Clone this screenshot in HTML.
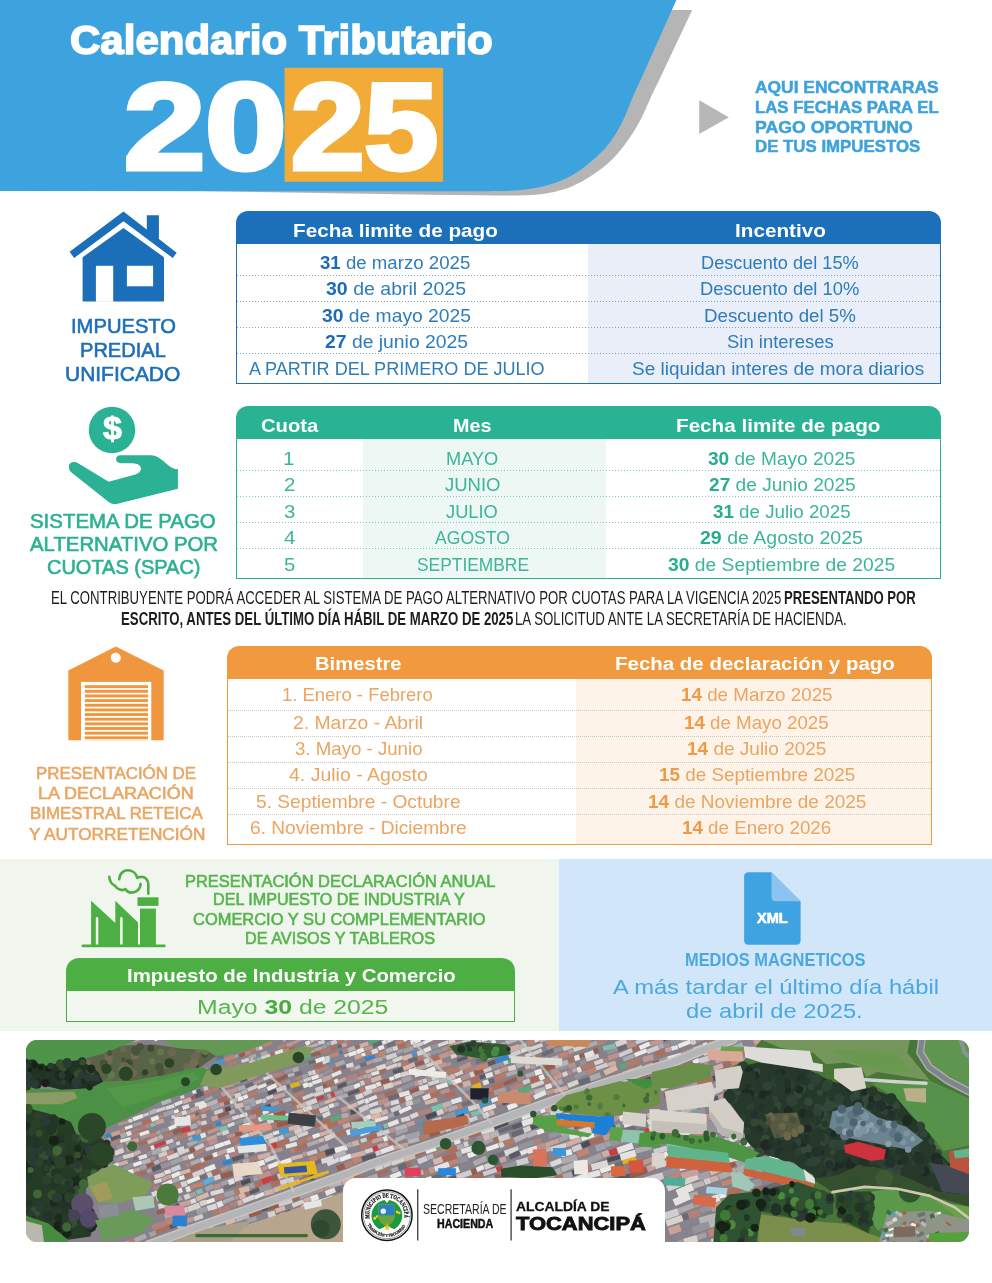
<!DOCTYPE html>
<html lang="es">
<head>
<meta charset="utf-8">
<title>Calendario Tributario 2025</title>
<style>
html,body{margin:0;padding:0;background:#fff;}
body{width:992px;height:1283px;position:relative;overflow:hidden;font-family:"Liberation Sans",sans-serif;}
.abs{position:absolute;}
.t{position:absolute;white-space:nowrap;line-height:1;transform-origin:0 0;font-weight:400;}
.t b{font-weight:700;}
section,header,footer{position:absolute;left:0;top:0;width:992px;height:0;}
.tbl{position:absolute;overflow:hidden;border-radius:12px 12px 0 0;}
.tbl .bd{position:absolute;left:1px;right:1px;bottom:1px;background:#fff;overflow:hidden;}
.tbl .col{position:absolute;top:0;bottom:0;}
.tbl .ln{position:absolute;left:0;right:0;height:1px;}
svg{position:absolute;left:0;top:0;overflow:visible;}
</style>
</head>
<body>

<header>
<svg width="992" height="200" viewBox="0 0 992 200">
  <path d="M600,9.9 H692.2 L659.2,80 C657.9,82.7 654.4,89.7 651.4,96.1 C648.4,102.5 645.0,111.2 641.3,118.3 C637.6,125.4 633.9,131.8 629.2,138.5 C624.5,145.2 619.2,152.5 613.1,158.6 C607.0,164.7 600.0,170.1 592.9,174.8 C585.8,179.5 578.1,183.9 570.7,186.9 C563.3,189.9 555.9,191.5 548.5,192.9 C541.1,194.3 534.4,194.9 526.4,195.3 C518.4,195.7 507.9,195.5 500.2,195.5 C492.5,195.5 483.4,195.3 480.0,195.3 L430,194.8 L200,191 Z" fill="#b5b5b5"/>
  <path d="M0,0 H676.4 L640.6,80 C639.4,82.7 635.8,90.1 633.2,96.1 C630.6,102.1 628.0,109.6 625.0,116.0 C622.0,122.4 619.4,128.3 615.4,134.4 C611.4,140.5 606.8,146.7 601.0,152.6 C595.2,158.5 587.5,165.0 580.8,169.7 C574.1,174.4 567.3,177.9 560.6,180.8 C553.9,183.7 547.2,185.4 540.5,186.9 C533.8,188.4 527.0,189.3 520.3,190.0 C513.6,190.7 506.9,190.9 500.2,191.1 C493.5,191.3 483.4,191.2 480.0,191.2 L0,191.1 Z" fill="#3da3df"/>
  <rect x="284.6" y="67.8" width="158.5" height="114" fill="#f3ab37"/>
  <path d="M699.2,100.3 L728.9,117.2 L699.2,134.1 Z" fill="#b7b7b7"/>
</svg>
<span class="t" style="left:69.75px;top:20.55px;font-size:39.83px;color:#fff;-webkit-text-stroke:1.60px #fff;transform:scaleX(1.0551)"><b>Calendario Tributario</b></span>
<span class="t" style="left:124.40px;top:66.07px;font-size:122.82px;color:#fff;-webkit-text-stroke:5.00px #fff;transform:scaleX(1.1886)"><b>20</b></span>
<span class="t" style="left:290.71px;top:66.07px;font-size:122.82px;color:#fff;-webkit-text-stroke:5.00px #fff;transform:scaleX(1.0748)"><b>25</b></span>
<span class="t" style="left:755.19px;top:80.48px;font-size:16.86px;color:#3ea2dd;-webkit-text-stroke:0.50px #3ea2dd;transform:scaleX(1.0324)"><b>AQUI ENCONTRARAS</b></span>
<span class="t" style="left:755.00px;top:100.48px;font-size:16.86px;color:#3ea2dd;-webkit-text-stroke:0.50px #3ea2dd;transform:scaleX(0.9952)"><b>LAS FECHAS PARA EL</b></span>
<span class="t" style="left:754.87px;top:119.98px;font-size:16.86px;color:#3ea2dd;-webkit-text-stroke:0.50px #3ea2dd;transform:scaleX(1.0482)"><b>PAGO OPORTUNO</b></span>
<span class="t" style="left:754.99px;top:139.48px;font-size:16.86px;color:#3ea2dd;-webkit-text-stroke:0.50px #3ea2dd;transform:scaleX(0.9982)"><b>DE TUS IMPUESTOS</b></span>
</header>

<section id="predial">
<svg width="992" height="400" viewBox="0 0 992 400">
  <g fill="#1b6eb8">
    <path d="M146.8,215.3 H158.9 V242 L146.8,232.6 Z"/>
    <path d="M123.5,211.6 L176.7,252.8 L172.7,258 L123.5,221.3 L74.1,258 L69.6,251.7 Z"/>
    <path d="M123.5,228 L164,257.3 V301.4 H82.6 V257.3 Z"/>
  </g>
  <rect x="95.9" y="265.8" width="17.3" height="36" fill="#fff"/>
  <rect x="126.9" y="265.8" width="26.2" height="20.5" fill="#fff"/>
</svg>
<div class="tbl" style="left:236px;top:211px;width:705px;height:173px;background:#1c70b9;border-radius:12px 12px 0 0;">
  <div class="bd" style="top:32.8px;background:#fff;">
    <div class="col" style="left:351px;width:353px;background:#e9eef9;"></div>
    <div class="ln" style="top:31.2px;background:repeating-linear-gradient(90deg,#7fa3c8 0 1px,transparent 1px 3px);"></div>
    <div class="ln" style="top:57.2px;background:repeating-linear-gradient(90deg,#7fa3c8 0 1px,transparent 1px 3px);"></div>
    <div class="ln" style="top:83.2px;background:repeating-linear-gradient(90deg,#7fa3c8 0 1px,transparent 1px 3px);"></div>
    <div class="ln" style="top:109.2px;background:repeating-linear-gradient(90deg,#7fa3c8 0 1px,transparent 1px 3px);"></div>
  </div>
</div>
<span class="t" style="left:70.90px;top:316.47px;font-size:20.35px;color:#1c6fb8;-webkit-text-stroke:0.60px #1c6fb8;transform:scaleX(0.9920)">IMPUESTO</span>
<span class="t" style="left:79.77px;top:340.47px;font-size:20.35px;color:#1c6fb8;-webkit-text-stroke:0.60px #1c6fb8;transform:scaleX(0.9862)">PREDIAL</span>
<span class="t" style="left:64.84px;top:364.35px;font-size:20.49px;color:#1c6fb8;-webkit-text-stroke:0.60px #1c6fb8;transform:scaleX(1.0236)">UNIFICADO</span>
<span class="t" style="left:292.87px;top:220.88px;font-size:19.04px;color:#fff;transform:scaleX(1.0887)"><b>Fecha limite de pago</b></span>
<span class="t" style="left:734.83px;top:220.88px;font-size:19.04px;color:#fff;transform:scaleX(1.0877)"><b>Incentivo</b></span>
<span class="t" style="left:320.00px;top:255.24px;font-size:17.44px;color:#2d7cbc;transform:scaleX(1.0688)"><b style="color:#1b6cb6">31</b> de marzo 2025</span>
<span class="t" style="left:701.44px;top:255.24px;font-size:17.44px;color:#2d7cbc;transform:scaleX(1.0426)">Descuento del 15%</span>
<span class="t" style="left:326.00px;top:281.49px;font-size:17.44px;color:#2d7cbc;transform:scaleX(1.1192)"><b style="color:#1b6cb6">30</b> de abril 2025</span>
<span class="t" style="left:700.37px;top:281.49px;font-size:17.44px;color:#2d7cbc;transform:scaleX(1.0534)">Descuento del 10%</span>
<span class="t" style="left:321.50px;top:307.74px;font-size:17.44px;color:#2d7cbc;transform:scaleX(1.1056)"><b style="color:#1b6cb6">30</b> de mayo 2025</span>
<span class="t" style="left:704.26px;top:307.74px;font-size:17.44px;color:#2d7cbc;transform:scaleX(1.0729)">Descuento del 5%</span>
<span class="t" style="left:324.50px;top:333.99px;font-size:17.44px;color:#2d7cbc;transform:scaleX(1.1090)"><b style="color:#1b6cb6">27</b> de junio 2025</span>
<span class="t" style="left:726.87px;top:333.99px;font-size:17.44px;color:#2d7cbc;transform:scaleX(1.0578)">Sin intereses</span>
<span class="t" style="left:249.04px;top:361.24px;font-size:17.44px;color:#2d7cbc;transform:scaleX(1.0355)">A PARTIR DEL PRIMERO DE JULIO</span>
<span class="t" style="left:631.74px;top:361.24px;font-size:17.44px;color:#2d7cbc;transform:scaleX(1.0881)">Se liquidan interes de mora diarios</span>
</section>

<section id="spac">
<svg width="992" height="600" viewBox="0 0 992 600">
  <g fill="#2bb193">
    <circle cx="112" cy="430" r="23.2"/>
    <path d="M68.9,466.3 C68.9,463 73.5,460.6 78.1,463.2 L108.7,481.8 L135.3,474.6 C139.5,473 141.3,470.5 140.9,468 C140.4,465 137,463.6 133,463.3 L120.9,463.2 C114.5,463 114.5,455.2 120.5,455.2 L150.9,455.2 C158,455.2 163,461 168,465 C171,467.5 174,469.2 177.9,469.2 L177.9,488.7 L117.6,503.8 C113.5,504.6 111,503.6 108.7,502 L71.5,472.6 C69.5,470.8 68.9,468.8 68.9,466.3 Z"/>
  </g>
</svg>
<span class="t" style="left:103px;top:412.4px;font-size:32px;color:#fff;font-weight:700;-webkit-text-stroke:0.9px #fff;transform:scaleX(1.06)">$</span>
<div class="tbl" style="left:236px;top:406px;width:705px;height:173px;background:#2ab294;border-radius:12px 12px 0 0;">
  <div class="bd" style="top:33px;background:#fff;">
    <div class="col" style="left:125.9px;width:243.2px;background:#edf7f3;"></div>
    <div class="ln" style="top:31px;background:repeating-linear-gradient(90deg,#7cc9b6 0 1px,transparent 1px 3px);"></div>
    <div class="ln" style="top:57px;background:repeating-linear-gradient(90deg,#7cc9b6 0 1px,transparent 1px 3px);"></div>
    <div class="ln" style="top:83px;background:repeating-linear-gradient(90deg,#7cc9b6 0 1px,transparent 1px 3px);"></div>
    <div class="ln" style="top:109px;background:repeating-linear-gradient(90deg,#7cc9b6 0 1px,transparent 1px 3px);"></div>
  </div>
</div>
<span class="t" style="left:30.39px;top:511.71px;font-size:19.48px;color:#2bb193;-webkit-text-stroke:0.60px #2bb193;transform:scaleX(1.0488)">SISTEMA DE PAGO</span>
<span class="t" style="left:29.95px;top:534.97px;font-size:19.77px;color:#2bb193;-webkit-text-stroke:0.60px #2bb193;transform:scaleX(1.0294)">ALTERNATIVO POR</span>
<span class="t" style="left:46.64px;top:558.47px;font-size:19.77px;color:#2bb193;-webkit-text-stroke:0.60px #2bb193;transform:scaleX(1.0106)">CUOTAS (SPAC)</span>
<span class="t" style="left:260.50px;top:416.38px;font-size:19.04px;color:#fff;transform:scaleX(1.0640)"><b>Cuota</b></span>
<span class="t" style="left:453.24px;top:416.38px;font-size:19.04px;color:#fff;transform:scaleX(1.0376)"><b>Mes</b></span>
<span class="t" style="left:675.87px;top:416.38px;font-size:19.04px;color:#fff;transform:scaleX(1.0861)"><b>Fecha limite de pago</b></span>
<span class="t" style="left:283.32px;top:451.24px;font-size:17.44px;color:#3db59a;transform:scaleX(1.1700)">1</span>
<span class="t" style="left:446.44px;top:451.24px;font-size:17.44px;color:#3db59a;transform:scaleX(1.0436)">MAYO</span>
<span class="t" style="left:707.50px;top:451.24px;font-size:17.44px;color:#3db59a;transform:scaleX(1.0934)"><b style="color:#27ad90">30</b> de Mayo 2025</span>
<span class="t" style="left:283.74px;top:477.39px;font-size:17.44px;color:#3db59a;transform:scaleX(1.1700)">2</span>
<span class="t" style="left:444.92px;top:477.39px;font-size:17.44px;color:#3db59a;transform:scaleX(1.0609)">JUNIO</span>
<span class="t" style="left:708.50px;top:477.39px;font-size:17.44px;color:#3db59a;transform:scaleX(1.0962)"><b style="color:#27ad90">27</b> de Junio 2025</span>
<span class="t" style="left:283.67px;top:503.54px;font-size:17.44px;color:#3db59a;transform:scaleX(1.1700)">3</span>
<span class="t" style="left:446.44px;top:503.54px;font-size:17.44px;color:#3db59a;transform:scaleX(1.0487)">JULIO</span>
<span class="t" style="left:712.50px;top:503.54px;font-size:17.44px;color:#3db59a;transform:scaleX(1.0753)"><b style="color:#27ad90">31</b> de Julio 2025</span>
<span class="t" style="left:283.98px;top:529.69px;font-size:17.44px;color:#3db59a;transform:scaleX(1.1700)">4</span>
<span class="t" style="left:434.55px;top:529.69px;font-size:17.44px;color:#3db59a;transform:scaleX(1.0085)">AGOSTO</span>
<span class="t" style="left:699.50px;top:529.69px;font-size:17.44px;color:#3db59a;transform:scaleX(1.1201)"><b style="color:#27ad90">29</b> de Agosto 2025</span>
<span class="t" style="left:283.63px;top:556.84px;font-size:17.44px;color:#3db59a;transform:scaleX(1.1700)">5</span>
<span class="t" style="left:416.58px;top:556.84px;font-size:17.44px;color:#3db59a;transform:scaleX(0.9965)">SEPTIEMBRE</span>
<span class="t" style="left:668.00px;top:556.84px;font-size:17.44px;color:#3db59a;transform:scaleX(1.1050)"><b style="color:#27ad90">30</b> de Septiembre de 2025</span>
</section>

<section id="nota">
<span class="t" style="left:51.44px;top:589.37px;font-size:18.90px;color:#1d1d1b;transform:scaleX(0.6977)">EL CONTRIBUYENTE PODRÁ ACCEDER AL SISTEMA DE PAGO ALTERNATIVO POR CUOTAS PARA LA VIGENCIA 2025</span>
<span class="t" style="left:784.31px;top:589.01px;font-size:18.90px;color:#1d1d1b;transform:scaleX(0.6944)"><b>PRESENTANDO POR</b></span>
<span class="t" style="left:121.30px;top:610.01px;font-size:18.90px;color:#1d1d1b;transform:scaleX(0.6995)"><b>ESCRITO, ANTES DEL ÚLTIMO DÍA HÁBIL DE MARZO DE 2025</b></span>
<span class="t" style="left:515.42px;top:610.39px;font-size:18.90px;color:#1d1d1b;transform:scaleX(0.7012)">LA SOLICITUD ANTE LA SECRETARÍA DE HACIENDA.</span>
</section>

<section id="reteica">
<svg width="992" height="860" viewBox="0 0 992 860">
  <path d="M115.8,646.4 L163.7,670.4 V740.2 H68.3 V670.4 Z" fill="#f0963e"/>
  <circle cx="115.8" cy="657.7" r="5" fill="#fff"/>
  <rect x="81" y="681.9" width="70.3" height="58.5" fill="#fff"/>
  <g fill="#f0963e">
    <rect x="84.8" y="685.2" width="63.2" height="2.9"/>
    <rect x="84.8" y="689.85" width="63.2" height="2.9"/>
    <rect x="84.8" y="694.5" width="63.2" height="2.9"/>
    <rect x="84.8" y="699.15" width="63.2" height="2.9"/>
    <rect x="84.8" y="703.8" width="63.2" height="2.9"/>
    <rect x="84.8" y="708.45" width="63.2" height="2.9"/>
    <rect x="84.8" y="713.1" width="63.2" height="2.9"/>
    <rect x="84.8" y="717.75" width="63.2" height="2.9"/>
    <rect x="84.8" y="722.4" width="63.2" height="2.9"/>
    <rect x="84.8" y="727.05" width="63.2" height="2.9"/>
    <rect x="84.8" y="731.7" width="63.2" height="2.9"/>
    <rect x="84.8" y="736.35" width="63.2" height="2.9"/>
  </g>
</svg>
<div class="tbl" style="left:227px;top:646px;width:704.6px;height:199.4px;background:#f0993f;border-radius:12px 12px 0 0;">
  <div class="bd" style="top:32.5px;background:#fff;">
    <div class="col" style="left:348.2px;width:356px;background:#fdf3e9;"></div>
    <div class="ln" style="top:31.5px;background:repeating-linear-gradient(90deg,#cfc6ba 0 1px,transparent 1px 2px);"></div>
    <div class="ln" style="top:57.5px;background:repeating-linear-gradient(90deg,#cfc6ba 0 1px,transparent 1px 2px);"></div>
    <div class="ln" style="top:83.5px;background:repeating-linear-gradient(90deg,#cfc6ba 0 1px,transparent 1px 2px);"></div>
    <div class="ln" style="top:109.5px;background:repeating-linear-gradient(90deg,#cfc6ba 0 1px,transparent 1px 2px);"></div>
    <div class="ln" style="top:135.5px;background:repeating-linear-gradient(90deg,#cfc6ba 0 1px,transparent 1px 2px);"></div>
  </div>
</div>
<span class="t" style="left:36.25px;top:766.05px;font-size:16.86px;color:#eaa562;-webkit-text-stroke:0.60px #eaa562;transform:scaleX(1.0011)">PRESENTACIÓN DE</span>
<span class="t" style="left:38.10px;top:786.43px;font-size:16.86px;color:#eaa562;-webkit-text-stroke:0.60px #eaa562;transform:scaleX(1.0659)">LA DECLARACIÓN</span>
<span class="t" style="left:29.77px;top:806.06px;font-size:16.86px;color:#eaa562;-webkit-text-stroke:0.60px #eaa562;transform:scaleX(1.0003)">BIMESTRAL RETEICA</span>
<span class="t" style="left:28.87px;top:826.94px;font-size:16.86px;color:#eaa562;-webkit-text-stroke:0.60px #eaa562;transform:scaleX(1.0216)">Y AUTORRETENCIÓN</span>
<span class="t" style="left:315.00px;top:653.76px;font-size:19.19px;color:#fff;transform:scaleX(1.0542)"><b>Bimestre</b></span>
<span class="t" style="left:614.92px;top:653.76px;font-size:19.19px;color:#fff;transform:scaleX(1.0666)"><b>Fecha de declaración y pago</b></span>
<span class="t" style="left:282.35px;top:687.49px;font-size:17.73px;color:#eaa562;transform:scaleX(1.0413)">1. Enero - Febrero</span>
<span class="t" style="left:681.18px;top:687.49px;font-size:17.73px;color:#eaa562;transform:scaleX(1.0610)"><b style="color:#ee9a47">14</b> de Marzo 2025</span>
<span class="t" style="left:292.50px;top:714.59px;font-size:17.73px;color:#eaa562;transform:scaleX(1.0918)">2. Marzo - Abril</span>
<span class="t" style="left:684.20px;top:714.59px;font-size:17.73px;color:#eaa562;transform:scaleX(1.0562)"><b style="color:#ee9a47">14</b> de Mayo 2025</span>
<span class="t" style="left:294.50px;top:740.69px;font-size:17.73px;color:#eaa562;transform:scaleX(1.0526)">3. Mayo - Junio</span>
<span class="t" style="left:687.11px;top:740.69px;font-size:17.73px;color:#eaa562;transform:scaleX(1.0721)"><b style="color:#ee9a47">14</b> de Julio 2025</span>
<span class="t" style="left:289.19px;top:766.79px;font-size:17.73px;color:#eaa562;transform:scaleX(1.1004)">4. Julio - Agosto</span>
<span class="t" style="left:658.65px;top:766.79px;font-size:17.73px;color:#eaa562;transform:scaleX(1.0651)"><b style="color:#ee9a47">15</b> de Septiembre 2025</span>
<span class="t" style="left:255.87px;top:793.89px;font-size:17.73px;color:#eaa562;transform:scaleX(1.0819)">5. Septiembre - Octubre</span>
<span class="t" style="left:647.62px;top:793.89px;font-size:17.73px;color:#eaa562;transform:scaleX(1.0711)"><b style="color:#ee9a47">14</b> de Noviembre de 2025</span>
<span class="t" style="left:249.98px;top:819.99px;font-size:17.73px;color:#eaa562;transform:scaleX(1.0787)">6. Noviembre - Diciembre</span>
<span class="t" style="left:682.19px;top:819.99px;font-size:17.73px;color:#eaa562;transform:scaleX(1.0592)"><b style="color:#ee9a47">14</b> de Enero 2026</span>
</section>

<section id="ica">
<div class="abs" style="left:0;top:859.2px;width:559px;height:171.5px;background:#f0f6ee;"></div>
<svg width="992" height="1040" viewBox="0 0 992 1040">
  <g fill="#4daf43">
    <rect x="137.5" y="897.3" width="21" height="8.6"/>
    <rect x="140" y="908.6" width="15.9" height="37.5"/>
    <path d="M91.1,946 V900.8 L115.3,923 V900.8 L138,922.5 V946 Z"/>
  </g>
  <path d="M97.05,918.2 V945 M121.4,918.2 V945" stroke="#f0f6ee" stroke-width="2.5" stroke-linecap="round" fill="none"/>
  <path d="M82.9,945.9 H164.4" stroke="#4daf43" stroke-width="2.6" stroke-linecap="round" fill="none"/>
  <path d="M148.3,893.8 V884 C148.3,879.5 145,876.8 141,876.9 C139.5,876.9 138.3,877.3 137.3,878 C136,872.5 131.5,870.3 127.9,870.3 C122.8,870.3 119.2,874.5 119.2,879.2 M140.5,883.8 C140.8,888.5 136.5,892.6 131.5,892.6 C128.8,892.6 126.7,891.3 125.4,889 C123.8,890.3 121.8,890.3 119.8,889.6 C117.6,888.8 116,887.6 115.3,886 C112,884.5 109.5,881 109.3,876.8" stroke="#4daf43" stroke-width="2.6" stroke-linecap="round" stroke-linejoin="round" fill="none"/>
</svg>
<div class="tbl" style="left:66px;top:958px;width:449px;height:63.8px;background:#4daf43;border-radius:13px 13px 0 0;">
  <div class="bd" style="top:33px;left:0.9px;right:0.9px;bottom:0.9px;background:#f2f7f0;"></div>
</div>
<span class="t" style="left:184.83px;top:872.92px;font-size:16.28px;color:#56b44d;-webkit-text-stroke:0.60px #56b44d;transform:scaleX(1.0110)">PRESENTACIÓN DECLARACIÓN ANUAL</span>
<span class="t" style="left:212.88px;top:890.92px;font-size:16.28px;color:#56b44d;-webkit-text-stroke:0.60px #56b44d;transform:scaleX(0.9920)">DEL IMPUESTO DE INDUSTRIA Y</span>
<span class="t" style="left:193.23px;top:910.95px;font-size:16.28px;color:#56b44d;-webkit-text-stroke:0.60px #56b44d;transform:scaleX(1.0115)">COMERCIO Y SU COMPLEMENTARIO</span>
<span class="t" style="left:244.88px;top:929.92px;font-size:16.28px;color:#56b44d;-webkit-text-stroke:0.60px #56b44d;transform:scaleX(0.9995)">DE AVISOS Y TABLEROS</span>
<span class="t" style="left:127.35px;top:967.61px;font-size:17.59px;color:#fff;transform:scaleX(1.1607)"><b>Impuesto de Industria y Comercio</b></span>
<span class="t" style="left:196.60px;top:997.77px;font-size:19.77px;color:#56b44d;transform:scaleX(1.2528)">Mayo <b style="color:#48ab40">30</b> de 2025</span>
</section>

<section id="medios">
<div class="abs" style="left:559px;top:859.2px;width:433px;height:171.5px;background:#d1e6f9;"></div>
<svg width="992" height="1040" viewBox="0 0 992 1040">
  <path d="M748.6,872.2 H771.5 L800.6,901.2 V940.3 Q800.6,944.8 796.1,944.8 H748.6 Q744.1,944.8 744.1,940.3 V876.7 Q744.1,872.2 748.6,872.2 Z" fill="#3fa3e1"/>
  <path d="M771.5,872.2 L800.6,901.2 H776 Q771.5,901.2 771.5,896.7 Z" fill="#8cc3ef"/>
</svg>
<span class="t" style="left:756.97px;top:910.64px;font-size:14.24px;color:#fff;-webkit-text-stroke:0.60px #fff;transform:scaleX(1.0223)"><b>XML</b></span>
<span class="t" style="left:684.64px;top:951.61px;font-size:17.59px;color:#4aa8e1;transform:scaleX(0.9336)"><b>MEDIOS MAGNETICOS</b></span>
<span class="t" style="left:613.30px;top:975.66px;font-size:21.08px;color:#4aa8e1;transform:scaleX(1.1268)">A más tardar el último día hábil</span>
<span class="t" style="left:686.47px;top:1001.28px;font-size:20.93px;color:#4aa8e1;transform:scaleX(1.1335)">de abril de 2025.</span>
</section>

<footer>
<div class="abs" id="photo" style="left:26.2px;top:1040.2px;width:942.6px;height:201.5px;border-radius:11px;overflow:hidden;background:#8b8f7d;">
<svg width="942.4" height="201.6" viewBox="26.2 1040.2 942.4 201.6" preserveAspectRatio="none" style="position:absolute;left:0;top:0"><defs><filter id="soft" x="0" y="0" width="100%" height="100%"><feGaussianBlur stdDeviation="0.55"/></filter></defs><g filter="url(#soft)">
<polygon points="26.0,1040.0 969.0,1040.0 969.0,1242.0 26.0,1242.0" fill="#86818a"/>
<path fill="#95939b" d="M25 1042.5l8 -3.1 1.1 3 -8 3.1zM23.3 1069.6l4.2 -1.5 1.1 3.1 -4.2 1.5zM139.7 1037.4l4.6 -1.7 1.1 3.1 -4.6 1.7zM226.6 1039.6l4 -1.1 1.1 3.9 -4 1.1zM229.3 1073.4l2.8 -0.8 1.1 3.9 -2.8 0.8zM283.9 1070.7l7.8 -2.7 1.2 3.5 -7.8 2.7zM169.6 1121.6l9.2 -3.2 1.5 4.4 -9.2 3.2zM257.4 1090.3l3.4 -1.1 1.2 3.8 -3.4 1.1zM261.2 1089.6l5.2 -1.7 1.1 3.5 -5.2 1.7zM285 1081.1l5 -1.7 1.3 3.8 -5 1.7zM115.8 1145.9l6.8 -2.4 1.4 3.9 -6.8 2.4zM160.6 1129.5l7.3 -2.3 1.1 3.5 -7.3 2.3zM230.4 1104.7l3.9 -1.2 1.2 3.9 -3.9 1.2zM323.4 1072.3l8.8 -3.8 1.3 3.1 -8.8 3.8zM129.9 1146.8l8.1 -2.4 1.1 3.5 -8.1 2.4zM114.3 1158.6l8.2 -2.8 1.4 4 -8.2 2.8zM173.1 1137.9l3.5 -1.6 1.4 3.2 -3.5 1.6zM430.7 1045.8l6.6 -2.4 1.5 4.2 -6.6 2.4zM146.8 1152.4l4 -1.5 1.4 4 -4 1.5zM168.7 1145l6.9 -2.1 1.2 3.9 -6.9 2.1zM234.4 1121.7l7.8 -2.9 1.3 3.5 -7.8 2.9zM330.6 1087.5l6.2 -2.1 1.1 3.2 -6.2 2.1zM346.5 1081.3l10.6 -4.4 1.5 3.5 -10.6 4.4zM430.3 1051.5l11.3 -3.1 1 3.7 -11.3 3.1zM118.2 1169.4l5.1 -1.7 1.5 4.6 -5.1 1.7zM123.7 1166.9l8.5 -3.8 1.7 3.9 -8.5 3.8zM197.2 1141.2l8.4 -3.5 1.4 3.4 -8.4 3.5zM487.3 1042.7l3.2 -1.4 1.8 4.2 -3.2 1.4zM160.5 1165.2l9.2 -3.4 1.5 4.1 -9.2 3.4zM299.7 1123.2l4.3 -1.3 1.1 3.6 -4.3 1.3zM402 1086.6l10.9 -4.9 1.7 3.8 -10.9 4.9zM283.2 1133.8l10.4 -2.8 1.2 4.5 -10.4 2.8zM360.5 1113l8.8 -3.3 1.9 4.9 -8.8 3.3zM491.3 1065.8l11.8 -3.5 1.1 3.8 -11.8 3.5zM228.1 1166l5.2 -2.1 1.9 4.6 -5.2 2.1zM400.5 1104.6l4.5 -1.6 1.6 4.5 -4.5 1.6zM412.6 1100.8l7.6 -2.5 1.4 4.3 -7.6 2.5zM553.6 1049.1l8.5 -3 1.4 4.1 -8.5 3zM460.2 1088.7l11.4 -4 1.5 4.3 -11.4 4zM253.5 1171.5l7.3 -3.1 2 4.6 -7.3 3.1zM559 1067.3l8 -3.4 1.6 3.7 -8 3.4zM579.4 1061.4l5.8 -1.8 1.4 4.6 -5.8 1.8zM606.8 1051.2l10.1 -4 1.4 3.6 -10.1 4zM441.5 1116.9l13 -5.4 2.1 5.1 -13 5.4zM259 1187l11.7 -3.6 1.6 5.2 -11.7 3.6zM293.4 1174.7l8 -2.4 1.7 5.4 -8 2.4zM574.2 1075.3l11.3 -4.8 1.8 4.3 -11.3 4.8zM663.6 1044l5.7 -1.5 1 3.9 -5.7 1.5zM669.6 1040.8l9.9 -4.2 2.3 5.3 -9.9 4.2zM477.3 1115.8l4.4 -1.6 1.9 5.2 -4.4 1.6zM225.8 1213.9l4.4 -1.2 1.2 4.2 -4.4 1.2zM507.5 1120l12.5 -5.5 2.2 5 -12.5 5.5zM629.3 1077.6l8.6 -2.9 1.7 5.1 -8.6 2.9zM475.9 1137.4l6.3 -2 1.5 4.7 -6.3 2zM716.9 1052.2l12 -5.5 2 4.3 -12 5.5zM372.3 1181.8l8 -2.6 1.7 5.2 -8 2.6zM380.6 1178l8.9 -2.6 1.2 4.1 -8.9 2.6zM727.9 1054.9l11.9 -4.9 2.1 5 -11.9 4.9zM458.3 1158.1l8.5 -2.7 1.8 5.7 -8.5 2.7zM572.1 1116.6l13.3 -5.2 1.6 4.1 -13.3 5.2zM705.6 1070.3l5.4 -1.6 1.7 5.9 -5.4 1.6zM738.8 1058.6l9.9 -3.9 2.2 5.6 -9.9 3.9zM518.3 1145.2l14.9 -5.3 1.8 5.1 -14.9 5.3zM548 1134.1l11.8 -4.6 2 5.1 -11.8 4.6zM582.3 1122.7l6.9 -2.3 1.9 5.8 -6.9 2.3zM814 1039.7l9.1 -2.4 1.5 5.8 -9.1 2.4zM709.1 1084.4l9.9 -2.7 1.4 5 -9.9 2.7zM502.3 1165.3l13.4 -4.8 2 5.6 -13.4 4.8zM615.6 1131.4l7.2 -2.5 1.6 4.6 -7.2 2.5zM881.4 1037.7l13.4 -4.9 1.6 4.3 -13.4 4.9zM610.1 1141.1l8.8 -2.7 1.8 5.8 -8.8 2.7zM691.3 1111.6l13.1 -4 1.8 5.7 -13.1 4zM702.6 1124.2l10.2 -4.2 2.5 6 -10.2 4.2zM702.3 1131.9l13.6 -6.1 2.5 5.6 -13.6 6.1zM968.9 1036.9l12.3 -5.1 2.1 5.1 -12.3 5.1zM738 1134.9l9 -3.1 1.7 5 -9 3.1zM662.8 1171.5l15.5 -4.7 1.8 5.8 -15.5 4.7zM752.1 1181l8 -2.9 2.5 6.8 -8 2.9zM699.4 1208.5l10.2 -3.5 1.9 5.5 -10.2 3.5zM691.5 1227.5l16.5 -6.2 2.6 6.8 -16.5 6.2z"/>
<path fill="#d0b0a6" d="M24.2 1136.5l6.3 -2.7 1.5 3.5 -6.3 2.7zM209.1 1076.6l4.2 -1.3 1 3.2 -4.2 1.3zM303.1 1047.3l6.1 -2.2 1.3 3.7 -6.1 2.2zM182.5 1100.4l8.1 -3.1 1.5 3.9 -8.1 3.1zM359.3 1044.5l8.7 -2.8 1.2 3.7 -8.7 2.8zM233.3 1099.2l3.7 -1.4 1.3 3.4 -3.7 1.4zM125.7 1142.2l3.7 -1 0.8 3.1 -3.7 1zM133.8 1152.5l6.1 -2.6 1.5 3.4 -6.1 2.6zM365.2 1070.6l10.6 -3.1 0.9 3.1 -10.6 3.1zM118.8 1162.8l8.6 -2.6 1.1 3.5 -8.6 2.6zM296.1 1104.7l9.2 -2.8 1.4 4.6 -9.2 2.8zM459.3 1052.2l5.6 -2.2 1.3 3.2 -5.6 2.2zM182.1 1156.9l5.1 -1.6 1.4 4.2 -5.1 1.6zM245.1 1142.6l9.3 -3.2 1.4 4.1 -9.3 3.2zM509.5 1047.5l9.2 -3.2 1.7 4.8 -9.2 3.2zM539.1 1038.3l8.3 -2.6 1.4 4.5 -8.3 2.6zM253.7 1150.1l4.7 -1.7 1.2 3.5 -4.7 1.7zM233.8 1164.5l6.2 -2.2 1.2 3.4 -6.2 2.2zM257.6 1155.5l12.4 -3.3 1.2 4.6 -12.4 3.3zM319.7 1132.9l12.2 -4 1.3 3.9 -12.2 4zM342.5 1125l7.2 -2.5 1.4 4.1 -7.2 2.5zM380.5 1111.7l6.5 -2.7 1.8 4.4 -6.5 2.7zM462.2 1082.8l7.6 -2.6 1.7 5.1 -7.6 2.6zM523.6 1060.9l5.5 -1.7 1.6 4.9 -5.5 1.7zM592.6 1035.5l4.6 -1.8 1.5 3.8 -4.6 1.8zM288.3 1165.1l10.2 -3.1 1.1 3.8 -10.2 3.1zM351.4 1142.2l6.8 -2.3 1.7 5.1 -6.8 2.3zM350.7 1154.3l13.7 -3.6 1.2 4.5 -13.7 3.6zM607.5 1063.3l7.7 -2.7 1.4 4 -7.7 2.7zM237 1201.3l4.7 -1.7 1.7 4.8 -4.7 1.7zM264.1 1191.2l9 -2.5 1.4 5.1 -9 2.5zM290.5 1182.5l8.7 -3.6 1.8 4.5 -8.7 3.6zM488.6 1111.3l4.8 -1.6 1.7 5 -4.8 1.6zM553.9 1089.4l13.4 -3.7 1.1 4.1 -13.4 3.7zM700.7 1035.7l10.8 -4.2 2 5.3 -10.8 4.2zM211.2 1219.7l6.5 -2.3 1.4 4.1 -6.5 2.3zM341.4 1180l11.4 -5.1 2.3 5.1 -11.4 5.1zM462.5 1135.7l5.2 -2 2.1 5.5 -5.2 2zM303.7 1199l6 -2.2 1.4 3.9 -6 2.2zM713.2 1066.8l9.1 -3.7 1.7 4.3 -9.1 3.7zM668.4 1098.3l7 -2.3 1.9 5.9 -7 2.3zM566.1 1142.8l14.2 -5.6 1.7 4.4 -14.2 5.6zM601.6 1152.5l6.6 -2.6 2.2 5.5 -6.6 2.6zM698.4 1118.2l7.8 -2.3 1.6 5.4 -7.8 2.3zM602.2 1174.8l5.9 -2.5 2.3 5.5 -5.9 2.5zM710.1 1177.4l7.6 -2.2 1.6 5.3 -7.6 2.2zM974.4 1234.2l10.5 -4.4 2.2 5.4 -10.5 4.4z"/>
<path fill="#5aa87a" d="M303.5 1056.1l7 -2.3 1.2 3.7 -7 2.3zM368.3 1041.3l10.4 -3.5 1.3 3.8 -10.4 3.5zM329.9 1118.3l10.6 -4.3 1.6 3.9 -10.6 4.3zM508 1060.9l7.5 -3.4 1.6 3.6 -7.5 3.4zM517.9 1089.1l12.7 -3.8 1.6 5.4 -12.7 3.8zM619.3 1065.3l6.3 -2.7 1.9 4.5 -6.3 2.7zM435.4 1146.3l9.8 -2.9 1.3 4.5 -9.8 2.9zM486.3 1156.2l5.9 -1.7 1.6 5.7 -5.9 1.7z"/>
<path fill="#70707a" d="M244.9 1037.6l7.9 -3.5 1.4 3.2 -7.9 3.5zM216.4 1056.4l6.7 -2 1.2 4 -6.7 2zM25.1 1129.5l3.4 -1.1 1.1 3.4 -3.4 1.1zM219.1 1087.7l4.1 -1.2 0.9 3.1 -4.1 1.2zM294.4 1073l7.3 -2.3 1.3 4.1 -7.3 2.3zM386.6 1044.1l8.4 -2.7 1.2 3.7 -8.4 2.7zM341.2 1066.6l4.4 -1.5 1.1 3.4 -4.4 1.5zM292.2 1089.3l10 -3.5 1.4 4 -10 3.5zM360.1 1063.6l5.8 -1.6 1 3.8 -5.8 1.6zM457.4 1036.8l10.1 -4.4 1.6 3.7 -10.1 4.4zM133 1158.2l3.4 -1.3 1.2 3.1 -3.4 1.3zM173.3 1149.4l3.2 -1.4 1.5 3.5 -3.2 1.4zM346 1098.4l7.1 -3 1.7 4.1 -7.1 3zM475.5 1059.9l10.8 -3 1.2 4.4 -10.8 3zM248 1152.5l5.2 -2.2 1.7 3.9 -5.2 2.2zM199.6 1176.5l6.8 -2.3 1.2 3.6 -6.8 2.3zM517 1068.9l7.2 -3 1.8 4.3 -7.2 3zM223.2 1187.2l12.5 -5.4 1.6 3.6 -12.5 5.4zM461.7 1103.5l10.1 -3.5 1.3 3.7 -10.1 3.5zM312.4 1162.2l8 -3.6 1.9 4.2 -8 3.6zM299.7 1179.3l9.4 -3.1 1.4 4.1 -9.4 3.1zM578.2 1089l7.3 -2.5 1.6 4.7 -7.3 2.5zM647 1071l13.5 -4.9 1.6 4.3 -13.5 4.9zM334.9 1188.6l6.1 -2.7 2.1 4.7 -6.1 2.7zM265.8 1219.5l9 -3.5 1.8 4.6 -9 3.5zM472.1 1146.5l7.2 -2.5 1.6 4.6 -7.2 2.5zM492.5 1154.8l11.4 -3.7 1.5 4.6 -11.4 3.7zM682.5 1093.7l15.5 -4.4 1.5 5.2 -15.5 4.4zM623.2 1128.4l12.2 -3.3 1.1 4.3 -12.2 3.3zM632.9 1131.9l9.5 -3.6 1.8 4.6 -9.5 3.6zM528.3 1178.9l4.6 -1.9 2 4.8 -4.6 1.9zM689.4 1121.8l8.6 -3.1 1.8 5 -8.6 3.1zM614.4 1163.8l7.2 -3.2 2.8 6.2 -7.2 3.2z"/>
<path fill="#5ab0e0" d="M227.9 1070l6.9 -1.8 0.9 3.6 -6.9 1.8zM294.5 1060.8l4.2 -1.5 1.1 3.2 -4.2 1.5zM202.9 1181.1l10 -4.5 1.9 4.3 -10 4.5zM189 1240.5l10.7 -4.9 2 4.4 -10.7 4.9zM858.3 1038.7l11 -4.5 2.2 5.4 -11 4.5z"/>
<path fill="#a3a1a8" d="M24 1038.1l9.1 -3.2 0.9 2.7 -9.1 3.2zM161.9 1036.1l6 -1.7 1 3.6 -6 1.7zM167.8 1038.3l7.4 -2.7 1.2 3.2 -7.4 2.7zM175.6 1035.4l3.7 -1.4 1.4 3.7 -3.7 1.4zM191.4 1039.3l6.2 -2.6 1.6 3.8 -6.2 2.6zM233.7 1056l4.4 -2 1.2 2.6 -4.4 2zM281.8 1039.1l3.3 -1.4 1.5 3.6 -3.3 1.4zM235 1066.2l4.3 -1.7 1.3 3.1 -4.3 1.7zM283.2 1054.5l10.1 -3.6 1.4 3.9 -10.1 3.6zM290.5 1055.8l6.1 -1.8 1 3.5 -6.1 1.8zM321.8 1046.1l4 -1.7 1.3 3.2 -4 1.7zM326.3 1043.2l3.7 -1.4 1.2 3.1 -3.7 1.4zM343.4 1038.4l9.9 -3.3 1.2 3.5 -9.9 3.3zM132.5 1124.2l9 -2.7 0.9 3.1 -9 2.7zM163.1 1113.3l10.3 -3.8 1.5 4.2 -10.3 3.8zM204.5 1099.1l7.6 -3.3 1.3 3.1 -7.6 3.3zM227.3 1095.7l6.6 -3 1.4 3 -6.6 3zM210.2 1106.6l8.6 -3 1.5 4.3 -8.6 3zM302.1 1075.3l5.3 -1.5 1 3.5 -5.3 1.5zM156 1131.4l4.3 -1.2 1 3.8 -4.3 1.2zM243.1 1100.7l11.1 -2.9 1.1 4.4 -11.1 2.9zM299.5 1080.8l3.3 -1.1 1 3.1 -3.3 1.1zM318.5 1074.4l4.7 -1.3 1 3.7 -4.7 1.3zM250.1 1102.8l4.9 -1.4 1.2 4.4 -4.9 1.4zM382.1 1055.9l3.3 -0.9 0.9 3.2 -3.3 0.9zM396.4 1051.2l5.8 -2.2 1.2 3.3 -5.8 2.2zM402.7 1049.4l10 -3.7 1.6 4.3 -10 3.7zM385.6 1062.1l6.4 -1.9 1.1 3.7 -6.4 1.9zM334.2 1092.2l8.1 -2.4 1.2 3.9 -8.1 2.4zM140.1 1166.3l5.8 -1.8 1.3 4 -5.8 1.8zM241.9 1130.4l8.3 -3.1 1.4 3.7 -8.3 3.1zM319 1103l4.8 -1.6 1.2 3.6 -4.8 1.6zM146.5 1170.1l4.7 -1.5 1.2 3.6 -4.7 1.5zM170.1 1161.4l11.6 -4.3 1.5 4.2 -11.6 4.3zM259.8 1130l11.5 -4.5 1.5 3.8 -11.5 4.5zM401.5 1078.7l9.1 -3.4 1.8 4.7 -9.1 3.4zM243.7 1154.6l3.9 -1.4 1.4 4 -3.9 1.4zM387.6 1114.7l6.1 -1.9 1.2 3.8 -6.1 1.9zM530 1064.7l4.5 -1.6 1.8 5.1 -4.5 1.6zM189.5 1193.6l6 -1.9 1.4 4.5 -6 1.9zM204.8 1187.6l7.6 -3.5 2 4.3 -7.6 3.5zM220.1 1182.7l7 -2.8 1.5 3.7 -7 2.8zM474.7 1092.7l11.8 -4.9 1.9 4.7 -11.8 4.9zM253 1176.8l4 -1.3 1.6 4.6 -4 1.3zM493.5 1091.2l11.5 -4.6 1.8 4.5 -11.5 4.6zM223.7 1193.1l10.1 -3.1 1.5 4.8 -10.1 3.1zM249 1184.8l4.7 -2 1.8 4.1 -4.7 2zM395.2 1132l11.9 -4.7 1.6 3.9 -11.9 4.7zM196 1209.8l10.6 -3 1.5 5.2 -10.6 3zM405.4 1135.1l13.8 -3.8 1.4 5.1 -13.8 3.8zM680.1 1037l12.4 -3.9 1.6 5.2 -12.4 3.9zM148.9 1233l6.3 -2.2 1.5 4.1 -6.3 2.2zM491 1119.3l13.4 -5.4 1.5 3.7 -13.4 5.4zM617.7 1074.3l4.1 -1.2 1.1 3.8 -4.1 1.2zM659.2 1059.7l7.6 -3.1 1.8 4.3 -7.6 3.1zM159.4 1244.4l8.7 -2.4 1.5 5.6 -8.7 2.4zM298.6 1194.2l13.9 -5 1.9 5.3 -13.9 5zM531.3 1112.5l7.7 -3.2 2 5 -7.7 3.2zM730 1041.1l13.7 -5.5 1.6 3.9 -13.7 5.5zM215.7 1231l8.9 -3.2 1.6 4.4 -8.9 3.2zM246.6 1219.2l9.5 -2.9 1.3 4.1 -9.5 2.9zM402.2 1171l5.9 -2.2 1.4 3.9 -5.9 2.2zM455.6 1152.5l4.8 -1.9 2.2 5.6 -4.8 1.9zM479.7 1142.9l12.5 -5.4 1.7 3.9 -12.5 5.4zM663.1 1077.8l12.3 -5.5 2.3 5.2 -12.3 5.5zM687.7 1085.6l8.9 -3.6 1.9 4.6 -8.9 3.6zM558.7 1138.1l9.5 -4.2 1.9 4.3 -9.5 4.2zM837.1 1037.9l13.2 -4.3 1.5 4.7 -13.2 4.3zM478.9 1180.3l15.4 -5.3 1.7 5 -15.4 5.3zM595 1145.8l9.3 -3.1 2 6.1 -9.3 3.1zM604.6 1142.8l5.1 -2 2 4.8 -5.1 2zM576.2 1161.8l9.1 -3 1.6 4.7 -9.1 3zM585.6 1159.3l15.2 -6.6 2.5 5.8 -15.2 6.6zM713.3 1120.6l9.4 -4.1 2 4.7 -9.4 4.1zM973 1042.6l16 -5.1 2 6.2 -16 5.1zM697.3 1174.6l11.3 -3.7 2 6.3 -11.3 3.7zM735.1 1160.8l11.2 -4.7 2.7 6.4 -11.2 4.7zM749 1155.9l5.9 -2.4 2.2 5.4 -5.9 2.4zM693.6 1202.4l15 -6.1 2.2 5.4 -15 6.1zM696.7 1235.4l8.9 -3.2 1.7 4.9 -8.9 3.2zM974.6 1242.1l13.4 -3.8 1.9 6.7 -13.4 3.8z"/>
<path fill="#d03a40" d="M191 1097l2.9 -1.1 1.1 2.8 -2.9 1.1zM180.6 1128.8l9 -2.4 1.2 4.5 -9 2.4zM154 1144.8l11.2 -4.2 1.3 3.4 -11.2 4.2zM316.4 1098l6.9 -2.5 1.2 3.3 -6.9 2.5zM330.6 1093.2l3.3 -1.2 1.7 4.5 -3.3 1.2zM268.7 1144.7l7.9 -2.1 1.3 4.8 -7.9 2.1zM261.1 1179.6l9.6 -4.2 2.2 5 -9.6 4.2zM372.5 1147.3l4.6 -1.8 1.9 4.9 -4.6 1.8zM496.2 1167.6l5.6 -2.2 1.9 4.8 -5.6 2.2zM642.9 1129.8l5.3 -1.6 1.7 5.5 -5.3 1.6zM608.7 1150.7l7.6 -2.7 2.1 5.8 -7.6 2.7z"/>
<path fill="#b06e58" d="M213.6 1074.5l3 -0.8 0.9 3.3 -3 0.8zM270.1 1053.4l4.1 -1.4 1 3 -4.1 1.4zM330.5 1047.3l6.6 -2.7 1.5 3.7 -6.6 2.7zM141.8 1121.6l8.7 -2.6 1.1 3.7 -8.7 2.6zM397.5 1045.5l7.5 -3.1 1.6 3.9 -7.5 3.1zM146.8 1147.5l3.2 -1.4 1.3 3 -3.2 1.4zM326.7 1082.9l6.9 -1.9 1.2 4.5 -6.9 1.9zM268.5 1110.5l5.9 -2.2 1.7 4.4 -5.9 2.2zM290.8 1102.5l11.2 -3.5 1.3 4.2 -11.2 3.5zM428.7 1058.5l9.8 -3.3 1.6 4.7 -9.8 3.3zM130.5 1176.1l8.8 -3.2 1.7 4.5 -8.8 3.2zM307.3 1112.5l11.3 -4 1.3 3.7 -11.3 4zM200 1164.7l5.2 -2.2 1.5 3.5 -5.2 2.2zM238 1150.4l6.6 -1.8 0.9 3.4 -6.6 1.8zM322.1 1120.3l7.6 -2 1.3 4.9 -7.6 2zM184.2 1174.9l7.4 -2.8 1.3 3.4 -7.4 2.8zM276.8 1142.9l11.9 -3.9 1.5 4.6 -11.9 3.9zM327.4 1124.2l10 -3 1.3 4.3 -10 3zM556 1043.5l10 -3 1.3 4.3 -10 3zM430.1 1094.1l9.6 -3.8 1.7 4.4 -9.6 3.8zM470.1 1079.5l8.5 -3.4 1.8 4.6 -8.5 3.4zM529.5 1058.9l11.7 -4.3 1.2 3.4 -11.7 4.3zM150.9 1200l4.7 -1.4 1.3 4.3 -4.7 1.4zM294.7 1148.2l11.4 -5 1.9 4.3 -11.4 5zM335.1 1133.6l6 -2 1.2 3.5 -6 2zM341.4 1131.1l4.1 -1.5 1.4 3.9 -4.1 1.5zM444.8 1094.2l10.2 -3.5 1.6 4.7 -10.2 3.5zM492 1085.2l11.4 -3 1.4 5.1 -11.4 3zM567.8 1058.4l6.1 -1.7 1.1 4 -6.1 1.7zM236.4 1183.3l3.8 -1.6 1.7 3.9 -3.8 1.6zM487.4 1093.1l5.7 -1.8 1.3 4.2 -5.7 1.8zM254.2 1183l6.6 -2.2 1.7 5.1 -6.6 2.2zM271 1182.4l8.5 -3 1.4 4 -8.5 3zM301.6 1171.9l5.9 -2.6 2 4.5 -5.9 2.6zM387.9 1141.1l6.5 -1.7 1.1 4.1 -6.5 1.7zM155.6 1230.6l13 -5.3 1.5 3.8 -13 5.3zM655.3 1052.7l9.2 -3.2 1.7 5 -9.2 3.2zM482.7 1122.9l7.8 -3.3 1.9 4.6 -7.8 3.3zM512 1111.6l9.8 -4.2 1.8 4.2 -9.8 4.2zM538.8 1102.3l7.7 -2.7 1.7 4.7 -7.7 2.7zM353.5 1174.9l6 -1.8 1.4 4.6 -6 1.8zM446.2 1149.3l10.1 -3 1.6 5.3 -10.1 3zM492.9 1137.9l4.7 -1.5 1.6 5 -4.7 1.5zM686.4 1077.2l12.4 -5.2 1.8 4.4 -12.4 5.2zM697.1 1081.3l15.1 -4.7 1.3 4.2 -15.1 4.7zM536.9 1159.2l10.6 -4.3 1.8 4.4 -10.6 4.3zM685.8 1114.1l5.1 -2.1 2.1 4.9 -5.1 2.1zM664 1130.8l9 -2.5 1.6 5.8 -9 2.5zM554.5 1176.5l7.6 -2.7 1.7 4.8 -7.6 2.7zM725.6 1191.5l16.5 -6.7 2.2 5.4 -16.5 6.7zM721.7 1201.3l13.2 -4.6 1.9 5.6 -13.2 4.6z"/>
<path fill="#b0827a" d="M276.9 1046.4l9.3 -3.3 1.2 3.3 -9.3 3.3zM239.7 1064.6l5.7 -1.7 1.1 3.6 -5.7 1.7zM213.3 1078.8l3.3 -1.3 1.4 3.4 -3.3 1.3zM265.8 1070.7l7.7 -3.5 1.7 3.8 -7.7 3.5zM274.1 1067.6l5.5 -2.5 1.4 3 -5.5 2.5zM272.4 1074.4l9.9 -2.7 1 3.8 -9.9 2.7zM342.2 1049.7l4.6 -1.9 1.7 4.1 -4.6 1.9zM131 1130.4l6.9 -2.4 1 2.9 -6.9 2.4zM111.5 1142.5l7.9 -3.4 1.6 3.7 -7.9 3.4zM130.5 1135.7l8.4 -3.3 1.3 3.2 -8.4 3.3zM276.4 1084.5l8.4 -2.4 1 3.3 -8.4 2.4zM295.3 1077.6l6.5 -2.1 1 3 -6.5 2.1zM319.1 1069.1l9.8 -3.9 1.3 3.1 -9.8 3.9zM365.4 1051.7l5.3 -2.1 1.7 4.2 -5.3 2.1zM374.6 1053.5l3.2 -1 1.4 4.4 -3.2 1zM405.5 1043.5l4.3 -1.2 1.1 4.1 -4.3 1.2zM345.6 1077.1l10.8 -4.2 1.6 4 -10.8 4.2zM364.1 1080.5l6.1 -2.7 2 4.4 -6.1 2.7zM203.7 1144.4l3.9 -1.8 1.4 3.1 -3.9 1.8zM193.3 1152.3l9.7 -4.4 2 4.4 -9.7 4.4zM185.4 1164l4.4 -1.2 1 3.7 -4.4 1.2zM376.8 1096l7.5 -2.1 1.2 4 -7.5 2.1zM229.1 1154.1l8.6 -2.8 1.2 3.6 -8.6 2.8zM464.4 1069.8l11 -4.6 1.9 4.4 -11 4.6zM152.6 1187.1l6.4 -2 1.4 4.4 -6.4 2zM263.8 1146.5l4.7 -1.3 1.1 4.2 -4.7 1.3zM349 1116.5l11.2 -3.8 1.2 3.6 -11.2 3.8zM423.7 1091l11.8 -4.5 1.8 4.9 -11.8 4.5zM517.8 1056.6l7 -2.2 1.2 4 -7 2.2zM174.3 1185l6.1 -1.7 1.3 4.8 -6.1 1.7zM249 1158.5l8.3 -2.9 1.3 3.7 -8.3 2.9zM290.2 1149.5l4.1 -1.3 1.3 3.9 -4.1 1.3zM350.5 1128l6.4 -1.7 1.2 4.3 -6.4 1.7zM597 1040.8l7.6 -2 1.3 5.1 -7.6 2zM417.8 1111.6l13.1 -3.9 1.3 4.3 -13.1 3.9zM463.7 1095.6l10.9 -3.2 1.3 4.4 -10.9 3.2zM516.7 1077.6l6.1 -2.6 2.1 4.9 -6.1 2.6zM270.4 1170.3l10.9 -4.3 1.6 4.2 -10.9 4.3zM509.9 1086.1l12.4 -3.6 1.6 5.4 -12.4 3.6zM214.5 1196.5l9 -2.6 1.3 4.5 -9 2.6zM602.8 1059.3l4.5 -1.4 1.4 4.3 -4.5 1.4zM151.3 1225.5l13.2 -4.8 1.9 5.3 -13.2 4.8zM495.5 1102.5l5.4 -1.8 1.2 3.8 -5.4 1.8zM113.8 1245.2l10 -3.6 1.5 4.1 -10 3.6zM217.9 1208.9l11 -3.4 1.6 5.2 -11 3.4zM229.1 1203.7l7.2 -3.3 2.1 4.6 -7.2 3.3zM344.1 1162.9l7.8 -2.2 1.5 5.4 -7.8 2.2zM525.6 1098l7.4 -2.3 1.4 4.7 -7.4 2.3zM178.6 1244l10.2 -3.3 1.7 5.3 -10.2 3.3zM236.5 1224.1l9.8 -3.3 1.6 4.7 -9.8 3.3zM433.3 1152.5l12.2 -5.4 1.7 3.9 -12.2 5.4zM674.5 1067.4l9.1 -3.1 1.7 4.9 -9.1 3.1zM549.6 1124.9l11.2 -4 1.7 4.8 -11.2 4zM749.2 1053.7l11.6 -4.4 2.1 5.4 -11.6 4.4zM533.5 1140.4l6.8 -2.7 2 5.1 -6.8 2.7zM719.2 1080.1l9.9 -3.1 1.9 5.9 -9.9 3.1zM599.8 1130l10.4 -3.4 1.4 4.3 -10.4 3.4zM692.5 1096.7l5.8 -1.7 1.3 4.4 -5.8 1.7zM663.2 1138.1l8.7 -2.8 1.5 4.7 -8.7 2.8zM725.6 1123l10.7 -3.6 2.1 6.3 -10.7 3.6zM687.9 1212.5l11.4 -3 1.7 6.4 -11.4 3zM793.6 1175.3l10.6 -3.4 2.4 7.3 -10.6 3.4z"/>
<path fill="#a86a5a" d="M21.5 1074.3l7.7 -2 1 3.6 -7.7 2zM261.7 1036.1l6.8 -2.9 1.5 3.6 -6.8 2.9zM288.9 1048.2l6.1 -2.4 1.1 2.7 -6.1 2.4zM246 1068.2l9.4 -3.1 0.9 2.7 -9.4 3.1zM354.8 1046l4 -1.7 1.4 3.3 -4 1.7zM217.5 1099.5l9.4 -3.3 1.5 4.1 -9.4 3.3zM313.7 1065.2l8.4 -2.7 1.3 4 -8.4 2.7zM332.9 1068.7l8.1 -2.6 1.3 4.1 -8.1 2.6zM138.2 1142.8l8.8 -2.7 1.1 3.6 -8.8 2.7zM200.8 1127.8l11 -3.7 1.4 4.1 -11 3.7zM250.5 1111.5l9.4 -4.1 1.9 4.3 -9.4 4.1zM278.8 1100.5l3.2 -1.2 1.2 3.2 -3.2 1.2zM255.9 1113.5l5.8 -2.6 1.5 3.3 -5.8 2.6zM379 1070.5l6.3 -2.6 1.6 4.1 -6.3 2.6zM139.7 1172.4l6.5 -2 1.2 3.8 -6.5 2zM150.1 1176.9l3.5 -1.6 2.1 4.7 -3.5 1.6zM384.5 1093.1l12.1 -3.9 1.5 4.7 -12.1 3.9zM190 1167.7l9.3 -4 1.9 4.3 -9.3 4zM314 1124.1l7.9 -2.2 1.3 4.9 -7.9 2.2zM398.7 1098.8l5.6 -2.2 1.7 4.4 -5.6 2.2zM211.6 1171.7l8.5 -2.5 1.2 4.1 -8.5 2.5zM449.2 1086.4l12.5 -4.9 1.3 3.4 -12.5 4.9zM363.7 1123.1l10.5 -3.2 1.2 3.9 -10.5 3.2zM366.5 1137.3l9.4 -4 1.8 4.2 -9.4 4zM529.6 1078.1l8.7 -2.8 1.7 5.3 -8.7 2.8zM632.2 1048.2l6.3 -2.6 1.6 4 -6.3 2.6zM244.5 1193l4.2 -1.3 1.3 4.3 -4.2 1.3zM380 1158.4l13 -4.8 1.7 4.7 -13 4.8zM292 1197l6.3 -1.9 1.4 4.8 -6.3 1.9zM414.8 1153l9.6 -4.1 1.7 4 -9.6 4.1zM468.1 1134.6l12.1 -3.8 1.2 4 -12.1 3.8zM660.9 1065.6l13.4 -5.3 1.6 3.9 -13.4 5.3zM377.3 1172.8l10.8 -4.2 1.5 3.9 -10.8 4.2zM405.9 1163.3l4.3 -1.6 2 5.2 -4.3 1.6zM684 1064l8.2 -2.8 1.6 4.8 -8.2 2.8zM209.2 1239.7l11.3 -4.8 2.1 5.1 -11.3 4.8zM442 1157.3l13.3 -4.5 1.9 5.7 -13.3 4.5zM722.8 1064l7.4 -2.2 1.3 4.3 -7.4 2.2zM794.6 1037.6l7.7 -2.1 1.3 4.8 -7.7 2.1zM467 1178.1l15.2 -6 2.2 5.4 -15.2 6zM589.2 1140.6l13.3 -4.3 1.7 5.2 -13.3 4.3zM695.9 1102.4l12.9 -5.8 2.1 4.7 -12.9 5.8zM648.1 1136l6 -1.9 1.5 4.9 -6 1.9zM723.4 1117.1l5.6 -1.9 1.5 4.6 -5.6 1.9zM689.2 1162.2l5.8 -1.6 1.7 6.4 -5.8 1.6zM761.4 1167.6l12.6 -5.7 2.2 4.9 -12.6 5.7zM748.7 1191.5l13.3 -5.2 2.2 5.5 -13.3 5.2z"/>
<path fill="#d8b6aa" d="M63.4 1039.1l6.3 -2.7 1.5 3.6 -6.3 2.7zM214.3 1069.2l4 -1.5 1.3 3.6 -4 1.5zM309.9 1040.1l3.8 -1.7 1.4 3.1 -3.8 1.7zM201 1115l4.8 -1.4 1.2 3.8 -4.8 1.4zM234.6 1104.6l8.4 -2.2 1.2 4.5 -8.4 2.2zM147.2 1140.9l10.2 -4.4 1.5 3.6 -10.2 4.4zM187.1 1133.4l7.6 -2.8 1.2 3.3 -7.6 2.8zM402.7 1056.4l8.9 -2.7 1.4 4.5 -8.9 2.7zM370.8 1078.9l9.8 -3.7 1.6 4.2 -9.8 3.7zM402.8 1067.1l11.3 -4.9 1.7 3.9 -11.3 4.9zM294.6 1111l7.9 -2.3 1.3 4.4 -7.9 2.3zM324.2 1101.4l11.2 -4.2 1.2 3.3 -11.2 4.2zM434 1061.7l7.8 -2.5 1.4 4.3 -7.8 2.5zM248.8 1133.3l10.6 -3.9 1.4 3.7 -10.6 3.9zM392.7 1082.9l8.5 -2.7 1.2 3.6 -8.5 2.7zM288.5 1127.4l11.1 -3.1 1.2 4.1 -11.1 3.1zM347.1 1106.1l9.6 -3.6 1.4 3.7 -9.6 3.6zM417.8 1080.8l4.2 -1.1 1.3 4.9 -4.2 1.1zM180.1 1171.8l9.7 -3.2 1.2 3.5 -9.7 3.2zM449.5 1075.2l5 -1.4 1.4 4.9 -5 1.4zM370.7 1115.6l9.3 -3.6 1.8 4.6 -9.3 3.6zM494.2 1071.1l5.4 -2 1.5 4.1 -5.4 2zM318.3 1139.5l5.4 -1.5 1 3.5 -5.4 1.5zM424.6 1101.4l12.2 -3.7 1.2 3.9 -12.2 3.7zM524.7 1066.3l4.9 -2 1.5 3.6 -4.9 2zM291 1157l11.5 -3 0.9 3.6 -11.5 3zM195.9 1197.1l11.9 -4.9 1.8 4.3 -11.9 4.9zM238.9 1188.5l10 -2.7 1.4 5.3 -10 2.7zM238.5 1194.9l5.5 -2.5 2.2 4.8 -5.5 2.5zM308 1170.7l5.5 -1.7 1.2 3.8 -5.5 1.7zM464.3 1115l4.2 -1.4 1.7 5.1 -4.2 1.4zM273.2 1188.5l13.6 -5.3 1.7 4.5 -13.6 5.3zM603.4 1070.6l12.4 -5.6 2.4 5.2 -12.4 5.6zM196.6 1225.1l13 -3.7 1.4 4.8 -13 3.7zM471.6 1126.4l10.4 -4.6 2.3 5.1 -10.4 4.6zM622.1 1072.4l11.5 -4.4 2 5.2 -11.5 4.4zM634.1 1068.4l7.6 -3.5 2.1 4.5 -7.6 3.5zM225 1221.3l9.4 -3.7 1.8 4.6 -9.4 3.7zM403.6 1156.9l10.9 -3.4 1.5 5 -10.9 3.4zM274.8 1209l9.7 -3.4 1.5 4.3 -9.7 3.4zM482.5 1135.5l6.4 -2.5 2.2 5.6 -6.4 2.5zM275.3 1216.5l4.6 -2 1.9 4.3 -4.6 2zM432.7 1159.6l9 -3 1.8 5.5 -9 3zM558.7 1115.9l10.7 -4.4 2 5 -10.7 4.4zM646.8 1083.7l8.1 -2.3 1.1 4.1 -8.1 2.3zM646.4 1114.2l5.9 -2.5 1.9 4.6 -5.9 2.5zM715.5 1112.4l7.3 -2 1.4 4.9 -7.3 2zM708.9 1170.1l14.9 -6.5 2.6 5.9 -14.9 6.5z"/>
<path fill="#ecebe8" d="M153.8 1038.7l7.5 -3.3 1.4 3.1 -7.5 3.3zM184.2 1037.4l3.3 -0.9 0.9 3.4 -3.3 0.9zM198.1 1038.1l6 -1.6 0.9 3.4 -6 1.6zM25.4 1120.4l8.8 -4 1.4 3.1 -8.8 4zM305 1042.1l4.4 -1.7 1.4 3.7 -4.4 1.7zM132.5 1117.7l9.9 -3.6 1.4 3.7 -9.9 3.6zM124.7 1127.1l7.5 -2.4 0.9 3 -7.5 2.4zM150.7 1118l7.5 -2.8 1.5 4.1 -7.5 2.8zM173.8 1110.6l4.4 -1.6 1.2 3.3 -4.4 1.6zM315.2 1059.5l9.2 -3.1 1.3 4 -9.2 3.1zM348 1053.4l7.8 -2.8 1.4 3.8 -7.8 2.8zM356.1 1050.4l7.1 -2.9 1.6 4 -7.1 2.9zM139.4 1133.3l9.3 -3.2 1.2 3.5 -9.3 3.2zM186.4 1115.9l3.4 -1 0.9 3.2 -3.4 1zM237.4 1097.7l5.1 -1.6 1.3 4 -5.1 1.6zM242.8 1096.1l4.5 -1.8 1.4 3.6 -4.5 1.8zM266.7 1087.4l9.1 -4.1 1.7 3.9 -9.1 4.1zM361.1 1054l4 -1.3 1 3 -4 1.3zM377.8 1047l5.6 -2.1 1.5 3.8 -5.6 2.1zM402.6 1038.3l3.3 -1.5 1.7 3.8 -3.3 1.5zM168.2 1127.1l7.4 -2.9 1.4 3.5 -7.4 2.9zM311 1076.9l7.1 -2.6 1.3 3.6 -7.1 2.6zM410.1 1040.9l9.7 -3.5 1.5 4.2 -9.7 3.5zM302.5 1084.2l4.9 -1.9 1.7 4.3 -4.9 1.9zM422.6 1041.8l9 -4.1 1.4 3.1 -9 4.1zM333.8 1080.3l3.8 -1.6 1.6 3.8 -3.8 1.6zM132.9 1163.7l8.4 -3.1 1.3 3.6 -8.4 3.1zM353.4 1085.5l6 -2.7 1.7 3.6 -6 2.7zM128 1170.5l5 -1.5 1.3 4.4 -5 1.5zM389.1 1077.7l4.7 -1.6 1.1 3.4 -4.7 1.6zM491 1040.9l4.2 -1.5 1.3 3.6 -4.2 1.5zM187.6 1155.4l5.3 -2 1.7 4.6 -5.3 2zM214.2 1145.1l9.3 -3.2 1.4 4 -9.3 3.2zM223.8 1142l6.1 -2 1.3 4 -6.1 2zM425.5 1070.2l9 -3.9 1.8 4.1 -9 3.9zM212.4 1153.6l4.5 -1.6 1.5 4.2 -4.5 1.6zM226.3 1149.1l7.8 -2.2 1.3 4.7 -7.8 2.2zM171.2 1174.7l8.3 -3.6 1.7 3.9 -8.3 3.6zM162.1 1183.7l9.5 -4.3 1.6 3.7 -9.5 4.3zM178.8 1176.8l5.2 -1.5 1.1 3.8 -5.2 1.5zM204.1 1168.2l10.2 -4.3 2 4.7 -10.2 4.3zM436 1085.6l11.2 -3.4 1.3 4.4 -11.2 3.4zM451.6 1080.8l9.1 -3 1.5 4.4 -9.1 3zM186.6 1180.7l12.5 -4.9 1.4 3.7 -12.5 4.9zM312.1 1135.3l7.2 -2.6 1.4 3.8 -7.2 2.6zM573.3 1042.3l10.1 -4.1 1.4 3.5 -10.1 4.1zM177 1189.5l4.6 -1.7 1.6 4.4 -4.6 1.7zM253.6 1163l10.2 -3.4 1.7 5 -10.2 3.4zM345.9 1130.6l4.1 -1.5 1.9 5 -4.1 1.5zM398.7 1110.8l11.9 -5.3 1.6 3.5 -11.9 5.3zM267.6 1165.1l12.3 -4.7 1.6 4.3 -12.3 4.7zM280.4 1161.1l10.4 -3.4 1.5 4.6 -10.4 3.4zM359.4 1132.3l9.9 -3.8 1.7 4.4 -9.9 3.8zM534.1 1071l7.2 -2.4 1.7 5 -7.2 2.4zM574.1 1056.1l4.9 -1.3 1.3 5.1 -4.9 1.3zM334.4 1148.3l12.3 -3.3 1.3 5.1 -12.3 3.3zM538.6 1076.1l4.9 -1.9 1.8 4.8 -4.9 1.9zM205.9 1200.7l8.3 -2.8 1.3 3.7 -8.3 2.8zM382.7 1137.4l4.1 -1.6 1.8 4.6 -4.1 1.6zM490.8 1099.4l6.3 -2.7 1.6 3.8 -6.3 2.7zM639 1046.1l10 -4.4 1.8 4.1 -10 4.4zM339.3 1158l11 -4.2 1.6 4.3 -11 4.2zM634.1 1053.5l11.9 -4.8 1.6 3.8 -11.9 4.8zM506.8 1106l9.4 -4.1 2 4.7 -9.4 4.1zM677.7 1044.5l12.1 -4.8 1.6 3.9 -12.1 4.8zM185.3 1228.3l11.3 -2.9 1.3 4.9 -11.3 2.9zM218 1217.5l5.5 -2 1.7 4.6 -5.5 2zM256.4 1202.5l13.4 -4.9 1.8 5 -13.4 4.9zM702.5 1043.9l4 -1.6 2 4.8 -4 1.6zM202.1 1228.4l10.1 -2.9 1.6 5.8 -10.1 2.9zM425 1148.8l10.1 -3.3 1.7 5.3 -10.1 3.3zM539.5 1108.1l4.8 -1.5 1.7 5.5 -4.8 1.5zM688.4 1055.8l13.7 -5.5 1.6 4.1 -13.7 5.5zM310.1 1196.7l7.6 -2.6 1.8 5.3 -7.6 2.6zM692.5 1060.9l5.8 -2.6 1.8 4 -5.8 2.6zM248.3 1225.2l7.7 -2.7 1.7 5 -7.7 2.7zM318.5 1200.5l14.1 -5.1 1.7 4.7 -14.1 5.1zM389.7 1175.4l10.5 -4.3 1.8 4.5 -10.5 4.3zM467.1 1153.8l12 -4.2 1.7 4.7 -12 4.2zM485.9 1147.6l12 -4.2 1.5 4.2 -12 4.2zM536.2 1130.6l6.8 -2.7 1.9 4.7 -6.8 2.7zM426.1 1177.8l5.3 -1.6 1.8 5.9 -5.3 1.6zM445.1 1171.1l13.1 -5 2.2 5.8 -13.1 5zM823.2 1036.4l14.8 -5.6 1.6 4.2 -14.8 5.6zM476 1168l7.1 -3 1.7 4.1 -7.1 3zM580.9 1137.1l12.8 -4.3 1.4 4.3 -12.8 4.3zM623.1 1122.1l7.7 -2.3 1.7 5.8 -7.7 2.3zM560.5 1151.9l10.8 -2.9 1.5 5.6 -10.8 2.9zM522.9 1181.1l5.1 -1.6 1.4 4.5 -5.1 1.6zM673.2 1127.9l16.1 -5.1 1.6 5.1 -16.1 5.1zM572.6 1178.1l14.3 -5.4 2.4 6.2 -14.3 5.4zM599.6 1168.8l14.6 -4.8 1.7 5 -14.6 4.8zM653.9 1156.7l13.1 -5.2 2.2 5.4 -13.1 5.2zM742.9 1142.4l5.7 -1.9 1.8 5.4 -5.7 1.9zM718.8 1193.8l6.6 -1.8 1.4 5.2 -6.6 1.8z"/>
<path fill="#e0b020" d="M289.9 1084.1l9.5 -2.6 1.2 4.3 -9.5 2.6zM122.4 1173l5.2 -2 1.5 3.8 -5.2 2zM471.9 1085.7l8.4 -3.2 1.8 4.9 -8.4 3.2zM557 1103.3l5.3 -1.5 1.6 5.6 -5.3 1.5zM622.2 1160.2l13.2 -4.3 1.4 4.4 -13.2 4.3z"/>
<path fill="#2f86d0" d="M105.6 1135l5 -1.5 1.2 4.2 -5 1.5zM338.7 1051.3l3.2 -0.9 0.9 3.2 -3.2 0.9zM364.7 1057.9l9.7 -2.9 1.2 4 -9.7 2.9zM215.8 1123.2l4.7 -1.7 1.2 3.3 -4.7 1.7zM495.3 1058.8l12.5 -3.5 1.3 4.6 -12.5 3.5zM222.6 1161.8l8.8 -2.9 1.4 4.1 -8.8 2.9z"/>
<path fill="#b7b5b8" d="M91.8 1040l3.1 -1.1 0.9 2.7 -3.1 1.1zM101.9 1036.8l8.6 -3 0.9 2.7 -8.6 3zM187.8 1035.9l7 -3.1 1.3 3 -7 3.1zM273.3 1036.5l5.6 -2.5 1.4 3.1 -5.6 2.5zM265.1 1060.6l2.8 -1.2 1.2 3 -2.8 1.2zM309.6 1045.6l7.9 -2.6 0.9 2.9 -7.9 2.6zM161 1101.9l9.5 -3.4 1.4 3.8 -9.5 3.4zM214.3 1083.5l5.5 -1.8 1.1 3.5 -5.5 1.8zM148.9 1111.6l6.1 -2.8 1.8 3.9 -6.1 2.8zM347.2 1048.7l7 -3.1 1.8 4 -7 3.1zM206.7 1103.2l10.3 -4.1 1.6 4.1 -10.3 4.1zM240.8 1091.7l6 -2.4 1.3 3.4 -6 2.4zM287.7 1074.5l6.4 -1.8 0.8 3 -6.4 1.8zM385.4 1049.6l6.6 -2.5 1.6 4.2 -6.6 2.5zM158 1136.2l4.2 -1.8 1.7 3.9 -4.2 1.8zM228.7 1111.4l5.4 -2.2 1.6 3.9 -5.4 2.2zM354.2 1067.1l5.4 -2.2 1.3 3.2 -5.4 2.2zM470.3 1037.6l5 -1.4 1 3.3 -5 1.4zM141.7 1160.9l8.2 -2.8 1.4 4 -8.2 2.8zM216.3 1133.3l5 -1.4 0.9 3.2 -5 1.4zM153.8 1161.7l5 -2.2 1.5 3.5 -5 2.2zM255 1125.8l11.7 -3.2 0.9 3.3 -11.7 3.2zM465.3 1050l10.4 -4.7 1.7 3.7 -10.4 4.7zM505 1041.3l11.7 -3.9 1.3 3.9 -11.7 3.9zM519.1 1045.1l7.1 -2.3 1.6 4.8 -7.1 2.3zM439.1 1079.3l10.1 -3.4 1.6 4.6 -10.1 3.4zM24.5 1237.7l10.3 -3.9 1.4 3.6 -10.3 3.9zM583.9 1039.3l8.2 -3.5 1.7 4 -8.2 3.5zM548.1 1058.6l10 -3.4 1.4 4 -10 3.4zM441.6 1103.8l9 -2.9 1.6 4.9 -9 2.9zM554.4 1064.3l13.1 -4.5 1.6 4.6 -13.1 4.5zM394.9 1127.2l11.7 -3.5 1.2 3.9 -11.7 3.5zM333.3 1154.8l11.4 -5 2.1 4.7 -11.4 5zM394.6 1138.9l10.1 -4.4 1.7 3.8 -10.1 4.4zM533.8 1089.9l11.2 -3 1.3 4.8 -11.2 3zM407.7 1140.2l11 -3.1 1.2 4.1 -11 3.1zM462.6 1121.5l5.6 -2.2 2.1 5.4 -5.6 2.2zM393.4 1155l6.1 -1.6 1.1 4.3 -6.1 1.6zM234.9 1216.8l13.1 -4.8 2 5.6 -13.1 4.8zM328.2 1183.9l13.1 -3.4 1.2 4.4 -13.1 3.4zM426.6 1155.5l6.3 -2.1 1.6 4.7 -6.3 2.1zM489.4 1133.6l8.4 -3.3 2.1 5.3 -8.4 3.3zM393.4 1180.9l10.9 -4.4 2.2 5.5 -10.9 4.4zM412.6 1173.5l10.4 -3.6 1.5 4.2 -10.4 3.6zM513.3 1137.6l12.6 -5.7 2.4 5.3 -12.6 5.7zM526.7 1133.5l8.9 -3.7 2 4.8 -8.9 3.7zM669.4 1082.5l9.8 -3.6 2.1 5.7 -9.8 3.6zM418.5 1180.6l7.2 -2.7 1.7 4.5 -7.2 2.7zM455.8 1181.5l10.8 -3.8 1.8 5.1 -10.8 3.8zM537.3 1151.7l12.6 -5.3 1.7 4 -12.6 5.3zM680.2 1109l10.3 -3.4 1.8 5.6 -10.3 3.4zM505.3 1178.8l14 -6.1 2.5 5.7 -14 6.1zM560.4 1167.5l15.2 -6.3 2.2 5.2 -15.2 6.3zM689.8 1129.2l10.3 -3.4 1.7 5.1 -10.3 3.4zM608.6 1173.5l15.8 -7.1 2 4.4 -15.8 7.1zM716 1151.7l9.7 -2.9 1.5 5 -9.7 2.9zM692.3 1184l11.1 -3.2 1.4 4.9 -11.1 3.2zM752.6 1162.3l7.4 -3.1 2.7 6.4 -7.4 3.1zM760.6 1160.3l8.6 -2.9 2 6 -8.6 2.9zM742.8 1184.8l9.2 -2.6 1.7 5.8 -9.2 2.6zM972.7 1111.6l9.1 -2.5 1.5 5.3 -9.1 2.5zM698.5 1218l18.9 -5.2 1.6 6 -18.9 5.2zM708.5 1221.6l9.8 -2.8 1.9 6.5 -9.8 2.8zM665.3 1246.1l8 -2.6 2.2 6.6 -8 2.6z"/>
<path fill="#985c4e" d="M20.3 1066l5.7 -1.7 1.1 3.6 -5.7 1.7zM22.9 1100.4l4 -1.6 1.5 3.7 -4 1.6zM238.6 1054.5l5.7 -2.3 1.4 3.5 -5.7 2.3zM277.2 1056.9l5.6 -2 1.2 3.2 -5.6 2zM310.9 1054.1l9.5 -2.5 0.8 3.1 -9.5 2.5zM271 1080l5.9 -1.5 1.1 4.1 -5.9 1.5zM277.1 1078.8l9.8 -4.5 1.5 3.3 -9.8 4.5zM195.1 1113.4l3.2 -1.3 1.2 2.9 -3.2 1.3zM223.9 1102.2l5.4 -2 1.3 3.6 -5.4 2zM172.6 1131.3l7.4 -3.3 1.8 4.1 -7.4 3.3zM217.7 1114.7l10.4 -4.4 1.7 4 -10.4 4.4zM322.9 1084.8l3.4 -1.2 1.2 3.3 -3.4 1.2zM273.8 1113.7l11.4 -3.3 1.3 4.3 -11.4 3.3zM414.8 1063.3l8.4 -3 1.3 3.7 -8.4 3zM146.2 1164.9l7.1 -2.8 1.5 3.6 -7.1 2.8zM189 1149.1l4.8 -2.1 2 4.4 -4.8 2.1zM234.9 1133l6.8 -1.9 1.2 4.4 -6.8 1.9zM273.6 1119.2l11.3 -4 1.3 3.8 -11.3 4zM380.7 1080.6l8.1 -2.2 1.1 4.1 -8.1 2.2zM276.4 1123.3l11.3 -3.6 1.5 4.7 -11.3 3.6zM203.7 1157.7l8.3 -2.8 1.3 3.8 -8.3 2.8zM409.3 1090.4l8.8 -3.7 2 4.8 -8.8 3.7zM473.8 1071.7l8.8 -3.9 2 4.4 -8.8 3.9zM350.1 1122.3l12.4 -3.9 1.2 3.9 -12.4 3.9zM220.4 1174.5l11.9 -3.3 1.4 5 -11.9 3.3zM369.8 1129.9l13.1 -4.7 1.4 3.8 -13.1 4.7zM503.5 1082.5l12.5 -5.5 1.6 3.6 -12.5 5.5zM541.6 1067.5l12.1 -5 2 5 -12.1 5zM579.2 1054.4l4.6 -1.6 1.4 3.9 -4.6 1.6zM593.4 1049.2l3.9 -1.7 2.1 4.7 -3.9 1.7zM156.5 1211.3l9 -2.4 1 3.7 -9 2.4zM476.7 1097.7l10.3 -4.1 1.6 3.9 -10.3 4.1zM271.4 1176.5l5.4 -1.7 1.6 5.2 -5.4 1.7zM336.3 1166.1l7.4 -2.6 1.8 5.2 -7.4 2.6zM429.2 1133.2l4.3 -1.4 1.4 4.4 -4.3 1.4zM433.8 1131.7l5 -1.9 1.7 4.5 -5 1.9zM522.5 1108.4l11.1 -5 2.3 5.2 -11.1 5zM652.9 1062.5l5.9 -2.2 1.7 4.6 -5.9 2.2zM185.6 1234.8l10.5 -3.9 2.1 5.6 -10.5 3.9zM248.5 1213.1l12.2 -3.7 1.4 4.5 -12.2 3.7zM268.3 1205.2l9.6 -3 1.6 5.3 -9.6 3zM638.3 1073.7l8.4 -2.6 1.6 5 -8.4 2.6zM543.5 1126.9l5.7 -2.3 1.7 4.2 -5.7 2.3zM561.2 1121.9l10.8 -3 1.3 4.6 -10.8 3zM573.6 1125.7l8.2 -3.2 1.6 4 -8.2 3.2zM663.5 1093.8l12.4 -3.3 1.4 5.3 -12.4 3.3zM471 1169.7l4.7 -1.5 1.8 5.9 -4.7 1.5zM494.6 1175.1l5.3 -1.5 1.3 4.4 -5.3 1.5zM729.4 1115.1l9.2 -2.9 1.7 5.3 -9.2 2.9zM629.7 1173.1l16.2 -5.8 2.1 5.8 -16.2 5.8zM697.7 1165.9l14 -6.2 2.3 5.2 -14 6.2zM724.5 1165l9.8 -4.4 2.4 5.3 -9.8 4.4zM755.4 1153.9l15.9 -5.3 2 6.2 -15.9 5.3z"/>
<path fill="#b8928c" d="M123 1039l3.3 -1.4 1.4 3.4 -3.3 1.4zM253.1 1039.4l8 -3.6 1.4 3.2 -8 3.6zM252.8 1059.6l3.3 -1.2 1.5 3.9 -3.3 1.2zM238.9 1070.3l6.5 -2.9 1.3 3 -6.5 2.9zM237.6 1075.3l5.7 -1.9 1 2.9 -5.7 1.9zM118.1 1123.2l9.9 -2.6 0.8 3.1 -9.9 2.6zM233.5 1082.1l6 -1.6 0.8 2.8 -6 1.6zM246.8 1077.7l9.3 -4.2 1.7 3.8 -9.3 4.2zM253.2 1082.5l9.3 -3.9 1.2 2.8 -9.3 3.9zM140.1 1136.8l8.4 -3.1 1.2 3.1 -8.4 3.1zM179.3 1124l6.3 -2.1 1.4 4 -6.3 2.1zM126 1148.5l3.6 -1.1 1.1 3.7 -3.6 1.1zM350 1067.6l3.9 -1.1 1.1 4 -3.9 1.1zM220.9 1120.6l10.9 -3.4 1.3 4.1 -10.9 3.4zM248.8 1116l6.9 -2 1.2 4.2 -6.9 2zM441.7 1048.1l5.7 -1.8 1.1 3.5 -5.7 1.8zM150.3 1157.6l4.6 -1.7 1.3 3.4 -4.6 1.7zM208.2 1141.4l8.7 -2.6 1.3 4.3 -8.7 2.6zM226.6 1135.6l7.9 -2.6 1.1 3.3 -7.9 2.6zM446.7 1063.3l4.1 -1.4 1.1 3.3 -4.1 1.4zM234.3 1145.7l10.3 -3.8 1.5 4 -10.3 3.8zM426.8 1077.8l3.6 -1.5 1.7 4.1 -3.6 1.5zM458.6 1067l11.6 -5.3 2.1 4.6 -11.6 5.3zM378 1101l9.8 -3.2 1.6 4.8 -9.8 3.2zM545.6 1040.8l6.2 -2.8 1.7 3.7 -6.2 2.8zM461 1076.5l7.6 -3.1 1.7 4.2 -7.6 3.1zM546.6 1046.7l9 -3.5 1.4 3.5 -9 3.5zM157.8 1190.4l10.8 -3.7 1.4 4.1 -10.8 3.7zM220.3 1169l7.3 -3.2 1.5 3.3 -7.3 3.2zM270.1 1150.8l12 -3.4 1 3.6 -12 3.4zM440.2 1091l8.8 -2.5 1.1 3.8 -8.8 2.5zM213.1 1185.1l6.8 -2 1.4 4.8 -6.8 2zM626.1 1038l11.1 -4.3 1.9 5 -11.1 4.3zM257.3 1174.9l12.9 -4.3 1.7 5 -12.9 4.3zM389.3 1128.8l5.3 -1.8 1.6 4.6 -5.3 1.8zM550.3 1070.9l8.4 -2.7 1.6 4.8 -8.4 2.7zM567.6 1064.8l7.3 -2.6 1.6 4.4 -7.3 2.6zM626.5 1043.7l8.6 -2.3 1.3 5.1 -8.6 2.3zM509.9 1091.4l7.6 -2.6 1.5 4.4 -7.6 2.6zM607.6 1056.2l10.5 -3.7 1.6 4.7 -10.5 3.7zM234 1196.6l4 -1.7 1.7 3.9 -4 1.7zM526.2 1092.6l7 -3 1.7 4 -7 3zM313.8 1174.5l9.3 -2.7 1.2 4.2 -9.3 2.7zM516.8 1101.4l8.2 -3.6 1.6 3.6 -8.2 3.6zM695.4 1038.2l4.8 -2.2 2.1 4.8 -4.8 2.2zM307.3 1184.9l6 -2.2 1.8 4.9 -6 2.2zM407.7 1148.9l7.4 -3 1.6 3.9 -7.4 3zM443.7 1137l12.2 -4 1.6 4.9 -12.2 4zM554.1 1097.6l13.7 -4.9 1.8 5 -13.7 4.9zM681.1 1052.5l11.4 -4.6 1.8 4.6 -11.4 4.6zM706.9 1043l8 -2.7 1.8 5.5 -8 2.7zM196.5 1230.2l5.1 -2.1 1.8 4.4 -5.1 2.1zM312.8 1189.9l10.5 -3 1.2 4.2 -10.5 3zM323.5 1185.3l4.4 -1.3 1.6 5.3 -4.4 1.3zM339.2 1193.9l7.6 -2 1.1 4.2 -7.6 2zM688.3 1069.4l14.8 -4.6 1.8 5.8 -14.8 4.6zM703.3 1063.2l4.1 -1.8 1.7 3.9 -4.1 1.8zM675.9 1089.4l11.4 -4.3 1.9 4.9 -11.4 4.3zM536.9 1145.3l7.4 -2.4 1.7 5.1 -7.4 2.4zM605.6 1120.6l12.3 -5.3 1.9 4.3 -12.3 5.3zM497.8 1181.2l7.1 -2.4 1.5 4.3 -7.1 2.4zM534.8 1167.8l15.1 -4.4 1.6 5.6 -15.1 4.4zM706.5 1115.3l8.4 -3.5 2.3 5.6 -8.4 3.5zM680.6 1154.3l13.6 -3.5 1.3 5.2 -13.6 3.5zM676.4 1241.7l6.6 -2.4 2.3 6.5 -6.6 2.4z"/>
<path fill="#d8d2cc" d="M37.8 1038.3l9.6 -3 1.1 3.7 -9.6 3zM49.9 1038.7l4.2 -1.9 1.2 2.7 -4.2 1.9zM54.6 1036.4l4.7 -1.5 1.1 3.5 -4.7 1.5zM24.2 1078.9l9.7 -2.7 0.9 3.3 -9.7 2.7zM21.7 1085.8l8.8 -2.8 1.2 3.7 -8.8 2.8zM21.5 1111.6l7.3 -2.1 1 3.7 -7.3 2.1zM302.6 1037l8.2 -2.6 1.2 3.8 -8.2 2.6zM24.1 1141.2l8.7 -3.5 1.5 3.9 -8.7 3.5zM260.9 1056.9l8.8 -3.4 1.3 3.3 -8.8 3.4zM243.6 1073.5l5 -1.9 1.2 3.2 -5 1.9zM280.9 1059.6l9.4 -2.7 1 3.5 -9.4 2.7zM302.8 1051.9l4.4 -1.6 1.4 3.9 -4.4 1.6zM23.7 1156.4l5.7 -2.2 1.4 3.5 -5.7 2.2zM234.4 1094.1l6.1 -1.7 1.2 4.2 -6.1 1.7zM392.4 1047.1l4.8 -1.4 1.2 4.2 -4.8 1.4zM114 1151.5l9 -3.5 1.7 4.4 -9 3.5zM200.7 1121.9l5.6 -1.5 1 3.8 -5.6 1.5zM255.3 1101l6.7 -2 1.2 3.8 -6.7 2zM265.9 1097.1l7.1 -2.5 1.2 3.4 -7.1 2.5zM413.1 1045l9.3 -3 1 3.1 -9.3 3zM122.8 1155.7l10.9 -2.9 1 3.8 -10.9 2.9zM165.7 1141.3l7 -2.6 1.3 3.5 -7 2.6zM392.2 1059.6l9.9 -4 1.4 3.5 -9.9 4zM416.6 1052l6.5 -2.3 1.6 4.5 -6.5 2.3zM448.4 1040.7l6.2 -2.1 1.5 4.4 -6.2 2.1zM160.8 1148.5l7.5 -2.8 1.4 3.7 -7.5 2.8zM175.9 1142.4l3.9 -1.1 0.9 3.3 -3.9 1.1zM302.3 1097.1l10.6 -4.5 1.4 3.4 -10.6 4.5zM313.5 1093.5l9.7 -3.4 1.3 3.8 -9.7 3.4zM385.8 1067.2l10.9 -3.9 1.2 3.3 -10.9 3.9zM221.6 1131.9l6.5 -2.4 1.5 4 -6.5 2.4zM305.5 1102l10.6 -3.7 1.6 4.5 -10.6 3.7zM423.6 1059.7l4.8 -1.8 1.7 4.5 -4.8 1.8zM178.1 1152.4l10.3 -4.1 1.3 3.2 -10.3 4.1zM266.8 1120.6l6.5 -2 1.2 3.9 -6.5 2zM400.8 1073.2l7 -2.2 1.3 4.2 -7 2.2zM408.1 1070.8l8.1 -3.6 2 4.4 -8.1 3.6zM425.9 1064.7l7.6 -2.9 1.2 3.2 -7.6 2.9zM450.3 1055.3l5.6 -2 1.4 4 -5.6 2zM476.5 1046.2l10.2 -4.2 1.4 3.5 -10.2 4.2zM318.9 1109.1l9.1 -3.4 1.8 4.7 -9.1 3.4zM383.2 1085.1l9.3 -2.8 1.4 4.8 -9.3 2.8zM25.4 1221.2l5.6 -2.2 1.7 4.3 -5.6 2.2zM154.2 1175.2l9.8 -2.8 1.1 3.9 -9.8 2.8zM199.9 1158.7l3.5 -1.2 1.5 4.2 -3.5 1.2zM505.7 1050.2l3.4 -1.3 1.3 3.6 -3.4 1.3zM268.4 1139.5l9 -2.7 1.3 4.5 -9 2.7zM427.8 1082.6l11.1 -3.4 1.1 3.7 -11.1 3.4zM454.7 1072.9l7.6 -2.6 1.3 3.7 -7.6 2.6zM530 1047.3l12.1 -4.1 1.2 3.6 -12.1 4.1zM192.1 1173.5l11.4 -4.8 1.9 4.4 -11.4 4.8zM297.1 1134.6l10.4 -3.8 1.3 3.6 -10.4 3.8zM369.7 1110.1l11.6 -3.1 1.3 4.8 -11.6 3.1zM469.2 1073.3l4.1 -1.8 2 4.6 -4.1 1.8zM503.3 1061.7l4.3 -1.5 1.2 3.4 -4.3 1.5zM525 1054.7l6.8 -2.5 1.3 3.5 -6.8 2.5zM180.6 1182.5l5.7 -1.6 1.5 5.1 -5.7 1.6zM507.6 1066.8l7.7 -2.1 1.4 5 -7.7 2.1zM213.6 1176.6l6.4 -2.3 1.5 4.3 -6.4 2.3zM323.9 1137l10.5 -4.6 2 4.6 -10.5 4.6zM534.9 1062.7l12.6 -5.1 1.7 4.2 -12.6 5.1zM573.1 1048.2l11.5 -4 1.4 3.9 -11.5 4zM183.5 1195.6l5.6 -2.2 1.9 4.7 -5.6 2.2zM400.7 1118.4l8.9 -2.4 1.2 4.4 -8.9 2.4zM615 1042.1l10.7 -3.9 1.9 5.2 -10.7 3.9zM436.2 1111.3l6.2 -2.5 1.9 4.7 -6.2 2.5zM585.6 1058l12.6 -4 1.3 4 -12.6 4zM173.3 1211.4l5.8 -2.3 1.6 4 -5.8 2.3zM187.1 1207.1l11.8 -4.4 2 5.2 -11.8 4.4zM199.3 1201.6l6.3 -2 1.6 5.2 -6.3 2zM467.8 1107l11.2 -3.2 1.3 4.7 -11.2 3.2zM530.7 1084.8l12.5 -4.6 1.4 3.8 -12.5 4.6zM562 1073.2l4.8 -2.1 1.9 4.2 -4.8 2.1zM593.9 1061.7l8.6 -3 1.4 4.1 -8.6 3zM279.8 1180.6l13.5 -3.7 1.3 4.6 -13.5 3.7zM364.5 1150.1l7.8 -2.4 1.2 3.9 -7.8 2.4zM567.3 1083.8l10.3 -4.2 1.8 4.4 -10.3 4.2zM288 1191.7l8.6 -2.7 1.3 4.1 -8.6 2.7zM296.9 1188.7l10.2 -3.1 1.4 4.7 -10.2 3.1zM319.6 1181.2l12.7 -5.5 1.7 3.9 -12.7 5.5zM342.2 1172.3l5.6 -1.6 1.5 5.2 -5.6 1.6zM399.8 1152.7l7.3 -3.3 2.1 4.7 -7.3 3.3zM374.4 1167.3l7.8 -2.9 1.6 4.2 -7.8 2.9zM391.1 1161.3l12.1 -4.5 1.7 4.6 -12.1 4.5zM702.7 1051.3l14 -5.7 2 5 -14 5.7zM267.3 1212.6l7.3 -2 1.6 5.8 -7.3 2zM291.7 1204l11.5 -4.6 1.6 3.9 -11.5 4.6zM463.3 1142.7l4.3 -1.4 1.6 4.8 -4.3 1.4zM195.3 1244l13.4 -5 1.6 4.3 -13.4 5zM523 1128.4l6.7 -2.8 2 4.9 -6.7 2.8zM498.3 1143.4l4.5 -2 2.3 5 -4.5 2zM659.8 1086.2l9 -4 2.3 5.2 -9 4zM483.7 1165.1l8.8 -3.6 2.1 5 -8.8 3.6zM675.7 1095.8l6.2 -2.8 2.4 5.4 -6.2 2.8zM550.5 1147.2l15.5 -4.3 1.2 4.4 -15.5 4.3zM663.4 1114l6.8 -2.6 2.2 5.9 -6.8 2.6zM648.4 1126.5l11.5 -4 2.2 6.3 -11.5 4zM921.9 1038.9l10.9 -4.9 2.7 6 -10.9 4.9zM654.4 1164.4l16.5 -5.5 1.7 5.1 -16.5 5.5zM666.3 1186.1l14.2 -5.9 2.4 5.7 -14.2 5.9zM683 1179.3l13.8 -5.6 2.4 5.8 -13.8 5.6zM774.8 1162.4l11.1 -4.7 2 4.7 -11.1 4.7zM665.6 1220.7l16 -5.6 2.1 6.1 -16 5.6zM683.4 1239l13.3 -3.7 1.8 6.3 -13.3 3.7z"/>
<path fill="#e6e4e2" d="M23.2 1095.6l5.3 -2.2 1.4 3.3 -5.3 2.2zM258.8 1047.3l3.2 -1 1 3.1 -3.2 1zM274.6 1051.9l7.9 -2.9 1.3 3.6 -7.9 2.9zM192.1 1091.2l3.9 -1.2 1 3.1 -3.9 1.2zM228.7 1078.4l8.2 -3.6 1.2 2.8 -8.2 3.6zM174.2 1103.4l7.8 -3.1 1.3 3.2 -7.8 3.1zM182.1 1106.4l6.6 -2.1 1.2 3.7 -6.6 2.1zM194.5 1103.4l9.9 -2.8 1.1 4 -9.9 2.8zM126 1132.8l4.5 -2 1.8 3.9 -4.5 2zM198.2 1105.8l8 -3.2 1.6 4.1 -8 3.2zM257.4 1086.1l8.6 -3 1.1 3.3 -8.6 3zM381.6 1041.5l4.6 -1.7 1.3 3.7 -4.6 1.7zM386.6 1039.8l10.2 -4.6 1.5 3.3 -10.2 4.6zM120 1140l10.4 -2.8 0.8 3.1 -10.4 2.8zM229.7 1101.1l3.2 -1.3 1.3 3.4 -3.2 1.3zM307.8 1083.6l3.7 -1.5 1.8 4.2 -3.7 1.5zM311.9 1081.6l9.5 -3.2 1.2 3.5 -9.5 3.2zM331.2 1074.3l9.4 -4 1.5 3.4 -9.4 4zM150.4 1146.4l3.2 -1.2 1.4 4 -3.2 1.2zM239.7 1115l7.3 -2.5 1.1 3.3 -7.3 2.5zM423.4 1049.3l6.7 -3 1.8 4 -6.7 3zM108.8 1166l9.6 -3.5 1.2 3.3 -9.6 3.5zM138.4 1156.5l8.1 -2.6 1.2 3.8 -8.1 2.6zM200.1 1134.2l5 -1.8 1.6 4.4 -5 1.8zM262.2 1112l5.6 -2.6 1.6 3.4 -5.6 2.6zM323.6 1089.4l6.7 -2.1 1.2 3.8 -6.7 2.1zM371.1 1072.9l7.7 -2.3 1 3.3 -7.7 2.3zM242.1 1124.8l8 -2.7 1.1 3.4 -8 2.7zM257.9 1118.3l6.9 -2.8 1.6 3.8 -6.9 2.8zM466.9 1044.8l5.5 -2.4 2 4.5 -5.5 2.4zM481.1 1038.7l7.2 -2.1 1.1 3.7 -7.2 2.1zM285.3 1114.1l9 -2.8 1.3 4.3 -9 2.8zM365 1086.7l10.7 -3.1 1.3 4.5 -10.7 3.1zM375.8 1083.2l4.5 -1.6 1.4 4.1 -4.5 1.6zM394.1 1075.3l6.3 -2.3 1.4 3.9 -6.3 2.3zM328.5 1105l5 -1.9 1.4 3.8 -5 1.9zM414.3 1074.3l10.9 -3.5 1.1 3.5 -10.9 3.5zM490.4 1046.9l9.7 -3 1.3 4.2 -9.7 3zM164.1 1171.1l6.3 -2 1.3 3.9 -6.3 2zM272.7 1132.3l6.1 -1.9 1 3.3 -6.1 1.9zM304.3 1122l6.2 -2.6 1.5 3.4 -6.2 2.6zM364.2 1099.7l3.5 -1.5 2 4.5 -3.5 1.5zM368.2 1098.3l8.1 -3.3 1.4 3.4 -8.1 3.3zM486.5 1055.9l8.6 -3.3 1.5 4 -8.6 3.3zM534.1 1039.4l4.6 -1.6 1.2 3.5 -4.6 1.6zM225 1155.3l3.7 -1.3 1.7 4.6 -3.7 1.3zM398.8 1093.3l10.4 -2.8 1.2 4.3 -10.4 2.8zM418.7 1087l8.9 -2.8 1.5 4.9 -8.9 2.8zM404.7 1097.2l6.6 -2.5 1.8 4.6 -6.6 2.5zM285.5 1145l11 -3.1 1.1 4 -11 3.1zM362.7 1117.6l7.4 -3.2 1.8 4.2 -7.4 3.2zM422.2 1096.6l7.3 -3.1 1.9 4.4 -7.3 3.1zM485.1 1074.3l7.2 -2.3 1.4 4.4 -7.2 2.3zM160.7 1195.6l11.8 -3.5 1.5 5.2 -11.8 3.5zM185.3 1187.7l4.4 -1.6 1.8 5 -4.4 1.6zM374.5 1119.3l13.1 -3.6 1 3.6 -13.1 3.6zM482.6 1081.3l5.6 -1.8 1.4 4.3 -5.6 1.8zM227.6 1180.5l5.7 -2.4 2.1 5 -5.7 2.4zM387.6 1123.1l10.3 -3.8 1.6 4.4 -10.3 3.8zM450.8 1100.1l10.4 -3.2 1.4 4.6 -10.4 3.2zM584.2 1053.6l8.8 -3.3 1.9 5 -8.8 3.3zM576.4 1068.2l3.8 -1.6 2 4.9 -3.8 1.6zM216.3 1202.9l5.5 -2.3 2.2 5.2 -5.5 2.3zM437.2 1124.2l6 -1.7 1.2 4.2 -6 1.7zM482.3 1108.3l12.9 -4.5 1.5 4.2 -12.9 4.5zM545 1085.5l6 -2.2 1.6 4.4 -6 2.2zM254.1 1196l9.4 -4.1 1.6 3.6 -9.4 4.1zM380.1 1149.9l13.1 -4.6 1.6 4.6 -13.1 4.6zM533.3 1095.6l11.6 -5.3 2 4.4 -11.6 5.3zM671 1046.8l6.5 -1.7 1.1 4.2 -6.5 1.7zM270.3 1198.6l4.3 -1.3 1.3 4.3 -4.3 1.3zM363.4 1165l10.3 -2.8 1.1 4.2 -10.3 2.8zM373.9 1161.7l5.8 -1.9 1.7 5.1 -5.8 1.9zM464 1129.7l7.1 -2.9 2.1 5.1 -7.1 2.9zM505.1 1113.9l6.4 -2.9 2 4.5 -6.4 2.9zM667.3 1056.8l13.7 -3.8 1.3 4.7 -13.7 3.8zM724.6 1036l7.4 -3.1 2 4.8 -7.4 3.1zM453.3 1140l6.1 -2.1 1.8 5.2 -6.1 2.1zM520.7 1115.1l10.1 -4 2.2 5.4 -10.1 4zM717.3 1046l5.5 -2 1.4 4 -5.5 2zM324.8 1191.5l9.5 -4 1.9 4.6 -9.5 4zM521.5 1121.3l11.3 -3.9 1.9 5.6 -11.3 3.9zM660.6 1071.5l13.6 -4.6 1.9 5.6 -13.6 4.6zM301.1 1206.3l9.5 -4.3 2.3 5 -9.5 4.3zM311.3 1203.7l6.9 -2.2 1.5 4.7 -6.9 2.2zM460.8 1149.3l11.2 -3 1.3 4.9 -11.2 3zM676.2 1073.6l11.3 -5.1 2.4 5.2 -11.3 5.1zM433.9 1166.9l14.4 -5.3 1.9 5.1 -14.4 5.3zM789.3 1039.8l5.1 -1.3 1.4 5.4 -5.1 1.3zM519.7 1151.6l6.8 -3 1.9 4.3 -6.8 3zM527 1148.6l9.7 -2.8 1.6 5.5 -9.7 2.8zM568.9 1134.7l9.3 -2.7 1.6 5.4 -9.3 2.7zM618.6 1116.7l10.2 -4.4 2.3 5.2 -10.2 4.4zM876.2 1038.2l4.9 -1.4 1.7 5.9 -4.9 1.4zM722 1100.6l5 -2.1 1.9 4.7 -5 2.1zM616.7 1148l15.4 -5.3 2.1 6 -15.4 5.3zM619.8 1154.2l15.2 -4.3 1.8 6.4 -15.2 4.3zM678.1 1132.9l11 -4.7 2.5 5.8 -11 4.7zM587.3 1173.3l12.2 -3.3 1.6 5.7 -12.2 3.3zM736.6 1120.6l13.3 -4.7 1.6 4.6 -13.3 4.7zM671.1 1158.1l8.8 -4 2.9 6.4 -8.8 4zM641.2 1178.7l7.6 -2.3 1.8 5.8 -7.6 2.3zM675.8 1190.2l15.8 -6.8 2.9 6.7 -15.8 6.8zM769.5 1156.2l8 -2.4 1.9 6.3 -8 2.4zM672.7 1199.6l15.7 -7.1 3 6.7 -15.7 7.1zM711.6 1196.5l6.9 -2.3 2.3 6.8 -6.9 2.3z"/>
<path fill="#dad8d8" d="M84.9 1037.8l5.3 -2.4 1.3 2.9 -5.3 2.4zM180.1 1096.5l3.9 -1.3 0.9 2.9 -3.9 1.3zM128.1 1119.9l4.1 -1.2 1 3.3 -4.1 1.2zM165.5 1106.7l8.5 -2.5 1 3.5 -8.5 2.5zM263 1078l9 -3.3 1.1 3 -9 3.3zM181.3 1111.8l4.9 -1.5 1.2 3.9 -4.9 1.5zM322.3 1061.9l6.7 -3 1.3 2.9 -6.7 3zM311.9 1071l3.1 -1 1.3 4.1 -3.1 1zM371.2 1050.3l6.3 -1.8 1.2 4.3 -6.3 1.8zM346 1064.4l7.1 -1.9 1.1 4.1 -7.1 1.9zM232 1117l7.4 -2.3 1 3.4 -7.4 2.3zM376 1066.7l9.3 -3.1 1.5 4.4 -9.3 3.1zM437.7 1044.3l10.3 -3.8 1.2 3.1 -10.3 3.8zM227.2 1124.6l6.7 -2.7 1.4 3.4 -6.7 2.7zM176.9 1148.4l6.9 -2.1 1.3 4.1 -6.9 2.1zM265.3 1115.8l8 -2.9 1.6 4.5 -8 2.9zM472.9 1042.6l7.7 -3 1.3 3.4 -7.7 3zM166.7 1156.3l11.1 -3.9 1.6 4.5 -11.1 3.9zM302.7 1108.2l8.7 -2.9 1.4 4.2 -8.7 2.9zM240.3 1136.5l8 -3.3 1.3 3.2 -8 3.3zM287.9 1119l8.6 -2.4 1.3 4.5 -8.6 2.4zM355.2 1095.7l7.2 -2.8 1.8 4.5 -7.2 2.8zM322.1 1114.4l7.4 -3.4 1.8 4 -7.4 3.4zM357.1 1102l6.6 -2.7 1.4 3.5 -6.6 2.7zM153.8 1180.7l7.5 -2.6 1.2 3.5 -7.5 2.6zM244.8 1148.8l6.8 -2.2 1.1 3.6 -6.8 2.2zM368.2 1104.7l9.3 -3.5 1.3 3.6 -9.3 3.5zM520.4 1049.8l9.2 -3.4 1.3 3.7 -9.2 3.4zM390.4 1101.5l8.1 -2.1 1.1 4.2 -8.1 2.1zM151.3 1192.7l6.1 -2.3 1.8 4.8 -6.1 2.3zM172.7 1192.2l4 -1.1 1.4 5.2 -4 1.1zM264.1 1159.2l12.4 -4.8 1.5 3.8 -12.4 4.8zM357 1126.5l6.3 -2.2 1.3 3.7 -6.3 2.2zM157.9 1204.5l8.7 -2.3 1.3 4.7 -8.7 2.3zM233.8 1177.5l8 -2.6 1.5 4.6 -8 2.6zM409.8 1115.3l7.4 -3.4 1.9 4.1 -7.4 3.4zM189.9 1200.1l5.6 -2 1.5 4.3 -5.6 2zM210.3 1192l12.8 -3.5 1.1 4.1 -12.8 3.5zM321 1159.1l12.1 -3.3 1.3 5 -12.1 3.3zM206.8 1206.3l9.2 -2.9 1.7 5.3 -9.2 2.9zM326.7 1162.6l12 -5 1.6 3.9 -12 5zM443.5 1121.2l12.4 -3.8 1.6 5.1 -12.4 3.8zM242.1 1199.4l11.4 -4.7 1.8 4.4 -11.4 4.7zM482.2 1114.2l5.8 -2.6 2.1 4.7 -5.8 2.6zM143.4 1242.9l10.5 -4.3 2.2 5.4 -10.5 4.3zM480.5 1129.4l13 -3.4 1.5 5.5 -13 3.4zM280.4 1213.9l4.4 -1.5 1.4 4.1 -4.4 1.5zM504.1 1151l13.8 -4.7 1.9 5.6 -13.8 4.7zM578.4 1130l12 -3.5 1.8 6.1 -12 3.5zM646.6 1120.3l13.9 -6.3 2.6 5.7 -13.9 6.3zM549.9 1162.5l10.8 -4.3 2 4.9 -10.8 4.3zM590.9 1164.5l16.2 -4.2 1.6 6.2 -16.2 4.2zM728.1 1138.3l9.2 -4.1 2.4 5.3 -9.2 4.1zM678.4 1165l10.6 -3.2 1.9 6.4 -10.6 3.2zM712.5 1161.3l12.5 -5.4 2.4 5.6 -12.5 5.4zM725.8 1156.8l15.8 -4.4 1.9 6.7 -15.8 4.4zM710.9 1239.4l7.7 -2.5 2.3 7.1 -7.7 2.5z"/>
<path fill="#adabae" d="M238.6 1039.8l5.8 -2.3 1.5 3.8 -5.8 2.3zM249 1056.5l6.5 -2.9 1.5 3.4 -6.5 2.9zM260.3 1053.3l6.5 -2.6 1.5 3.6 -6.5 2.6zM237.3 1087.3l7.5 -2.2 1.2 4 -7.5 2.2zM292 1068.6l6 -2.1 1.5 4.2 -6 2.1zM120 1134.4l5.6 -2 1.5 4.2 -5.6 2zM179.2 1117.7l4.5 -1.5 1 3.2 -4.5 1.5zM335 1063.5l9 -3.6 1.6 3.8 -9 3.6zM189.7 1125.7l6.7 -2.7 1.7 4.2 -6.7 2.7zM244.3 1106.3l5.5 -1.5 1.3 4.5 -5.5 1.5zM372.9 1059.3l9.1 -2.4 1 4 -9.1 2.4zM151.2 1151.3l9.1 -3.6 1.8 4.5 -9.1 3.6zM187.9 1138.1l4.1 -1.6 1.3 3.3 -4.1 1.6zM242.7 1119.6l5.7 -2.2 1.7 4.4 -5.7 2.2zM363.1 1075.4l3.5 -1 1.1 3.6 -3.5 1zM366.9 1074.5l3.9 -1.1 1.2 4.3 -3.9 1.1zM422.7 1055l7.2 -2.8 1.4 3.5 -7.2 2.8zM187 1143.7l9.5 -4.3 1.6 3.6 -9.5 4.3zM342.6 1088.3l10.5 -3.6 1.5 4.3 -10.5 3.6zM311.7 1106l7 -2.4 1.3 4 -7 2.4zM335.8 1096.8l11.5 -3.7 1.2 3.7 -11.5 3.7zM416.8 1067.4l9 -2.6 1 3.3 -9 2.6zM333.9 1103.8l4.3 -1.7 1.3 3.4 -4.3 1.7zM500.3 1043.8l4.3 -1.8 1.8 4.2 -4.3 1.8zM517 1037.8l6 -2.3 1.5 3.9 -6 2.3zM190.1 1162.1l9.3 -3.6 1.5 3.8 -9.3 3.6zM396.8 1088.9l4.9 -1.7 1.4 4.3 -4.9 1.7zM341.1 1114.5l7.2 -1.9 1.1 4.3 -7.2 1.9zM172.2 1179.6l6 -2.5 1.6 3.8 -6 2.5zM411.7 1093.8l11.6 -4.2 1.4 3.8 -11.6 4.2zM242.7 1160.2l6 -1.7 1.1 3.9 -6 1.7zM515.5 1064l7.6 -3.2 2.1 4.9 -7.6 3.2zM306.8 1143.3l11.2 -3.7 1.2 3.8 -11.2 3.7zM505.7 1073.5l11 -3.5 1.1 3.6 -11 3.5zM585 1045.1l11.6 -4.3 1.5 3.9 -11.6 4.3zM176.6 1197.8l4.7 -1.8 1.5 4 -4.7 1.8zM318.6 1147.8l9 -4 1.9 4.2 -9 4zM525.2 1074.4l8.6 -2.8 1.3 4.1 -8.6 2.8zM346.8 1143.7l4.3 -1.4 1.5 4.4 -4.3 1.4zM447.8 1108.2l8.9 -3.6 1.6 4 -8.9 3.6zM164.1 1214.4l9.1 -2.4 1.2 4.6 -9.1 2.4zM290.4 1169.5l6.5 -2.3 1.3 3.7 -6.5 2.3zM307.4 1163.6l4.6 -1.8 1.9 5 -4.6 1.8zM571.5 1069.4l4.4 -1.7 1.6 3.9 -4.4 1.7zM222.3 1200.9l11.1 -4.7 1.5 3.6 -11.1 4.7zM424 1128.9l13 -4.2 1.4 4.3 -13 4.2zM557.4 1080.7l4 -1.7 2.1 4.7 -4 1.7zM622.7 1057.7l11 -3.9 1.4 4.1 -11 3.9zM658.6 1044.8l4.7 -1.4 1.3 4.3 -4.7 1.4zM134.1 1238.5l11.1 -4.8 1.9 4.4 -11.1 4.8zM589.4 1076.2l10.4 -3.7 1.8 5.2 -10.4 3.7zM415.6 1145.7l11.9 -5.1 1.7 3.9 -11.9 5.1zM568.2 1092l9.6 -3.6 1.6 4.2 -9.6 3.6zM225 1227.7l11.4 -3.2 1.4 4.8 -11.4 3.2zM363.6 1178.4l13.4 -4.6 1.7 4.9 -13.4 4.6zM391.1 1168.9l6.5 -2 1.2 4.1 -6.5 2zM456.5 1145.5l6.6 -1.8 1.3 4.7 -6.6 1.8zM542.9 1114.8l6 -2.2 1.8 4.9 -6 2.2zM729.7 1047.4l12.4 -5.2 2.1 5.1 -12.4 5.2zM408.6 1168.1l8.8 -3.4 2.1 5.5 -8.8 3.4zM679.6 1079.3l6.5 -1.7 1.2 4.6 -6.5 1.7zM472.8 1161.8l12.7 -5.8 2.1 4.7 -12.7 5.8zM560.3 1130.8l13.3 -3.8 1.7 6 -13.3 3.8zM589.6 1119.2l10.7 -3.8 1.7 4.7 -10.7 3.8zM615.4 1125.1l4.5 -1.3 1.5 5.1 -4.5 1.3zM561.3 1158.7l15 -4.3 1.6 5.7 -15 4.3zM533.4 1177.3l15.3 -4.4 1.7 5.8 -15.3 4.4zM548.8 1172.4l10.9 -4.8 2.6 5.8 -10.9 4.8zM654.4 1135l9 -3.7 2.4 5.7 -9 3.7zM562.5 1174.5l8.9 -2.8 1.9 6.1 -8.9 2.8zM635 1149l15.9 -4.3 1.3 5 -15.9 4.3zM672.2 1135.3l5.6 -2 2.3 6.4 -5.6 2zM675.2 1149.4l14.8 -5 1.7 4.9 -14.8 5zM701.8 1147.8l9.7 -3.4 2.2 6.3 -9.7 3.4zM695.2 1158.8l6.1 -2.4 2.3 5.9 -6.1 2.4zM718 1174.6l17.1 -6.8 2.3 5.6 -17.1 6.8zM735.7 1168.1l16.1 -7 2.8 6.5 -16.1 7zM689.3 1193.5l7.9 -2.3 1.8 6.3 -7.9 2.3zM744.2 1174.2l17 -5.6 2 6 -17 5.6zM677.8 1208.7l15.3 -5.7 1.9 5 -15.3 5.7zM780.1 1171.5l13.9 -5.5 2.3 5.8 -13.9 5.5z"/>
<path fill="#cfcdd0" d="M70.2 1036.2l5 -2 1.2 3.1 -5 2zM241.2 1060.2l7.5 -2.4 1 3.1 -7.5 2.4zM248.8 1061.7l3.7 -1.4 1.1 2.9 -3.7 1.4zM255.7 1063.4l3.1 -0.8 0.8 2.9 -3.1 0.8zM293.7 1051.3l9 -3.4 1 2.7 -9 3.4zM317.8 1041.6l6.5 -1.9 1.1 3.7 -6.5 1.9zM334.4 1035.4l9.6 -3.8 1.5 3.9 -9.6 3.8zM203.3 1087.3l4.2 -1.3 1.2 3.9 -4.2 1.3zM271.2 1063.6l9 -3.9 1.4 3.3 -9 3.9zM307.6 1050.1l5 -1.9 1.4 3.7 -5 1.9zM330.4 1041.8l5.9 -2 1.3 3.7 -5.9 2zM142.8 1114.5l5.8 -2 1 2.8 -5.8 2zM155.6 1109.8l9.6 -3.2 1.1 3.2 -9.6 3.2zM324.8 1056.9l4.7 -1.3 1.2 4.3 -4.7 1.3zM171 1115.9l4 -1.3 1.2 3.6 -4 1.3zM247.2 1088.5l9.6 -4 1.5 3.5 -9.6 4zM344 1054.9l3.5 -1.5 1.2 2.8 -3.5 1.5zM307.7 1072.2l3.8 -1.6 1.7 4 -3.8 1.6zM406.4 1036.7l10.3 -4.3 1.6 3.8 -10.3 4.3zM213.8 1111.4l8.7 -2.9 1.2 3.7 -8.7 2.9zM276.2 1088.4l9.7 -3.3 1.4 4.1 -9.7 3.3zM303.2 1079.4l7.4 -2.5 1 3.1 -7.4 2.5zM262.2 1099.8l3.2 -1.4 1.6 3.8 -3.2 1.4zM385.7 1055.9l10.3 -3.5 1.5 4.5 -10.3 3.5zM20.4 1192.2l10.5 -4 1.1 3 -10.5 4zM282.4 1099.8l8.4 -2.7 1.1 3.5 -8.4 2.7zM315 1088.1l7.6 -2.3 1.2 4.1 -7.6 2.3zM397.1 1063.6l3.6 -1.2 1.2 3.5 -3.6 1.2zM461.4 1041.1l8.6 -3 1.3 3.7 -8.6 3zM158.2 1154.1l8.2 -3.1 1.5 4 -8.2 3.1zM360 1081.8l3.7 -1.4 1.7 4.4 -3.7 1.4zM488.5 1036.8l6.5 -1.9 1.3 4.4 -6.5 1.9zM194.3 1147.2l8.8 -3.9 1.7 3.7 -8.8 3.9zM205.2 1148.3l8.7 -2.7 1 3.3 -8.7 2.7zM362.8 1092.3l8.4 -3.8 1.9 4.1 -8.4 3.8zM170.7 1168.4l9 -3.6 1.7 4.3 -9 3.6zM260.3 1137.2l12 -4.4 1.6 4.4 -12 4.4zM422.3 1079.5l4.3 -1.1 1.1 4 -4.3 1.1zM430.9 1076.2l11.3 -3.7 1.5 4.7 -11.3 3.7zM277.7 1136.9l5.1 -2.1 1.7 4.1 -5.1 2.1zM293.8 1130.8l7.5 -3.3 2 4.4 -7.5 3.3zM301.9 1127.3l11.5 -4.8 1.8 4.3 -11.5 4.8zM358.4 1108.4l9.2 -4.1 2.1 4.7 -9.2 4.1zM507.9 1054.3l11.8 -4.9 1.8 4.4 -11.8 4.9zM289 1138.1l7.8 -2.6 1.3 4.1 -7.8 2.6zM483.2 1069.6l7.6 -3 1.5 3.7 -7.6 3zM532.2 1052.4l9 -3.9 1.5 3.4 -9 3.9zM168.9 1186.5l5.1 -1.6 1.2 3.8 -5.1 1.6zM206.7 1173.5l4.4 -1.8 2 4.8 -4.4 1.8zM390.3 1108.6l9.6 -4 1.8 4.4 -9.6 4zM405.3 1102.1l7 -1.9 1.2 4.4 -7 1.9zM562.5 1047.1l10.4 -3.9 1.6 4.3 -10.4 3.9zM155.9 1197.1l4.4 -1.8 1.7 4.3 -4.4 1.8zM306.9 1152.3l9.8 -3.1 1.2 3.9 -9.8 3.1zM360.3 1139.4l6 -1.8 1.2 3.9 -6 1.8zM376.6 1133l12.5 -3.8 1.2 4 -12.5 3.8zM522.4 1081.2l6.7 -2.7 1.6 3.9 -6.7 2.7zM635.3 1041.1l11.8 -4 1.2 3.6 -11.8 4zM179.6 1210.1l7 -3.1 2.2 5 -7 3.1zM277.1 1174.6l12.7 -5.3 2.1 5.1 -12.7 5.3zM297.3 1167.4l9.5 -3.9 1.9 4.5 -9.5 3.9zM431.7 1119.9l9.5 -3 1.6 5 -9.5 3zM618.4 1053.9l13.1 -5.6 1.6 3.8 -13.1 5.6zM516.1 1096.2l7.4 -2.9 1.7 4.4 -7.4 2.9zM595.4 1067l11.7 -4.2 1.4 3.8 -11.7 4.2zM646.5 1049.9l11.6 -4.6 1.7 4.4 -11.6 4.6zM176.1 1223.7l9.6 -4.3 2.3 5.2 -9.6 4.3zM193.5 1217.3l8.8 -3.3 1.6 4.2 -8.8 3.3zM375.2 1152l4.6 -1.7 1.5 4.3 -4.6 1.7zM444.1 1127.1l5.4 -2.2 2.1 5.2 -5.4 2.2zM468.6 1119l8.2 -3.2 1.6 4 -8.2 3.2zM690.3 1040.6l4.7 -1.7 1.8 4.8 -4.7 1.7zM354.3 1167.7l8.9 -2.4 1.1 4 -8.9 2.4zM534.4 1104.7l4.1 -1.2 1.3 4.8 -4.1 1.2zM585.8 1085l10.3 -3 1.2 4 -10.3 3zM693 1048l9.1 -3.3 1.5 4.2 -9.1 3.3zM715.3 1039.8l9 -3.1 1.6 4.8 -9 3.1zM278.1 1202.5l13.7 -4 1.3 4.5 -13.7 4zM382.6 1164l8 -3.1 1.6 4.1 -8 3.1zM417.1 1159.7l9 -3.8 2.1 4.9 -9 3.8zM549.3 1111.3l11.8 -4.4 2.1 5.6 -11.8 4.4zM698.9 1058.6l9.5 -2.9 1.6 5.2 -9.5 2.9zM221.1 1235.5l8.5 -3.7 1.8 4.1 -8.5 3.7zM497.9 1136.7l10.8 -3.4 1.8 5.6 -10.8 3.4zM456 1175l14.7 -5 1.6 4.9 -14.7 5zM698 1088.4l10.8 -3.7 1.8 5.4 -10.8 3.7zM482.8 1172.3l13.1 -4.4 1.4 4.2 -13.1 4.4zM516 1160.6l11.5 -3.3 1.7 5.8 -11.5 3.3zM666.9 1106.4l9.9 -4.2 2.2 5.3 -9.9 4.2zM706.6 1091.9l14.3 -6.3 2.4 5.6 -14.3 6.3zM571.5 1147.4l8.9 -3.5 2.1 5.3 -8.9 3.5zM653.2 1149.8l13.3 -4 1.5 5.1 -13.3 4zM716.7 1126.8l8.8 -2.3 1.7 6.5 -8.8 2.3zM707.2 1138.4l9.4 -3.8 2.7 6.5 -9.4 3.8zM711.9 1144.4l15.3 -6.9 2.3 5.1 -15.3 6.9zM649 1176.1l13.7 -3.7 1.8 6.7 -13.7 3.7zM725.9 1148.1l16.9 -5.1 1.6 5.3 -16.9 5.1zM703.6 1179.6l6.2 -2 1.8 5.5 -6.2 2zM661.5 1213.8l16.1 -5.3 2.2 6.8 -16.1 5.3zM973 1102.3l17.7 -5.2 2 6.7 -17.7 5.2zM972.8 1190.7l8.2 -3.5 2.3 5.5 -8.2 3.5zM972.6 1207.6l15 -4.8 2.1 6.7 -15 4.8z"/>
<path fill="#7cc0b0" d="M256.5 1058.6l3.9 -1.6 1.5 3.7 -3.9 1.6zM150 1124l4.6 -1.8 1.5 3.6 -4.6 1.8zM219.2 1127.6l7.7 -2.2 1.3 4.6 -7.7 2.2zM447.4 1081.1l3.7 -1.7 1.9 4.2 -3.7 1.7zM242.7 1167.1l7.4 -2 1.4 5 -7.4 2zM195.8 1191l6 -2.5 1.8 4.3 -6 2.5zM383.3 1124.5l4.1 -1.1 1.1 4.2 -4.1 1.1zM431.1 1107.1l10.1 -3.7 1.9 5.1 -10.1 3.7zM602.8 1046.6l12.1 -3.2 1.3 4.7 -12.1 3.2zM470.8 1112.5l11.5 -3 1.2 4.3 -11.5 3zM690.8 1105.3l4.8 -1.6 1.9 5.7 -4.8 1.6zM666.7 1144.3l16.4 -4.4 1.7 6.4 -16.4 4.4z"/>
<path fill="#86858f" d="M95.3 1038.3l6.3 -1.7 0.9 3.4 -6.3 1.7zM234 1036.3l9.7 -3.4 1.2 3.5 -9.7 3.4zM218.7 1067.2l5 -1.6 0.9 2.7 -5 1.6zM256.1 1054.1l3.8 -1.3 1.2 3.5 -3.8 1.3zM267.3 1050.8l9.1 -3.7 1.3 3.2 -9.1 3.7zM318.8 1037l4 -1.5 1.4 3.7 -4 1.5zM23.7 1146.8l2.9 -1.1 1.5 4 -2.9 1.1zM232.4 1073l6.1 -2 0.9 2.9 -6.1 2zM154.9 1105.4l5.7 -2.1 1.1 2.9 -5.7 2.1zM170.9 1098.8l8.6 -3.7 1.3 3 -8.6 3.7zM250.6 1070.3l10.5 -2.9 0.9 3.1 -10.5 2.9zM261.2 1067.6l9.4 -4.1 1.3 3 -9.4 4.1zM280.2 1065.3l3.6 -1 0.8 2.9 -3.6 1zM299 1058.5l4.2 -1.3 0.9 3 -4.2 1.3zM350.2 1041l8.8 -3.7 1.2 3 -8.8 3.7zM189 1103.9l5.1 -1.9 1.2 3.1 -5.1 1.9zM298.4 1065.5l9.6 -3.8 1.4 3.5 -9.6 3.8zM24.2 1168.2l9.1 -2.8 1.3 4.3 -9.1 2.8zM163.6 1119.5l7 -2.4 1.2 3.5 -7 2.4zM333.1 1058.3l10.5 -3.8 1.1 3.1 -10.5 3.8zM158.5 1125.7l11 -3.2 1 3.4 -11 3.2zM329.5 1064.8l5.3 -1.4 1 3.8 -5.3 1.4zM344.6 1059.8l9 -3.8 1.3 3.1 -9 3.8zM353.3 1061.7l7.9 -3.2 1.3 3.2 -7.9 3.2zM206.5 1119.7l4.1 -1.6 1.3 3.4 -4.1 1.6zM284.8 1091.1l7.2 -1.9 0.9 3.2 -7.2 1.9zM140.4 1150.1l6 -2.2 1.4 3.7 -6 2.2zM212.1 1124l3.2 -1.3 1.6 3.8 -3.2 1.3zM304.2 1091.2l10.4 -3.8 1.5 4 -10.4 3.8zM180 1140.7l7.7 -2.2 1.1 3.9 -7.7 2.2zM285.6 1103.2l4.8 -1.9 1.7 4.2 -4.8 1.9zM230.8 1129.1l10.9 -3.8 1.5 4.3 -10.9 3.8zM383.4 1074.8l8.7 -3.8 1.5 3.5 -8.7 3.8zM23.6 1207.6l10.2 -4 1.7 4.2 -10.2 4zM250.6 1127.8l3.9 -1.5 1.6 4.1 -3.9 1.5zM442 1058.2l7.9 -2.8 1.4 3.8 -7.9 2.8zM495.6 1039.4l7.7 -2.6 1.2 3.4 -7.7 2.6zM143.4 1179.3l6.4 -2.2 1.2 3.5 -6.4 2.2zM254.7 1139l5.4 -1.5 1.3 4.7 -5.4 1.5zM330.2 1112l8.5 -3.3 1.7 4.4 -8.5 3.3zM471 1061.7l4.2 -1.4 1.5 4.5 -4.2 1.4zM207.1 1161.1l10.6 -2.8 1.1 4.2 -10.6 2.8zM217.9 1157l6.7 -2.5 1.3 3.5 -6.7 2.5zM552.4 1038.2l8.4 -2.2 0.9 3.5 -8.4 2.2zM258.7 1149.6l4.6 -1.8 1.3 3.4 -4.6 1.8zM307.9 1131l10.9 -3.9 1.8 5 -10.9 3.9zM332.2 1128.2l9.7 -4.3 1.9 4.3 -9.7 4.3zM411.4 1106.4l12.7 -5 2 5.1 -12.7 5zM455.3 1090.3l4.6 -1.2 1.2 4.6 -4.6 1.2zM328.3 1144.2l13.3 -3.5 1.1 4.1 -13.3 3.5zM341.6 1138.7l4.2 -1.7 1.5 3.8 -4.2 1.7zM414.5 1120.2l9.2 -2.8 1.3 4.4 -9.2 2.8zM472.1 1099.3l4.2 -1.4 1.2 3.7 -4.2 1.4zM543.9 1073.2l5.9 -2.4 1.5 3.8 -5.9 2.4zM647.4 1036.5l7.1 -2.2 1.6 5 -7.1 2.2zM350.5 1148.3l7 -2.9 1.6 3.9 -7 2.9zM387.1 1135.8l7.9 -2.3 1.1 3.9 -7.9 2.3zM407.7 1128.6l11 -3.7 1.3 3.8 -11 3.7zM423.6 1123.1l7.7 -2.8 1.4 3.8 -7.7 2.8zM185.3 1213.6l10.5 -3.1 1.3 4.6 -10.5 3.1zM561.9 1079.1l11.8 -4.7 1.7 4.2 -11.8 4.7zM202.8 1213.2l8.8 -3.1 1.4 4 -8.8 3.1zM323.3 1171.6l12.9 -3.7 1.1 3.9 -12.9 3.7zM493.7 1109.7l12.6 -4.7 1.7 4.7 -12.6 4.7zM168.5 1234.3l5.4 -1.8 1.8 5.2 -5.4 1.8zM230.5 1213.1l13.3 -5 1.8 4.7 -13.3 5zM333 1175.4l9 -2.6 1.5 5.3 -9 2.6zM436.9 1138.3l6.6 -2 1.4 4.7 -6.6 2zM168.3 1241.4l6.1 -1.7 1.1 4.1 -6.1 1.7zM212.4 1225.6l12.1 -4.6 2 5.2 -12.1 4.6zM359.8 1172.3l14.1 -5.2 1.9 5.1 -14.1 5.2zM723.2 1043.6l6.3 -2.6 2.2 5.3 -6.3 2.6zM200.5 1235.8l12.8 -5.3 1.9 4.5 -12.8 5.3zM256.4 1216.1l10.3 -4.3 1.8 4.3 -10.3 4.3zM318.1 1194.5l6.3 -2.5 1.7 4.3 -6.3 2.5zM410.7 1161l5.9 -2.3 2 5.2 -5.9 2.3zM468 1140.2l7.7 -2.2 1.6 5.6 -7.7 2.2zM650.8 1075.9l9.2 -4.1 2.4 5.4 -9.2 4.1zM742.8 1042.9l10 -3.4 1.7 4.9 -10 3.4zM417.8 1165.5l14.3 -5.7 2.1 5.3 -14.3 5.7zM458.7 1166.9l13.3 -5.9 2.5 5.6 -13.3 5.9zM631 1119.1l15.3 -4.5 1.5 5 -15.3 4.5zM500.2 1172l13.2 -5.4 1.9 4.5 -13.2 5.4zM513.9 1168.1l9.3 -3.5 1.8 4.7 -9.3 3.5zM635.5 1124.4l10.8 -3.9 1.7 4.7 -10.8 3.9zM588.3 1148.9l6.1 -2.8 2.4 5.3 -6.1 2.8zM650.9 1142.3l12 -4.1 2 6 -12 4.1zM638.8 1154.4l14.1 -4.9 1.8 5.2 -14.1 4.9zM625.3 1167.4l11 -4.3 2.2 5.7 -11 4.3zM667.6 1151.9l7.2 -2.8 1.7 4.5 -7.2 2.8zM717.1 1133.7l16.5 -6.1 2 5.5 -16.5 6.1zM665.8 1193.5l9.4 -3.9 2.7 6.6 -9.4 3.9zM709.9 1186.5l11 -3.7 1.6 4.9 -11 3.7zM762.4 1177.6l16.9 -7.1 3 7.1 -16.9 7.1zM680 1223.1l18.1 -6.5 2 5.6 -18.1 6.5zM674.4 1234l17 -5.2 2.1 7 -17 5.2z"/>
<path fill="#3a9ad8" d="M215 1061.7l8.8 -3 1.1 3.3 -8.8 3zM268.4 1059.8l8.4 -3.2 1.5 3.9 -8.4 3.2zM329.6 1059.9l3.1 -1.2 1.5 3.9 -3.1 1.2zM411.8 1052.6l4.4 -1.5 1.3 3.7 -4.4 1.5zM192.4 1137.5l7.3 -2.8 1.7 4.3 -7.3 2.8zM279.1 1131l9.1 -2.9 1.4 4.4 -9.1 2.9zM419 1123.4l4.1 -1.8 2.2 5 -4.1 1.8zM455.1 1111.9l12.5 -3.9 1.5 4.6 -12.5 3.9zM479.1 1103l10.9 -4.9 2 4.4 -10.9 4.9zM622.6 1078.4l6.3 -2.5 1.6 4.1 -6.3 2.5z"/>
<path fill="#c08470" d="M224.1 1058.3l9.1 -3.5 1.5 3.9 -9.1 3.5zM244.7 1052.1l5.6 -1.8 1.2 3.9 -5.6 1.8zM262.3 1044.7l9.1 -3.5 1.2 3.1 -9.1 3.5zM282.9 1049.7l5.7 -1.8 1.2 3.7 -5.7 1.8zM220.1 1082l8 -3.6 1.5 3.4 -8 3.6zM256.8 1072.8l8.3 -3.8 1.5 3.3 -8.3 3.8zM119.8 1129.6l4.5 -1.6 1.5 4.1 -4.5 1.6zM158.6 1115.9l4.2 -1.2 0.9 2.9 -4.2 1.2zM329.7 1054.4l8.7 -2.6 1.2 4 -8.7 2.6zM145.2 1125.2l4.5 -1.2 0.9 3.4 -4.5 1.2zM200.6 1110.2l8.9 -4 1.5 3.3 -8.9 4zM315.4 1070.1l3.3 -1.1 1.5 4.3 -3.3 1.1zM395.3 1042.2l7.1 -2 0.9 3.1 -7.1 2zM148.9 1134.5l6.9 -1.8 1 3.7 -6.9 1.8zM188.9 1119.3l9.9 -3.8 1.2 3.2 -9.9 3.8zM378.1 1053.2l6.6 -3 1.8 3.8 -6.6 3zM447.7 1045.2l5.6 -1.6 1.3 4.3 -5.6 1.6zM166.8 1152l6 -2.4 1.7 4.2 -6 2.4zM22.7 1213.5l9.9 -4.5 1.4 3.1 -9.9 4.5zM296.7 1116.2l9.9 -4.3 1.7 4 -9.9 4.3zM467.2 1055.9l3.5 -1.4 1.7 4.4 -3.5 1.4zM526.6 1041.4l7.1 -2.7 1.8 4.8 -7.1 2.7zM476 1066l11.6 -3.1 1.3 4.8 -11.6 3.1zM337.6 1121.1l11 -4.1 1.5 4 -11 4.1zM306.2 1138l5.4 -2.2 1.4 3.4 -5.4 2.2zM190 1185.6l12.8 -3.7 1.1 3.9 -12.8 3.7zM558.4 1054.1l9.1 -2.7 1.5 5.1 -9.1 2.7zM308.9 1157.6l7.5 -2.4 1.6 4.9 -7.5 2.4zM457.2 1105l4.1 -1.4 1.6 4.4 -4.1 1.4zM567.3 1071.5l3.9 -1.2 1.2 4 -3.9 1.2zM164.9 1220.2l9.7 -3.8 2 5.1 -9.7 3.8zM586.1 1070.7l8.7 -3.8 2.1 4.8 -8.7 3.8zM352.1 1160l8.7 -4 2.1 4.6 -8.7 4zM452.3 1125.7l10 -3.6 1.7 4.7 -10 3.6zM278 1195.1l4.8 -1.9 1.9 4.9 -4.8 1.9zM456.2 1131.5l7.2 -3.2 2.1 4.7 -7.2 3.2zM596.2 1082.6l13.5 -5.9 1.6 3.8 -13.5 5.9zM174.7 1239.3l10.2 -4.6 2.1 4.6 -10.2 4.6zM356.3 1181.3l6.8 -2.7 1.9 4.7 -6.8 2.7zM533.1 1118.4l9.5 -3.2 1.4 4.3 -9.5 3.2zM448.8 1161.8l9.2 -3.1 1.4 4.2 -9.2 3.1zM479.4 1150.3l6 -2.5 1.9 4.7 -6 2.5zM730.5 1060.9l8 -2.3 1.6 5.5 -8 2.3zM527.6 1156.3l9.1 -3.8 1.8 4.3 -9.1 3.8zM593.9 1132.5l5.5 -1.8 1.7 5 -5.5 1.8zM670.6 1112.8l9.3 -3.3 1.8 5.1 -9.3 3.3zM576.4 1152.2l11.6 -4.2 2.1 5.8 -11.6 4.2zM686.1 1137.6l15.7 -5.7 2.1 5.7 -15.7 5.7zM694.2 1149.6l7.4 -2.2 1.9 6.5 -7.4 2.2zM975 1060l15.1 -6.7 2.8 6.4 -15.1 6.7zM663.4 1178.6l16.7 -7.2 1.9 4.5 -16.7 7.2zM721.2 1181.7l13.6 -3.8 1.4 5 -13.6 3.8zM707.4 1230.9l8.2 -3 2.3 6.2 -8.2 3z"/>
<path fill="#5a5a64" d="M213.8 1036.2l6.5 -2.7 1.6 3.7 -6.5 2.7zM216.9 1073.1l5.9 -2.1 1.3 3.8 -5.9 2.1zM25.5 1150.6l8.4 -3.5 1.5 3.6 -8.4 3.5zM196.3 1090.6l4 -1.6 1.5 4 -4 1.6zM194.4 1095.1l8.6 -3.8 1.7 3.9 -8.6 3.8zM284.1 1063.4l10 -3.5 1 2.9 -10 3.5zM110.4 1137.6l9 -3.8 1.6 3.8 -9 3.8zM337.1 1085.6l8.8 -3.6 1.5 3.7 -8.8 3.6zM392.7 1070.5l9.8 -3.2 1.3 3.9 -9.8 3.2zM347.6 1093l11.2 -4.4 1.3 3.3 -11.2 4.4zM151.5 1167.7l8.5 -3.4 1.7 4.4 -8.5 3.4zM456.8 1059.2l10.2 -3.5 1.1 3.3 -10.2 3.5zM487.7 1062.1l7.3 -2.3 1.3 4.1 -7.3 2.3zM231.8 1158l11.6 -3.9 1.4 4.1 -11.6 3.9zM479.1 1076l5.5 -2.3 1.6 3.9 -5.5 2.3zM249.1 1191.7l9.3 -4.2 1.6 3.5 -9.3 4.2zM501.3 1101.2l5.6 -2.5 2.3 5.1 -5.6 2.5zM169.2 1225.5l6.6 -2 1.2 3.9 -6.6 2zM361.5 1156.9l13.5 -4 1.5 5 -13.5 4zM283.3 1194.1l4.2 -1.9 2.1 4.8 -4.2 1.9zM260.9 1208l7.1 -2.1 1.2 4.1 -7.1 2.1zM511.6 1125.6l9.5 -3.4 1.6 4.4 -9.5 3.4zM448.6 1177.6l7 -2.5 2.1 5.7 -7 2.5zM508.7 1154.9l10.2 -4.7 2.2 4.8 -10.2 4.7zM610.4 1126.8l4.5 -1.9 2.4 5.7 -4.5 1.9zM709.6 1098.4l8 -2.4 1.4 4.7 -8 2.4zM613.3 1178.5l16.3 -4.9 1.7 5.5 -16.3 4.9zM701.7 1156.9l13.8 -5 2.1 5.8 -13.8 5z"/>
<path fill="#4e4e58" d="M239.7 1079l6.8 -2 1.1 3.5 -6.8 2zM224.7 1107.9l5.4 -1.5 1.2 4.4 -5.4 1.5zM267.4 1092l8.4 -3 1.3 3.5 -8.4 3zM260.5 1107.6l9.7 -3.6 1.5 4 -9.7 3.6zM106.7 1173.5l3.4 -1.2 1.6 4.3 -3.4 1.2zM111.7 1177.2l10.1 -4.5 1.9 4.2 -10.1 4.5zM252 1145.7l5.6 -2 1.2 3.4 -5.6 2zM350.2 1110.9l7.9 -2.4 1.2 4.1 -7.9 2.4zM166.8 1201.7l9.4 -3.2 1.4 4 -9.4 3.2zM244.5 1173.5l8.7 -3 1.4 4 -8.7 3zM165.6 1208.5l13.1 -5.1 1.5 3.8 -13.1 5.1zM240.7 1181.7l8.8 -3.7 1.8 4.2 -8.8 3.7zM324.9 1150.9l9.2 -2.9 1.6 5.2 -9.2 2.9zM425.5 1115.5l10.2 -4.1 1.9 4.8 -10.2 4.1zM662.3 1037.2l4.8 -2.2 2 4.4 -4.8 2.2zM456.1 1116.5l7.6 -3.3 1.8 4.2 -7.6 3.3zM309.4 1175.7l4.1 -1.1 1.4 5.3 -4.1 1.1zM548.8 1099l5 -1.6 1.6 4.9 -5 1.6zM493.6 1125.1l13.5 -4.9 1.7 4.6 -13.5 4.9zM636.7 1081.2l13.8 -4.7 1.9 5.7 -13.8 4.7zM285.2 1212l4.9 -2.2 2.2 4.8 -4.9 2.2zM530.3 1126l14.1 -5.5 1.7 4.3 -14.1 5.5zM712.4 1076.4l13.9 -3.8 1.4 5 -13.9 3.8zM580.9 1143.7l7.7 -3.4 2.3 5.1 -7.7 3.4zM571.7 1171.1l5.8 -2.3 2.1 5.3 -5.8 2.3zM607 1158.2l12.6 -3.5 1.2 4.5 -12.6 3.5z"/>
<path fill="#6a6a76" d="M285.6 1036.6l4.4 -1.8 1.5 3.9 -4.4 1.8zM337.6 1045.2l3.7 -1 0.9 3.2 -3.7 1zM245 1085.2l7.7 -3 1.3 3.2 -7.7 3zM308.4 1061.7l6.4 -2.3 1.1 3.2 -6.4 2.3zM266.4 1082.2l4.1 -1.8 1.2 2.8 -4.1 1.8zM372.4 1044.2l8.6 -3.8 1.8 4 -8.6 3.8zM286.2 1085.2l3.3 -1 1.3 4.3 -3.3 1zM408.1 1059.3l9 -2.8 1.3 4.1 -9 2.8zM311.1 1119.2l10.9 -3.2 1.3 4.3 -10.9 3.2zM257.9 1143.1l9.9 -4.2 1.9 4.5 -9.9 4.2zM388.1 1096.8l10.4 -3.2 1.2 4.1 -10.4 3.2zM541.6 1053.4l11.2 -5.1 1.7 3.7 -11.2 5.1zM394 1112.5l4.4 -1.3 1.3 4.3 -4.4 1.3zM488.5 1079.6l5.4 -1.5 1.3 4.6 -5.4 1.5zM617.4 1047.6l8.7 -3.1 1.5 4.2 -8.7 3.1zM175 1217.3l9.9 -3.5 1.6 4.6 -9.9 3.5zM578.2 1080.8l11 -3.5 1.7 5.3 -11 3.5zM154.4 1239.5l5.8 -2.1 1.9 5.3 -5.8 2.1zM313.7 1183.1l5.4 -2.3 1.9 4.4 -5.4 2.3zM397.9 1165.6l7.7 -2.8 1.9 5.3 -7.7 2.8zM498.3 1129.7l13.1 -4.3 1.3 3.9 -13.1 4.3zM511.1 1132.8l11.5 -4.2 1.9 5.1 -11.5 4.2zM431.7 1176.6l12.7 -5.4 1.8 4.4 -12.7 5.4zM493 1161.2l5.8 -2.2 2.2 5.8 -5.8 2.2zM682 1214.8l5.6 -1.8 1.9 6.2 -5.6 1.8zM762.5 1186.7l17.6 -5.8 1.7 5.1 -17.6 5.8z"/>
<path fill="#c09890" d="M126.7 1037.6l4.7 -2 1.2 2.8 -4.7 2zM210.2 1038.3l3.3 -1.1 1.3 3.9 -3.3 1.1zM286.6 1043.6l5.9 -1.8 1.1 3.7 -5.9 1.8zM292.7 1041.9l9.3 -4.2 1.2 2.6 -9.3 4.2zM223.2 1070.2l4.4 -1.4 1 3.2 -4.4 1.4zM314.2 1038.4l4.3 -1.3 1 3.4 -4.3 1.3zM223.5 1085.4l9.8 -2.7 1 3.4 -9.8 2.7zM220.9 1092.8l9.4 -3.3 1.5 4.2 -9.4 3.3zM230.6 1089.8l6.2 -2.5 1.5 3.8 -6.2 2.5zM186.5 1111.1l3.1 -1.1 1.3 3.8 -3.1 1.1zM363.7 1047.9l8.5 -2.5 1 3.3 -8.5 2.5zM190.1 1115.2l4.7 -1.3 1.2 4.3 -4.7 1.3zM420.1 1037.2l3 -1.3 1.5 3.4 -3 1.3zM423.7 1035.8l6.5 -2.5 1.3 3.3 -6.5 2.5zM366.1 1062.2l6.2 -2.8 1.5 3.3 -6.2 2.8zM195.1 1131l5.3 -2 1.5 3.9 -5.3 2zM270.6 1103.5l7.7 -3.1 1.4 3.5 -7.7 3.1zM22.6 1196.6l4.5 -1.2 1.2 4.5 -4.5 1.2zM207.4 1131.5l11.4 -4.5 1.3 3.3 -11.4 4.5zM357.6 1077.8l4.9 -2.2 1.4 3.2 -4.9 2.2zM438.8 1055.1l9.4 -3.3 1.6 4.4 -9.4 3.3zM448.6 1051.3l8.7 -2.8 1.4 4.4 -8.7 2.8zM159.3 1159.1l6.8 -3.1 1.7 3.7 -6.8 3.1zM371.9 1089.6l11.2 -3.1 1 3.6 -11.2 3.1zM435.1 1066.4l11.2 -4.2 1.4 3.7 -11.2 4.2zM483.3 1049.5l6.9 -1.8 1.1 4.3 -6.9 1.8zM340.6 1108.4l6.1 -2.4 1.8 4.8 -6.1 2.4zM413.7 1082.2l3.6 -1.6 1.9 4.2 -3.6 1.6zM319.2 1127.1l7.6 -3.4 1.7 3.8 -7.6 3.4zM566.3 1039.3l11.7 -3.1 1.2 4.6 -11.7 3.1zM500 1069.1l7 -3.2 1.8 4 -7 3.2zM567.7 1050.8l4.9 -2.2 1.8 4 -4.9 2.2zM261.4 1167.8l5.6 -2.6 1.7 3.8 -5.6 2.6zM302.6 1152.5l3.9 -1.1 1.2 4.2 -3.9 1.1zM281.8 1166.4l6.1 -2.2 1.4 3.9 -6.1 2.2zM442.9 1108.8l4.5 -1.7 1.5 3.8 -4.5 1.7zM497.7 1096.5l12 -3.9 1.7 5.2 -12 3.9zM553.2 1076.2l8.1 -3.7 2.1 4.7 -8.1 3.7zM649.6 1042.1l12.5 -3.7 1.4 4.9 -12.5 3.7zM551.4 1082.7l5.5 -2.4 1.6 3.7 -5.5 2.4zM124.2 1242.3l4.5 -1.7 1.7 4.5 -4.5 1.7zM186.4 1219l6.8 -2.2 1.4 4.3 -6.8 2.2zM545.7 1091.4l7.8 -2.8 1.4 4 -7.8 2.8zM642.4 1057.2l10.4 -2.7 1.4 5.4 -10.4 2.7zM230.2 1231.8l4.7 -1.4 1.4 4.9 -4.7 1.4zM256.4 1222.1l9.2 -2.7 1.3 4.3 -9.2 2.7zM655.2 1081l7.5 -3 1.6 4 -7.5 3zM745.1 1049.4l14 -4.9 1.6 4.4 -14 4.9zM428.5 1168.1l5.1 -1.5 1.7 5.8 -5.1 1.5zM726.3 1070.6l11.3 -4.6 2.1 5.3 -11.3 4.6zM677.4 1103l11.8 -4.7 2 5 -11.8 4.7zM602.8 1136l12.3 -4.7 2.1 5.5 -12.3 4.7zM717.9 1095.7l15.3 -5.9 2 5.2 -15.3 5.9zM619.2 1137.7l13.4 -4.8 2.2 6 -13.4 4.8zM672.7 1118.6l12.5 -4.9 1.8 4.6 -12.5 4.9zM636.8 1163.2l16.4 -6.6 1.8 4.4 -16.4 6.6zM709.9 1205.1l11.3 -4.2 2.6 7 -11.3 4.2zM780.3 1179.7l12.6 -5.4 2.1 5 -12.6 5.4zM703.3 1243.5l7.3 -2.6 2.5 7 -7.3 2.6z"/>
<path fill="#b87a66" d="M108.5 1038.7l9.2 -2.6 1 3.5 -9.2 2.6zM250.6 1049.1l4.6 -1.2 0.9 3.4 -4.6 1.2zM227.9 1063.9l9.3 -3.7 1.1 2.8 -9.3 3.7zM220 1076.2l8.8 -3.3 1 2.8 -8.8 3.3zM299.3 1053l3.2 -0.8 0.9 3.4 -3.2 0.8zM336.6 1039.7l6.6 -1.7 1 3.8 -6.6 1.7zM203.6 1091.7l7.3 -2.1 1.1 3.7 -7.3 2.1zM211.1 1089.4l5.9 -2.4 1.3 3.2 -5.9 2.4zM320.5 1051.2l9.7 -3.2 1.1 3.3 -9.7 3.2zM346.6 1041.1l3.3 -1.1 1.1 3.3 -3.3 1.1zM138.3 1128.2l6.4 -2.8 1.4 3.2 -6.4 2.8zM247.7 1094.2l9.1 -3.9 1.7 3.9 -9.1 3.9zM162.8 1135.2l9.5 -3.1 1.1 3.3 -9.5 3.1zM432.3 1037.9l9.6 -3.5 1.4 3.8 -9.6 3.5zM177.1 1136.6l9.7 -3.3 1.1 3.1 -9.7 3.3zM293.5 1094.7l10 -4.4 1.7 3.8 -10 4.4zM359.2 1071.3l5.8 -1.6 1.1 3.9 -5.8 1.6zM401 1063.2l6.8 -2.1 1 3.4 -6.8 2.1zM417.4 1056.6l5 -1.4 1.1 3.9 -5 1.4zM250.5 1122.2l6.9 -2.7 1.6 4 -6.9 2.7zM359.3 1089l5.2 -1.9 1.5 4.1 -5.2 1.9zM230.3 1139.3l9.5 -3.7 1.6 4.1 -9.5 3.7zM271.8 1125.4l4.2 -1.6 1.2 3.2 -4.2 1.6zM471.1 1054.3l12.1 -3.2 1.2 4.6 -12.1 3.2zM442.5 1071.4l10.2 -3.9 1.8 4.8 -10.2 3.9zM453.2 1068.7l5.1 -1.6 1.5 4.8 -5.1 1.6zM296.6 1141.2l9.1 -3.5 1.4 3.6 -9.1 3.5zM235.6 1169l6.6 -2.9 1.7 3.8 -6.6 2.9zM494.1 1077l11.1 -4.2 1.9 5 -11.1 4.2zM487.1 1088.2l4.5 -1.5 1.4 4.5 -4.5 1.5zM316.7 1154.5l7.7 -3.1 1.9 4.7 -7.7 3.1zM234 1189.9l4.6 -1.5 1.7 5.1 -4.6 1.5zM359.5 1145.6l11.7 -4.6 1.9 4.9 -11.7 4.6zM543.6 1080.5l9 -3.6 1.5 3.6 -9 3.6zM580.6 1066.6l12.8 -4.7 1.4 3.8 -12.8 4.7zM129.1 1239.9l4.7 -1.5 1.5 4.7 -4.7 1.5zM211.9 1211l5.6 -1.9 1.6 4.8 -5.6 1.9zM418.9 1136.6l10.1 -3 1.1 3.9 -10.1 3zM626.1 1063.3l13.5 -5.6 1.9 4.6 -13.5 5.6zM445.4 1142.2l7.4 -3.1 1.9 4.4 -7.4 3.1zM333 1195.6l5.7 -2.6 1.8 3.9 -5.7 2.6zM544.9 1120.4l13.3 -5.3 1.9 4.9 -13.3 5.3zM740.3 1051l4.3 -1.8 2 4.9 -4.3 1.8zM777.9 1037.3l5.1 -2.2 1.6 3.8 -5.1 2.2zM423.3 1170.9l4.9 -1.4 1.4 5 -4.9 1.4zM503.3 1141.7l9.3 -4.1 2.4 5.3 -9.3 4.1zM721.7 1086.2l12 -4.9 2 4.9 -12 4.9zM723 1109.8l12.2 -3.9 1.8 5.6 -12.2 3.9zM577.9 1169l12.7 -4.1 1.6 4.9 -12.7 4.1zM690.3 1143.4l9.3 -3 1.9 6 -9.3 3zM734 1127.6l11.4 -4.3 2 5.3 -11.4 4.3zM734.8 1177.1l9.1 -2.6 2 6.9 -9.1 2.6z"/>
<path fill="#c8a29a" d="M133 1039.8l6.4 -2.1 1 3 -6.4 2.1zM25.5 1104.4l8.4 -3.4 1.1 2.7 -8.4 3.4zM255.5 1047.6l3 -0.8 1 3.7 -3 0.8zM259 1063.3l5.8 -1.9 1.1 3.4 -5.8 1.9zM313 1048.9l8.7 -2.3 0.8 2.9 -8.7 2.3zM341.5 1043.7l4.8 -1.3 1.1 4 -4.8 1.3zM110.9 1133.2l8.5 -3 1.5 4.1 -8.5 3zM104.6 1139.6l5.3 -2.4 1.5 3.3 -5.3 2.4zM155.1 1121.1l8.3 -2.7 1.4 4.2 -8.3 2.7zM175.3 1114.4l5.5 -2.3 1.4 3.5 -5.5 2.3zM189.9 1109.2l7.7 -3.4 1.7 3.7 -7.7 3.4zM219.2 1103.5l4.4 -1.2 1.1 3.9 -4.4 1.2zM354.1 1055.9l6.6 -2.3 1.5 4.3 -6.6 2.3zM129.7 1141l8.5 -3.2 1.4 3.7 -8.5 3.2zM196.9 1121.8l3.3 -1.4 1.7 4 -3.3 1.4zM211 1117.4l6.3 -2.3 1.6 4.4 -6.3 2.3zM273.4 1096l11.1 -3.7 1.3 3.9 -11.1 3.7zM321.8 1078.1l8.8 -3.7 1.8 4.3 -8.8 3.7zM338.1 1080.2l7 -3 1.3 3.1 -7 3zM453.6 1043.3l7.4 -2.5 1.5 4.6 -7.4 2.5zM110.4 1170.7l7.4 -2.6 1.4 4.1 -7.4 2.6zM206.2 1137.9l9.9 -3.2 1.2 3.6 -9.9 3.2zM326.8 1094.9l3.4 -1.3 1.7 4.4 -3.4 1.3zM133.3 1169.3l6.5 -2.1 1 3.2 -6.5 2.1zM505.5 1036.5l7.1 -2.3 1.5 4.7 -7.1 2.3zM217.3 1152.1l8.5 -3.5 1.7 4.2 -8.5 3.5zM161.7 1178.1l8.9 -3.9 1.5 3.5 -8.9 3.9zM384.1 1104.2l5.8 -2.4 1.4 3.4 -5.8 2.4zM604.8 1037.2l3.8 -1.2 1.1 3.7 -3.8 1.2zM608.9 1035.9l12.5 -5.2 2 4.8 -12.5 5.2zM179.2 1203l10.6 -2.9 1.2 4.5 -10.6 2.9zM406.8 1123l7.4 -2.4 1.3 4.1 -7.4 2.4zM371.8 1140.3l10.6 -3.5 1.2 3.7 -10.6 3.5zM377.5 1144.8l10.2 -2.9 1.1 4 -10.2 2.9zM507.4 1099.4l8.1 -3.4 1.9 4.5 -8.1 3.4zM393.6 1146.2l14.1 -3.7 1 4 -14.1 3.7zM439.3 1130l4.4 -1.8 1.6 4 -4.4 1.8zM664.9 1048.6l5.9 -1.6 1.1 4.1 -5.9 1.6zM160.6 1237.6l7.5 -2.6 1.6 4.5 -7.5 2.6zM610.5 1077.8l6.9 -2.1 1.6 5.2 -6.9 2.1zM644.5 1065.2l8.2 -2.5 1.5 5 -8.2 2.5zM544.6 1107.4l11.8 -4.9 2.3 5.5 -11.8 4.9zM613.5 1082.3l8.9 -2.8 1.4 4.3 -8.9 2.8zM753.1 1039.9l9.4 -3.2 1.8 5.3 -9.4 3.2zM235.2 1230.4l12.6 -5 2.2 5.7 -12.6 5zM714.8 1058.9l10.8 -3.3 1.5 4.9 -10.8 3.3zM435.2 1181.5l13.1 -4.4 1.4 4.2 -13.1 4.4zM499.3 1158.2l6.2 -1.8 1.5 5.1 -6.2 1.8zM544.6 1143.5l13.7 -5.1 1.6 4.3 -13.7 5.1zM698.6 1094.6l7.6 -2.8 1.8 4.8 -7.6 2.8zM662.5 1122.2l9.8 -3.8 2.3 6 -9.8 3.8zM646.3 1166.7l7.4 -3.4 2.5 5.5 -7.4 3.4zM680.9 1173.2l16.9 -4.4 1.6 6.1 -16.9 4.4zM741.6 1151.6l6.9 -1.9 1.6 5.8 -6.9 1.9zM794.6 1165.6l16.8 -6 1.8 5 -16.8 6zM668.1 1228.3l11.6 -3.9 2.3 7 -11.6 3.9z"/>
<polyline points="148.6,1245.2 193.7,1228.7 251.8,1208.4 303.4,1190.0 346.0,1174.8 372.3,1164.2 436.8,1142.6 491.6,1123.2 520.6,1112.6 565.8,1096.5 614.2,1080.3 660.0,1066.5 671.4,1063.2 700.4,1051.3 732.6,1040.0" fill="none" stroke="#c9c4bc" stroke-width="9.5" stroke-linecap="round" stroke-linejoin="round"/>
<polyline points="148.6,1245.2 193.7,1228.7 251.8,1208.4 303.4,1190.0 346.0,1174.8 372.3,1164.2 436.8,1142.6 491.6,1123.2 520.6,1112.6 565.8,1096.5 614.2,1080.3 660.0,1066.5 671.4,1063.2 700.4,1051.3 732.6,1040.0" fill="none" stroke="#b4b5b8" stroke-width="6.5" stroke-linecap="round" stroke-linejoin="round"/>
<polyline points="206.6,1069.0 271.2,1146.5 293.7,1191.6" fill="none" stroke="#c9c7c2" stroke-width="2.6" stroke-linecap="round" stroke-linejoin="round" opacity="0.75"/>
<polyline points="414.2,1043.2 475.5,1104.5 491.6,1123.2" fill="none" stroke="#c9c7c2" stroke-width="2.6" stroke-linecap="round" stroke-linejoin="round" opacity="0.75"/>
<polyline points="520.6,1040.0 565.8,1096.5" fill="none" stroke="#c9c7c2" stroke-width="2.6" stroke-linecap="round" stroke-linejoin="round" opacity="0.75"/>
<polyline points="251.8,1059.4 346.0,1146.5" fill="none" stroke="#c9c7c2" stroke-width="2.6" stroke-linecap="round" stroke-linejoin="round" opacity="0.75"/>
<polyline points="340.0,1098.1 404.5,1149.7" fill="none" stroke="#c9c7c2" stroke-width="2.6" stroke-linecap="round" stroke-linejoin="round" opacity="0.75"/>
<polygon points="26.0,1040.0 137.3,1040.0 122.8,1045.8 106.6,1052.9 80.8,1060.0 58.3,1063.2 45.4,1066.5 26.0,1058.7" fill="#4f9548"/>
<polygon points="106.6,1052.9 122.8,1045.8 155.0,1044.8 177.6,1048.1 206.6,1050.3 216.3,1056.1 200.2,1067.4 167.9,1074.8 132.5,1081.3 103.4,1081.9 98.6,1072.3 80.8,1060.0" fill="#596347"/>
<path fill="#3f4a34" d="M124.4 1063.9a4.3 4.3 0 1 0 8.7 0a4.3 4.3 0 1 0 -8.7 0zM193.9 1067.2a2.9 2.9 0 1 0 5.8 0a2.9 2.9 0 1 0 -5.8 0zM147.5 1048.4a3.5 3.5 0 1 0 7 0a3.5 3.5 0 1 0 -7 0zM201.9 1054.2a3.2 3.2 0 1 0 6.3 0a3.2 3.2 0 1 0 -6.3 0z"/>
<path fill="#6a6850" d="M120.2 1049.2a3.1 3.1 0 1 0 6.3 0a3.1 3.1 0 1 0 -6.3 0zM190.9 1057.1a4.4 4.4 0 1 0 8.8 0a4.4 4.4 0 1 0 -8.8 0zM104 1054.2a2.3 2.3 0 1 0 4.7 0a2.3 2.3 0 1 0 -4.7 0zM167.8 1052.6a4.2 4.2 0 1 0 8.4 0a4.2 4.2 0 1 0 -8.4 0zM163.9 1065.8a3.4 3.4 0 1 0 6.9 0a3.4 3.4 0 1 0 -6.9 0zM104.8 1056.8a4.3 4.3 0 1 0 8.5 0a4.3 4.3 0 1 0 -8.5 0zM119.3 1074.5a3.6 3.6 0 1 0 7.3 0a3.6 3.6 0 1 0 -7.3 0zM129.2 1073.3a4.1 4.1 0 1 0 8.2 0a4.1 4.1 0 1 0 -8.2 0zM125.4 1068.1a3.4 3.4 0 1 0 6.8 0a3.4 3.4 0 1 0 -6.8 0zM120.4 1067a4.4 4.4 0 1 0 8.7 0a4.4 4.4 0 1 0 -8.7 0zM183.2 1066a3.1 3.1 0 1 0 6.3 0a3.1 3.1 0 1 0 -6.3 0zM117.8 1080.9a2.3 2.3 0 1 0 4.6 0a2.3 2.3 0 1 0 -4.6 0zM105.8 1081.5a3 3 0 1 0 5.9 0a3 3 0 1 0 -5.9 0z"/>
<path fill="#756a5a" d="M187.7 1068.1a4.2 4.2 0 1 0 8.3 0a4.2 4.2 0 1 0 -8.3 0zM195.3 1050a3.6 3.6 0 1 0 7.3 0a3.6 3.6 0 1 0 -7.3 0zM130.9 1055.5a4.3 4.3 0 1 0 8.6 0a4.3 4.3 0 1 0 -8.6 0zM190 1062.6a4.3 4.3 0 1 0 8.6 0a4.3 4.3 0 1 0 -8.6 0zM104.5 1060.6a4.1 4.1 0 1 0 8.1 0a4.1 4.1 0 1 0 -8.1 0zM84.9 1063.9a3.3 3.3 0 1 0 6.5 0a3.3 3.3 0 1 0 -6.5 0z"/>
<path fill="#4a5238" d="M121.1 1059.9a2.3 2.3 0 1 0 4.7 0a2.3 2.3 0 1 0 -4.7 0zM141.6 1074a3 3 0 1 0 6 0a3 3 0 1 0 -6 0zM157.5 1073.3a3.5 3.5 0 1 0 7.1 0a3.5 3.5 0 1 0 -7.1 0zM131.3 1050.5a4.4 4.4 0 1 0 8.8 0a4.4 4.4 0 1 0 -8.8 0zM132.2 1052a4 4 0 1 0 8.1 0a4 4 0 1 0 -8.1 0zM155.4 1067.3a4 4 0 1 0 8 0a4 4 0 1 0 -8 0zM99.8 1063.8a4.1 4.1 0 1 0 8.2 0a4.1 4.1 0 1 0 -8.2 0zM136.5 1046.9a3.7 3.7 0 1 0 7.4 0a3.7 3.7 0 1 0 -7.4 0zM107.4 1053.2a2.5 2.5 0 1 0 4.9 0a2.5 2.5 0 1 0 -4.9 0z"/>
<path fill="#5f7a48" d="M108.2 1075.2a3.5 3.5 0 1 0 6.9 0a3.5 3.5 0 1 0 -6.9 0zM83 1059.7a2.1 2.1 0 1 0 4.2 0a2.1 2.1 0 1 0 -4.2 0zM202 1051.9a3.4 3.4 0 1 0 6.9 0a3.4 3.4 0 1 0 -6.9 0zM183.8 1070.2a3.6 3.6 0 1 0 7.2 0a3.6 3.6 0 1 0 -7.2 0zM149.4 1061.6a3.1 3.1 0 1 0 6.2 0a3.1 3.1 0 1 0 -6.2 0zM157.2 1052.1a3.5 3.5 0 1 0 7 0a3.5 3.5 0 1 0 -7 0zM124.4 1071.9a4 4 0 1 0 8.1 0a4 4 0 1 0 -8.1 0zM118.5 1069.5a3.4 3.4 0 1 0 6.9 0a3.4 3.4 0 1 0 -6.9 0z"/>
<polygon points="161.5,1040.0 274.4,1040.0 258.3,1046.5 232.5,1054.5 216.3,1056.1 206.6,1050.3 177.6,1048.1" fill="#639a52"/>
<polygon points="26.0,1088.4 61.5,1090.0 90.5,1088.4 103.4,1081.9 132.5,1081.3 167.9,1074.8 200.2,1067.4 211.5,1069.7 203.4,1085.2 187.3,1093.2 161.5,1101.3 129.2,1117.4 95.4,1133.5 77.6,1136.8 71.2,1122.3 51.8,1114.8 26.0,1107.7" fill="#4c9044"/>
<polygon points="26.0,1093.2 74.4,1091.6 77.6,1098.1 61.5,1104.5 26.0,1104.5" fill="#8c9a66"/>
<polygon points="106.6,1088.4 161.5,1080.3 193.7,1072.3 200.2,1078.7 164.7,1094.8 122.8,1107.7" fill="#529748"/>
<polygon points="206.6,1071.0 251.8,1062.6 303.4,1046.5 316.3,1048.1 297.0,1064.2 258.3,1075.5 219.5,1088.4 200.2,1085.2" fill="#7f9a5c"/>
<polygon points="26.0,1058.7 45.4,1066.5 58.3,1063.2 80.8,1060.0 98.6,1072.3 103.4,1081.9 90.5,1088.4 61.5,1090.0 42.1,1085.2 26.0,1088.4" fill="#243324"/>
<path fill="#22302a" d="M78 1061.7a4.3 4.3 0 1 0 8.6 0a4.3 4.3 0 1 0 -8.6 0zM46.6 1074.9a3.4 3.4 0 1 0 6.8 0a3.4 3.4 0 1 0 -6.8 0zM76.6 1079.4a4.7 4.7 0 1 0 9.5 0a4.7 4.7 0 1 0 -9.5 0z"/>
<path fill="#2c422c" d="M74.6 1072.5a4.2 4.2 0 1 0 8.5 0a4.2 4.2 0 1 0 -8.5 0zM87.6 1073.6a2.9 2.9 0 1 0 5.7 0a2.9 2.9 0 1 0 -5.7 0zM22.5 1068.3a4.3 4.3 0 1 0 8.7 0a4.3 4.3 0 1 0 -8.7 0zM87.9 1076.4a4.2 4.2 0 1 0 8.4 0a4.2 4.2 0 1 0 -8.4 0zM22.2 1086a4.8 4.8 0 1 0 9.6 0a4.8 4.8 0 1 0 -9.6 0z"/>
<path fill="#243626" d="M44.5 1076.6a2.8 2.8 0 1 0 5.6 0a2.8 2.8 0 1 0 -5.6 0zM27.8 1064.2a4.8 4.8 0 1 0 9.6 0a4.8 4.8 0 1 0 -9.6 0zM53.4 1080.4a4.6 4.6 0 1 0 9.3 0a4.6 4.6 0 1 0 -9.3 0zM69.5 1071.4a3.7 3.7 0 1 0 7.3 0a3.7 3.7 0 1 0 -7.3 0zM55.6 1076.8a4.9 4.9 0 1 0 9.7 0a4.9 4.9 0 1 0 -9.7 0zM34.8 1077.7a3.5 3.5 0 1 0 7.1 0a3.5 3.5 0 1 0 -7.1 0zM63 1065.2a3.5 3.5 0 1 0 6.9 0a3.5 3.5 0 1 0 -6.9 0zM38.3 1068.4a4 4 0 1 0 7.9 0a4 4 0 1 0 -7.9 0z"/>
<path fill="#182419" d="M41.4 1083.3a4.1 4.1 0 1 0 8.3 0a4.1 4.1 0 1 0 -8.3 0zM31.6 1065a3.2 3.2 0 1 0 6.3 0a3.2 3.2 0 1 0 -6.3 0zM38.1 1068a3 3 0 1 0 6 0a3 3 0 1 0 -6 0zM45.3 1068.6a3.2 3.2 0 1 0 6.4 0a3.2 3.2 0 1 0 -6.4 0zM68.6 1080.1a4.6 4.6 0 1 0 9.3 0a4.6 4.6 0 1 0 -9.3 0zM27.4 1070.4a2.6 2.6 0 1 0 5.2 0a2.6 2.6 0 1 0 -5.2 0z"/>
<path fill="#34502f" d="M86.2 1071.3a4.4 4.4 0 1 0 8.9 0a4.4 4.4 0 1 0 -8.9 0zM25.5 1076.7a3.1 3.1 0 1 0 6.2 0a3.1 3.1 0 1 0 -6.2 0zM74.1 1074.7a3.9 3.9 0 1 0 7.8 0a3.9 3.9 0 1 0 -7.8 0zM79.7 1062.4a3 3 0 1 0 6.1 0a3 3 0 1 0 -6.1 0zM58.6 1071.3a4 4 0 1 0 7.9 0a4 4 0 1 0 -7.9 0zM56 1063.6a4.2 4.2 0 1 0 8.5 0a4.2 4.2 0 1 0 -8.5 0z"/>
<path fill="#1c2b1e" d="M32.5 1083.5a4.8 4.8 0 1 0 9.5 0a4.8 4.8 0 1 0 -9.5 0zM63.1 1075.7a4.5 4.5 0 1 0 8.9 0a4.5 4.5 0 1 0 -8.9 0zM78 1081.6a3.9 3.9 0 1 0 7.8 0a3.9 3.9 0 1 0 -7.8 0zM55.2 1075.7a4.7 4.7 0 1 0 9.3 0a4.7 4.7 0 1 0 -9.3 0zM87.1 1069a4.3 4.3 0 1 0 8.6 0a4.3 4.3 0 1 0 -8.6 0zM86.6 1087.5a3.1 3.1 0 1 0 6.3 0a3.1 3.1 0 1 0 -6.3 0z"/>
<path fill="#2a3a34" d="M83.9 1077.4a4.3 4.3 0 1 0 8.6 0a4.3 4.3 0 1 0 -8.6 0zM71.7 1083a5 5 0 1 0 9.9 0a5 5 0 1 0 -9.9 0zM47.6 1066.3a3.3 3.3 0 1 0 6.6 0a3.3 3.3 0 1 0 -6.6 0zM62.5 1063.1a4.8 4.8 0 1 0 9.7 0a4.8 4.8 0 1 0 -9.7 0zM78.3 1075.7a3.3 3.3 0 1 0 6.5 0a3.3 3.3 0 1 0 -6.5 0zM93.1 1078.3a3.4 3.4 0 1 0 6.8 0a3.4 3.4 0 1 0 -6.8 0zM23.2 1082.8a3.6 3.6 0 1 0 7.3 0a3.6 3.6 0 1 0 -7.3 0zM60.7 1082.7a2.9 2.9 0 1 0 5.8 0a2.9 2.9 0 1 0 -5.8 0zM58.8 1075.4a3.3 3.3 0 1 0 6.5 0a3.3 3.3 0 1 0 -6.5 0zM29.9 1083.8a4.8 4.8 0 1 0 9.6 0a4.8 4.8 0 1 0 -9.6 0zM23.7 1076.5a4.5 4.5 0 1 0 9 0a4.5 4.5 0 1 0 -9 0z"/>
<circle cx="126.0" cy="1073.9" r="7.1" fill="#2a4528"/>
<circle cx="106.6" cy="1069.0" r="5.2" fill="#2a4528"/>
<circle cx="185.7" cy="1081.9" r="4.5" fill="#2a4528"/>
<circle cx="169.5" cy="1063.2" r="4.8" fill="#2a4528"/>
<circle cx="145.4" cy="1072.3" r="2.9" fill="#2a4528"/>
<circle cx="216.3" cy="1069.7" r="5.8" fill="#2a4528"/>
<circle cx="298.6" cy="1057.7" r="5.8" fill="#2a4528"/>
<polygon points="26.0,1107.7 51.8,1114.8 71.2,1122.3 77.6,1136.8 95.4,1133.5 111.5,1146.5 113.1,1161.0 93.7,1173.9 84.1,1188.4 90.5,1207.7 95.4,1220.6 90.5,1236.8 67.9,1240.0 48.6,1223.9 26.0,1215.8" fill="#263a26"/>
<path fill="#22302a" d="M69.5 1186.7a3.5 3.5 0 1 0 7 0a3.5 3.5 0 1 0 -7 0zM60.6 1205.7a4.3 4.3 0 1 0 8.5 0a4.3 4.3 0 1 0 -8.5 0zM79.7 1181.8a3.2 3.2 0 1 0 6.3 0a3.2 3.2 0 1 0 -6.3 0zM64.5 1161.6a4.3 4.3 0 1 0 8.7 0a4.3 4.3 0 1 0 -8.7 0zM29.9 1128.8a2.9 2.9 0 1 0 5.8 0a2.9 2.9 0 1 0 -5.8 0zM83.3 1213.1a5.8 5.8 0 1 0 11.6 0a5.8 5.8 0 1 0 -11.6 0zM85.3 1141.5a3.1 3.1 0 1 0 6.2 0a3.1 3.1 0 1 0 -6.2 0zM98.8 1151.1a3.4 3.4 0 1 0 6.7 0a3.4 3.4 0 1 0 -6.7 0zM44 1216.3a4.5 4.5 0 1 0 9 0a4.5 4.5 0 1 0 -9 0zM102.8 1165.5a2.7 2.7 0 1 0 5.3 0a2.7 2.7 0 1 0 -5.3 0zM89.5 1222.4a5.3 5.3 0 1 0 10.6 0a5.3 5.3 0 1 0 -10.6 0zM44.3 1162.2a4.4 4.4 0 1 0 8.7 0a4.4 4.4 0 1 0 -8.7 0zM55.8 1139.9a4.2 4.2 0 1 0 8.3 0a4.2 4.2 0 1 0 -8.3 0zM26.4 1203.4a3.1 3.1 0 1 0 6.3 0a3.1 3.1 0 1 0 -6.3 0zM25.9 1139.6a3.5 3.5 0 1 0 7 0a3.5 3.5 0 1 0 -7 0z"/>
<path fill="#182419" d="M23.8 1167a4.8 4.8 0 1 0 9.6 0a4.8 4.8 0 1 0 -9.6 0zM99.5 1162.2a4.1 4.1 0 1 0 8.2 0a4.1 4.1 0 1 0 -8.2 0zM48.9 1140.6a5.2 5.2 0 1 0 10.4 0a5.2 5.2 0 1 0 -10.4 0zM83.1 1151.8a3.1 3.1 0 1 0 6.3 0a3.1 3.1 0 1 0 -6.3 0zM28.6 1157.6a3.9 3.9 0 1 0 7.8 0a3.9 3.9 0 1 0 -7.8 0zM72.5 1179.9a2.6 2.6 0 1 0 5.2 0a2.6 2.6 0 1 0 -5.2 0zM62.1 1233.3a4.8 4.8 0 1 0 9.7 0a4.8 4.8 0 1 0 -9.7 0zM53.7 1226.6a5.5 5.5 0 1 0 11.1 0a5.5 5.5 0 1 0 -11.1 0zM69.7 1184.4a2.9 2.9 0 1 0 5.8 0a2.9 2.9 0 1 0 -5.8 0zM59.1 1121.8a3.2 3.2 0 1 0 6.4 0a3.2 3.2 0 1 0 -6.4 0zM87.8 1141.9a2.9 2.9 0 1 0 5.8 0a2.9 2.9 0 1 0 -5.8 0z"/>
<path fill="#1c2b1e" d="M22.7 1170.2a5.4 5.4 0 1 0 10.8 0a5.4 5.4 0 1 0 -10.8 0zM74.1 1180.3a5 5 0 1 0 10.1 0a5 5 0 1 0 -10.1 0zM88.2 1172.8a3.7 3.7 0 1 0 7.3 0a3.7 3.7 0 1 0 -7.3 0zM54.6 1217.9a4.2 4.2 0 1 0 8.4 0a4.2 4.2 0 1 0 -8.4 0zM76.4 1157a3.3 3.3 0 1 0 6.5 0a3.3 3.3 0 1 0 -6.5 0zM85.6 1226.7a5.5 5.5 0 1 0 11 0a5.5 5.5 0 1 0 -11 0zM74.4 1148.4a3.7 3.7 0 1 0 7.4 0a3.7 3.7 0 1 0 -7.4 0zM64.5 1160.1a4.7 4.7 0 1 0 9.3 0a4.7 4.7 0 1 0 -9.3 0zM22.2 1125.9a4.3 4.3 0 1 0 8.6 0a4.3 4.3 0 1 0 -8.6 0zM24.6 1109.1a4 4 0 1 0 7.9 0a4 4 0 1 0 -7.9 0zM50 1202.9a4 4 0 1 0 8 0a4 4 0 1 0 -8 0zM23.2 1215.8a5.4 5.4 0 1 0 10.9 0a5.4 5.4 0 1 0 -10.9 0zM58.9 1197.8a3.6 3.6 0 1 0 7.3 0a3.6 3.6 0 1 0 -7.3 0zM48.7 1165.2a3.8 3.8 0 1 0 7.6 0a3.8 3.8 0 1 0 -7.6 0z"/>
<path fill="#34502f" d="M80.7 1219.1a3.5 3.5 0 1 0 7 0a3.5 3.5 0 1 0 -7 0zM92.9 1151a4.5 4.5 0 1 0 9 0a4.5 4.5 0 1 0 -9 0zM47.6 1195.3a5 5 0 1 0 10 0a5 5 0 1 0 -10 0zM60.9 1181.9a3.1 3.1 0 1 0 6.2 0a3.1 3.1 0 1 0 -6.2 0zM52.5 1154.3a3.4 3.4 0 1 0 6.9 0a3.4 3.4 0 1 0 -6.9 0zM22.1 1110.3a4.7 4.7 0 1 0 9.4 0a4.7 4.7 0 1 0 -9.4 0zM74.6 1168.3a4.1 4.1 0 1 0 8.1 0a4.1 4.1 0 1 0 -8.1 0zM74.4 1155.2a3.3 3.3 0 1 0 6.6 0a3.3 3.3 0 1 0 -6.6 0zM49.4 1131.8a4.2 4.2 0 1 0 8.4 0a4.2 4.2 0 1 0 -8.4 0zM90.4 1148.1a2.7 2.7 0 1 0 5.4 0a2.7 2.7 0 1 0 -5.4 0zM35.9 1133.5a3.5 3.5 0 1 0 7 0a3.5 3.5 0 1 0 -7 0zM67.6 1210.9a4.2 4.2 0 1 0 8.3 0a4.2 4.2 0 1 0 -8.3 0zM45.8 1171.3a5.5 5.5 0 1 0 10.9 0a5.5 5.5 0 1 0 -10.9 0zM38.9 1154.7a3.7 3.7 0 1 0 7.4 0a3.7 3.7 0 1 0 -7.4 0zM73.8 1138.2a3.7 3.7 0 1 0 7.4 0a3.7 3.7 0 1 0 -7.4 0zM67.3 1223.2a5 5 0 1 0 10 0a5 5 0 1 0 -10 0zM70.8 1192.2a5.3 5.3 0 1 0 10.5 0a5.3 5.3 0 1 0 -10.5 0zM30.5 1211.7a5.3 5.3 0 1 0 10.6 0a5.3 5.3 0 1 0 -10.6 0zM40.5 1156.2a4.3 4.3 0 1 0 8.5 0a4.3 4.3 0 1 0 -8.5 0zM23 1109.4a4.8 4.8 0 1 0 9.5 0a4.8 4.8 0 1 0 -9.5 0z"/>
<path fill="#2a3a34" d="M82.8 1178.9a3.1 3.1 0 1 0 6.2 0a3.1 3.1 0 1 0 -6.2 0zM34.4 1163.1a5.4 5.4 0 1 0 10.8 0a5.4 5.4 0 1 0 -10.8 0zM35.3 1206.9a4.4 4.4 0 1 0 8.7 0a4.4 4.4 0 1 0 -8.7 0zM35.5 1149.8a4.2 4.2 0 1 0 8.3 0a4.2 4.2 0 1 0 -8.3 0zM27.6 1160.9a5.6 5.6 0 1 0 11.3 0a5.6 5.6 0 1 0 -11.3 0zM94.4 1158.8a5 5 0 1 0 10.1 0a5 5 0 1 0 -10.1 0zM85.2 1226.2a4.3 4.3 0 1 0 8.6 0a4.3 4.3 0 1 0 -8.6 0zM25.3 1152.3a5.5 5.5 0 1 0 11.1 0a5.5 5.5 0 1 0 -11.1 0zM51.9 1197.8a5.4 5.4 0 1 0 10.9 0a5.4 5.4 0 1 0 -10.9 0zM71.6 1203.8a5 5 0 1 0 10 0a5 5 0 1 0 -10 0zM42.6 1122.2a4.4 4.4 0 1 0 8.8 0a4.4 4.4 0 1 0 -8.8 0zM24.8 1216.7a5.4 5.4 0 1 0 10.7 0a5.4 5.4 0 1 0 -10.7 0zM84.5 1150.4a5.8 5.8 0 1 0 11.6 0a5.8 5.8 0 1 0 -11.6 0zM104.2 1152.2a5.3 5.3 0 1 0 10.6 0a5.3 5.3 0 1 0 -10.6 0zM41.6 1116.7a3.6 3.6 0 1 0 7.3 0a3.6 3.6 0 1 0 -7.3 0zM73.2 1164.7a4.3 4.3 0 1 0 8.7 0a4.3 4.3 0 1 0 -8.7 0zM91.1 1221.4a2.6 2.6 0 1 0 5.2 0a2.6 2.6 0 1 0 -5.2 0zM64.5 1183.1a4.7 4.7 0 1 0 9.5 0a4.7 4.7 0 1 0 -9.5 0zM28.5 1132.8a2.9 2.9 0 1 0 5.8 0a2.9 2.9 0 1 0 -5.8 0zM45.6 1153.1a3 3 0 1 0 5.9 0a3 3 0 1 0 -5.9 0z"/>
<path fill="#243626" d="M60.5 1226.5a5.9 5.9 0 1 0 11.8 0a5.9 5.9 0 1 0 -11.8 0zM54.1 1172.7a4 4 0 1 0 7.9 0a4 4 0 1 0 -7.9 0zM48 1183.3a5.3 5.3 0 1 0 10.7 0a5.3 5.3 0 1 0 -10.7 0zM50.3 1117.9a3.4 3.4 0 1 0 6.9 0a3.4 3.4 0 1 0 -6.9 0zM67.2 1191.4a4 4 0 1 0 8.1 0a4 4 0 1 0 -8.1 0zM22 1177.9a5 5 0 1 0 9.9 0a5 5 0 1 0 -9.9 0zM41.5 1165a5.2 5.2 0 1 0 10.5 0a5.2 5.2 0 1 0 -10.5 0zM30 1142.7a5.8 5.8 0 1 0 11.6 0a5.8 5.8 0 1 0 -11.6 0zM49.5 1122.9a2.6 2.6 0 1 0 5.1 0a2.6 2.6 0 1 0 -5.1 0zM50.8 1173.1a4.3 4.3 0 1 0 8.6 0a4.3 4.3 0 1 0 -8.6 0zM41.7 1169.7a4.2 4.2 0 1 0 8.4 0a4.2 4.2 0 1 0 -8.4 0zM65.4 1183.6a2.5 2.5 0 1 0 5 0a2.5 2.5 0 1 0 -5 0zM51.6 1125.5a3.2 3.2 0 1 0 6.3 0a3.2 3.2 0 1 0 -6.3 0zM103.7 1143.8a3.4 3.4 0 1 0 6.7 0a3.4 3.4 0 1 0 -6.7 0zM46.2 1130.1a5.1 5.1 0 1 0 10.3 0a5.1 5.1 0 1 0 -10.3 0zM68.1 1206.5a2.8 2.8 0 1 0 5.7 0a2.8 2.8 0 1 0 -5.7 0zM57.5 1204.1a3 3 0 1 0 6 0a3 3 0 1 0 -6 0zM62.3 1211.2a3.4 3.4 0 1 0 6.8 0a3.4 3.4 0 1 0 -6.8 0zM30.8 1218a2.5 2.5 0 1 0 5 0a2.5 2.5 0 1 0 -5 0zM25.9 1143.1a3.7 3.7 0 1 0 7.4 0a3.7 3.7 0 1 0 -7.4 0z"/>
<path fill="#2c422c" d="M44.1 1168.2a2.7 2.7 0 1 0 5.3 0a2.7 2.7 0 1 0 -5.3 0zM83.9 1205.5a4.5 4.5 0 1 0 8.9 0a4.5 4.5 0 1 0 -8.9 0zM57.9 1147.4a4.2 4.2 0 1 0 8.4 0a4.2 4.2 0 1 0 -8.4 0zM88.1 1173.1a5.5 5.5 0 1 0 11 0a5.5 5.5 0 1 0 -11 0zM42 1180.6a4.8 4.8 0 1 0 9.6 0a4.8 4.8 0 1 0 -9.6 0zM87.8 1172.8a2.6 2.6 0 1 0 5.3 0a2.6 2.6 0 1 0 -5.3 0zM34.6 1116.3a3.7 3.7 0 1 0 7.4 0a3.7 3.7 0 1 0 -7.4 0zM53.2 1179a5.3 5.3 0 1 0 10.7 0a5.3 5.3 0 1 0 -10.7 0zM54.3 1162.7a5.9 5.9 0 1 0 11.8 0a5.9 5.9 0 1 0 -11.8 0zM87 1154.9a5.7 5.7 0 1 0 11.4 0a5.7 5.7 0 1 0 -11.4 0zM82.3 1174.4a4.2 4.2 0 1 0 8.3 0a4.2 4.2 0 1 0 -8.3 0zM83.2 1199.7a3.8 3.8 0 1 0 7.6 0a3.8 3.8 0 1 0 -7.6 0zM69.3 1166.7a2.6 2.6 0 1 0 5.3 0a2.6 2.6 0 1 0 -5.3 0zM64.5 1197.6a4.5 4.5 0 1 0 8.9 0a4.5 4.5 0 1 0 -8.9 0zM29 1130.5a4.1 4.1 0 1 0 8.3 0a4.1 4.1 0 1 0 -8.3 0zM31.7 1124.2a4.7 4.7 0 1 0 9.5 0a4.7 4.7 0 1 0 -9.5 0zM79.7 1190.3a3.3 3.3 0 1 0 6.6 0a3.3 3.3 0 1 0 -6.6 0zM84.8 1140a4.9 4.9 0 1 0 9.9 0a4.9 4.9 0 1 0 -9.9 0zM79.1 1176a2.9 2.9 0 1 0 5.8 0a2.9 2.9 0 1 0 -5.8 0zM35.8 1162.9a3.9 3.9 0 1 0 7.8 0a3.9 3.9 0 1 0 -7.8 0zM71.1 1137.8a3.8 3.8 0 1 0 7.6 0a3.8 3.8 0 1 0 -7.6 0z"/>
<path fill="#3f6638" d="M33.1 1194.2a4.5 4.5 0 1 0 9 0a4.5 4.5 0 1 0 -9 0zM87.2 1219.9a3.6 3.6 0 1 0 7.3 0a3.6 3.6 0 1 0 -7.3 0zM62.4 1227.1a4.6 4.6 0 1 0 9.2 0a4.6 4.6 0 1 0 -9.2 0zM78.4 1192.1a4 4 0 1 0 7.9 0a4 4 0 1 0 -7.9 0zM79 1184.1a5 5 0 1 0 10 0a5 5 0 1 0 -10 0zM52.6 1150.7a4.8 4.8 0 1 0 9.6 0a4.8 4.8 0 1 0 -9.6 0zM80.7 1137.5a4.7 4.7 0 1 0 9.3 0a4.7 4.7 0 1 0 -9.3 0zM91 1172.8a3.2 3.2 0 1 0 6.4 0a3.2 3.2 0 1 0 -6.4 0zM27.8 1170.3a3 3 0 1 0 6.1 0a3 3 0 1 0 -6.1 0z"/>
<circle cx="82.5" cy="1204.5" r="11.0" fill="#5b4f6c"/>
<circle cx="88.9" cy="1219.0" r="9.0" fill="#54486a"/>
<circle cx="74.4" cy="1215.8" r="6.0" fill="#4a3f5a"/>
<circle cx="92.1" cy="1127.1" r="14.0" fill="#2b4629"/>
<circle cx="101.8" cy="1154.5" r="12.0" fill="#294427"/>
<polygon points="87.3,1177.1 113.1,1164.2 153.4,1183.5 146.0,1194.8 122.8,1202.9 100.2,1202.9 89.9,1191.6" fill="#7f9c58"/>
<polygon points="90.5,1186.8 106.6,1181.9 113.1,1198.1 98.6,1202.9" fill="#a29c5c"/>
<polygon points="26.0,1215.8 48.6,1223.9 67.9,1240.0 67.9,1246.5 26.0,1246.5" fill="#4a8a42"/>
<polygon points="26.0,1221.3 42.1,1225.5 44.7,1246.5 26.0,1246.5" fill="#b9b7ae"/>
<polygon points="95.4,1220.6 132.5,1209.4 155.0,1219.0 142.1,1233.5 103.4,1241.6" fill="#6b9a5a"/>
<polygon points="132.5,1197.4 153.4,1195.5 155.0,1207.7 135.7,1211.0" fill="#a9c9b4"/>
<polygon points="98.6,1206.1 117.9,1202.9 119.5,1215.8 100.2,1219.0" fill="#8a8f96"/>
<circle cx="167.9" cy="1194.8" r="11.0" fill="#4c7a3a"/>
<circle cx="132.5" cy="1146.5" r="5.0" fill="#3c6a34"/>
<polygon points="200.2,1246.5 251.8,1223.9 303.4,1206.1 346.0,1191.6 346.0,1246.5" fill="#b7a68d"/>
<polygon points="161.5,1246.5 206.6,1228.7 251.8,1220.6 226.0,1246.5" fill="#a9a08c"/>
<polyline points="197.0,1235.8 306.6,1235.8" fill="none" stroke="#3b6a30" stroke-width="3.2" stroke-linecap="round" stroke-linejoin="round"/>
<circle cx="326.0" cy="1224.5" r="15.0" fill="#3a5638"/>
<circle cx="321.2" cy="1228.7" r="9.0" fill="#2f4a2f"/>
<polygon points="303.4,1202.9 321.2,1199.7 322.1,1206.1 305.0,1210.0" fill="#e6e6e6"/>
<polygon points="277.6,1164.2 314.7,1161.0 317.9,1173.9 280.8,1177.1" fill="#e7b81e"/>
<polygon points="284.1,1167.4 306.6,1165.8 307.3,1172.3 284.7,1173.9" fill="#3455a0"/>
<polyline points="280.8,1188.4 327.6,1172.3" fill="none" stroke="#e6b620" stroke-width="3.0" stroke-linecap="round" stroke-linejoin="round"/>
<polygon points="238.9,1138.4 263.1,1136.1 266.3,1143.9 241.5,1147.1" fill="#2d8edb"/>
<polygon points="237.3,1146.5 266.3,1143.9 267.0,1151.3 238.9,1153.5" fill="#e4e4e0"/>
<polygon points="172.8,1215.8 187.3,1215.8 187.3,1226.5 172.8,1226.5" fill="#2c80d1"/>
<polygon points="164.7,1206.1 184.1,1205.2 185.7,1215.8 165.4,1215.8" fill="#d88a9a"/>
<polygon points="232.5,1164.2 258.3,1161.9 263.1,1173.9 234.1,1177.1" fill="#e8d8c8"/>
<polygon points="261.5,1106.1 277.6,1107.1 277.0,1111.6 260.8,1111.0" fill="#3a9adf"/>
<polygon points="261.5,1114.8 290.5,1116.1 289.9,1120.6 260.8,1120.0" fill="#6fbf8f"/>
<polygon points="238.9,1125.5 271.2,1124.5 271.8,1130.3 239.5,1131.9" fill="#e89880"/>
<polygon points="288.9,1112.6 316.3,1115.8 314.7,1127.1 287.9,1123.9" fill="#3a3f44"/>
<polygon points="174.4,1117.4 190.5,1116.8 191.2,1125.5 175.0,1126.5" fill="#e6e6e6"/>
<polygon points="449.7,1046.5 469.0,1041.6 507.7,1044.8 511.0,1054.5 485.2,1059.4 456.1,1054.5" fill="#2f5a30"/>
<path fill="#22302a" d="M457.2 1049.2a2.2 2.2 0 1 0 4.4 0a2.2 2.2 0 1 0 -4.4 0zM457.7 1049.3a3.7 3.7 0 1 0 7.5 0a3.7 3.7 0 1 0 -7.5 0zM467.5 1049.4a2.4 2.4 0 1 0 4.8 0a2.4 2.4 0 1 0 -4.8 0zM506.6 1049.4a2.1 2.1 0 1 0 4.2 0a2.1 2.1 0 1 0 -4.2 0z"/>
<path fill="#548f45" d="M492.9 1049.9a3.3 3.3 0 1 0 6.6 0a3.3 3.3 0 1 0 -6.6 0zM491.3 1053.1a3.1 3.1 0 1 0 6.2 0a3.1 3.1 0 1 0 -6.2 0z"/>
<path fill="#243626" d="M466.2 1045.7a2.1 2.1 0 1 0 4.2 0a2.1 2.1 0 1 0 -4.2 0z"/>
<path fill="#2c422c" d="M477.3 1047a3.5 3.5 0 1 0 7 0a3.5 3.5 0 1 0 -7 0zM470.2 1043.7a3.2 3.2 0 1 0 6.5 0a3.2 3.2 0 1 0 -6.5 0z"/>
<path fill="#356b30" d="M482 1058.5a2.8 2.8 0 1 0 5.5 0a2.8 2.8 0 1 0 -5.5 0z"/>
<path fill="#3f7a36" d="M478.5 1049.7a3 3 0 1 0 5.9 0a3 3 0 1 0 -5.9 0zM479.8 1056.5a3.2 3.2 0 1 0 6.3 0a3.2 3.2 0 1 0 -6.3 0z"/>
<path fill="#4a8a3e" d="M491.4 1052.9a3.6 3.6 0 1 0 7.3 0a3.6 3.6 0 1 0 -7.3 0z"/>
<path fill="#34502f" d="M482.2 1047.3a2.5 2.5 0 1 0 5.1 0a2.5 2.5 0 1 0 -5.1 0z"/>
<polygon points="546.5,1040.0 591.6,1040.0 588.4,1047.1 549.7,1045.8" fill="#c88a5a"/>
<polygon points="565.8,1095.5 620.6,1081.3 660.0,1088.4 660.0,1104.5 630.3,1114.8 598.1,1116.1 565.8,1112.9 552.9,1106.5" fill="#6d9046"/>
<path fill="#3f6a34" d="M587.5 1104.2a1.9 1.9 0 1 0 3.8 0a1.9 1.9 0 1 0 -3.8 0zM643.5 1100.1a2.9 2.9 0 1 0 5.7 0a2.9 2.9 0 1 0 -5.7 0zM586.2 1097.8a3.2 3.2 0 1 0 6.4 0a3.2 3.2 0 1 0 -6.4 0zM622.6 1105.8a1.6 1.6 0 1 0 3.1 0a1.6 1.6 0 1 0 -3.1 0zM645.9 1095.2a1.8 1.8 0 1 0 3.5 0a1.8 1.8 0 1 0 -3.5 0zM562.8 1109.4a2.7 2.7 0 1 0 5.4 0a2.7 2.7 0 1 0 -5.4 0z"/>
<path fill="#557a3a" d="M604.7 1115.3a3.2 3.2 0 1 0 6.4 0a3.2 3.2 0 1 0 -6.4 0zM573.7 1107a2.6 2.6 0 1 0 5.3 0a2.6 2.6 0 1 0 -5.3 0zM584.3 1092.9a1.5 1.5 0 1 0 3 0a1.5 1.5 0 1 0 -3 0zM613.6 1097.3a3.1 3.1 0 1 0 6.2 0a3.1 3.1 0 1 0 -6.2 0zM597.7 1106.5a2.7 2.7 0 1 0 5.3 0a2.7 2.7 0 1 0 -5.3 0zM584.8 1091.5a2.6 2.6 0 1 0 5.1 0a2.6 2.6 0 1 0 -5.1 0zM559.2 1108.8a2.2 2.2 0 1 0 4.4 0a2.2 2.2 0 1 0 -4.4 0zM654.3 1092.4a1.8 1.8 0 1 0 3.5 0a1.8 1.8 0 1 0 -3.5 0z"/>
<polygon points="625.5,1079.4 649.7,1078.7 660.0,1085.2 644.8,1089.0" fill="#3f8f3a"/>
<polygon points="533.5,1116.8 559.4,1114.8 562.6,1127.7 592.3,1134.2 588.4,1137.4 546.5,1131.0 532.9,1124.5" fill="#58a045"/>
<polygon points="556.1,1113.5 598.1,1116.8 614.2,1115.8 614.2,1125.5 605.2,1135.5 592.3,1133.5 594.8,1122.6 556.8,1119.0" fill="#1f80d8"/>
<polygon points="556.8,1119.7 594.8,1122.9 594.8,1127.7 556.8,1125.5" fill="#d8792b"/>
<polygon points="611.0,1127.1 623.9,1127.7 620.6,1141.6 609.4,1140.0" fill="#5aa34a"/>
<polygon points="623.2,1129.7 644.8,1131.0 641.6,1143.9 621.3,1141.9" fill="#8fc3ab"/>
<polygon points="640.0,1133.5 660.0,1130.3 660.0,1148.1 638.4,1146.5" fill="#4d9a42"/>
<polygon points="623.2,1111.6 646.5,1114.2 645.8,1127.1 622.6,1124.5" fill="#d6d2c9"/>
<polygon points="649.7,1109.4 660.0,1109.4 660.0,1131.0 650.3,1129.7" fill="#dcd9d1"/>
<polygon points="470.6,1088.4 489.0,1088.4 488.4,1100.0 470.6,1099.4" fill="#1c2232"/>
<circle cx="445.8" cy="1143.9" r="5.8" fill="#2f5530"/>
<circle cx="478.7" cy="1148.1" r="7.1" fill="#2f5530"/>
<circle cx="493.2" cy="1160.0" r="5.2" fill="#2f5530"/>
<circle cx="533.5" cy="1114.2" r="3.2" fill="#2f5530"/>
<circle cx="554.5" cy="1108.4" r="3.2" fill="#2f5530"/>
<circle cx="569.0" cy="1108.4" r="3.2" fill="#2f5530"/>
<circle cx="485.2" cy="1100.6" r="3.2" fill="#2f5530"/>
<circle cx="520.6" cy="1073.9" r="2.9" fill="#2f5530"/>
<polygon points="501.3,1169.0 520.6,1165.8 552.9,1167.4 557.7,1175.5 533.5,1178.7 501.3,1177.1" fill="#2c4d2c"/>
<polygon points="438.4,1168.4 456.1,1168.4 456.1,1175.5 438.4,1175.5" fill="#2c86da"/>
<polygon points="404.5,1168.4 420.6,1167.7 421.3,1176.1 405.2,1176.8" fill="#e0405a"/>
<polygon points="552.9,1148.1 565.8,1148.1 566.5,1156.1 553.5,1156.1" fill="#3a96dc"/>
<polygon points="532.9,1149.7 546.5,1149.0 547.1,1165.8 533.5,1166.5" fill="#d9735a"/>
<polygon points="349.7,1131.0 381.9,1124.5 383.5,1129.7 351.6,1136.8" fill="#4d9ddc"/>
<polygon points="351.3,1122.3 375.5,1120.6 376.1,1126.5 352.3,1128.7" fill="#9fd0c0"/>
<polygon points="422.3,1122.3 467.4,1115.8 469.0,1124.5 424.5,1135.2" fill="#b5694e"/>
<polygon points="498.1,1091.6 530.3,1093.2 531.0,1104.5 498.7,1102.9" fill="#c98a70"/>
<polygon points="409.4,1069.0 446.5,1072.3 445.8,1078.1 408.4,1074.8" fill="#ecebe6"/>
<polygon points="511.0,1056.1 562.6,1058.7 561.9,1065.8 511.0,1063.2" fill="#dedbd4"/>
<polygon points="573.9,1161.0 587.7,1160.0 588.4,1173.9 574.5,1174.8" fill="#ede9e2"/>
<polygon points="628.7,1161.0 643.2,1160.0 643.9,1172.3 629.4,1172.9" fill="#d8553c"/>
<polygon points="611.0,1166.5 625.5,1166.5 625.8,1176.1 611.6,1176.1" fill="#d9683c"/>
<polygon points="761.7,1040.0 972.0,1040.0 972.0,1246.5 713.3,1246.5 716.5,1207.7 729.4,1194.8 758.5,1191.6 797.2,1181.9 813.3,1179.4 793.9,1162.6 758.5,1152.9 745.5,1140.0 743.9,1122.3 726.8,1098.7 729.4,1069.0 745.5,1059.4" fill="#4a7438"/>
<polygon points="706.8,1049.7 742.3,1051.3 743.9,1061.9 708.5,1060.0" fill="#d9a998"/>
<polygon points="721.4,1046.5 743.9,1047.1 743.3,1051.6 721.4,1051.0" fill="#6da34d"/>
<polygon points="761.7,1040.0 910.1,1040.0 907.5,1052.9 930.1,1080.6 877.8,1072.3 866.5,1077.4 861.7,1067.4 845.5,1062.6 826.2,1064.5 813.3,1052.9 781.0,1048.1" fill="#74965a"/>
<polygon points="832.6,1049.7 897.2,1052.9 910.1,1072.3 877.8,1070.6 845.5,1059.4" fill="#67994f"/>
<polygon points="926.2,1040.0 972.0,1040.0 972.0,1088.4 942.3,1072.3 924.6,1057.7" fill="#5f9650"/>
<polygon points="871.4,1083.5 930.1,1080.6 972.0,1099.7 972.0,1144.8 943.9,1151.3 930.1,1134.2 910.7,1114.8 897.2,1098.7" fill="#579248"/>
<polygon points="903.6,1088.4 926.2,1088.4 926.2,1102.9 906.8,1101.3" fill="#b9b08a"/>
<polyline points="922.3,1038.4 920.4,1052.9 929.4,1067.4 947.2,1080.3 972.0,1093.2" fill="none" stroke="#a9adb0" stroke-width="8.0" stroke-linecap="round" stroke-linejoin="round"/>
<polyline points="922.3,1038.4 920.4,1052.9 929.4,1067.4 947.2,1080.3 972.0,1093.2" fill="none" stroke="#7f858b" stroke-width="5.0" stroke-linecap="round" stroke-linejoin="round"/>
<polyline points="960.1,1038.4 964.9,1052.9 972.0,1059.4" fill="none" stroke="#8d9297" stroke-width="4.0" stroke-linecap="round" stroke-linejoin="round"/>
<polyline points="858.5,1079.4 897.2,1081.9 926.2,1083.5" fill="none" stroke="#cfd2d2" stroke-width="3.5" stroke-linecap="round" stroke-linejoin="round"/>
<polygon points="729.4,1069.0 758.5,1062.6 806.8,1069.0 832.6,1081.9 871.4,1088.4 897.2,1098.7 910.7,1114.8 930.1,1134.2 936.5,1149.7 948.8,1162.6 972.0,1175.5 972.0,1195.5 935.9,1191.6 916.5,1181.9 884.3,1169.0 858.5,1165.8 839.1,1175.5 813.3,1179.4 793.9,1162.6 758.5,1152.9 745.5,1140.0 743.9,1122.3 726.8,1098.7" fill="#27392c"/>
<path fill="#2b3f30" d="M878.4 1125.1a3.2 3.2 0 1 0 6.3 0a3.2 3.2 0 1 0 -6.3 0zM801.4 1158a4.9 4.9 0 1 0 9.7 0a4.9 4.9 0 1 0 -9.7 0zM907.9 1146.1a5.9 5.9 0 1 0 11.9 0a5.9 5.9 0 1 0 -11.9 0zM771.3 1124.5a5.8 5.8 0 1 0 11.7 0a5.8 5.8 0 1 0 -11.7 0zM828.9 1145.2a5.3 5.3 0 1 0 10.6 0a5.3 5.3 0 1 0 -10.6 0zM875.5 1161.2a4.7 4.7 0 1 0 9.4 0a4.7 4.7 0 1 0 -9.4 0zM862.6 1111.7a4.2 4.2 0 1 0 8.4 0a4.2 4.2 0 1 0 -8.4 0zM794.7 1151.9a4.9 4.9 0 1 0 9.9 0a4.9 4.9 0 1 0 -9.9 0zM749.2 1080.7a3 3 0 1 0 6.1 0a3 3 0 1 0 -6.1 0zM935 1154.8a2.8 2.8 0 1 0 5.6 0a2.8 2.8 0 1 0 -5.6 0zM807.5 1076a3.5 3.5 0 1 0 7 0a3.5 3.5 0 1 0 -7 0zM783.3 1085.1a5.6 5.6 0 1 0 11.3 0a5.6 5.6 0 1 0 -11.3 0zM813.5 1123.9a4.4 4.4 0 1 0 8.8 0a4.4 4.4 0 1 0 -8.8 0zM809.3 1124.5a4.2 4.2 0 1 0 8.3 0a4.2 4.2 0 1 0 -8.3 0zM747.6 1093.1a5.5 5.5 0 1 0 11 0a5.5 5.5 0 1 0 -11 0zM824.1 1176a4.7 4.7 0 1 0 9.3 0a4.7 4.7 0 1 0 -9.3 0zM911.9 1163.2a4.2 4.2 0 1 0 8.3 0a4.2 4.2 0 1 0 -8.3 0zM763.1 1137.4a2.9 2.9 0 1 0 5.9 0a2.9 2.9 0 1 0 -5.9 0zM868.6 1150.9a4.4 4.4 0 1 0 8.8 0a4.4 4.4 0 1 0 -8.8 0zM846.9 1148.5a4.3 4.3 0 1 0 8.6 0a4.3 4.3 0 1 0 -8.6 0zM743.8 1131.2a3.5 3.5 0 1 0 7 0a3.5 3.5 0 1 0 -7 0zM775.2 1117.8a4.5 4.5 0 1 0 9 0a4.5 4.5 0 1 0 -9 0zM804.5 1130.6a3.1 3.1 0 1 0 6.3 0a3.1 3.1 0 1 0 -6.3 0zM912.2 1153.7a4.4 4.4 0 1 0 8.7 0a4.4 4.4 0 1 0 -8.7 0zM738.3 1067.3a5.2 5.2 0 1 0 10.3 0a5.2 5.2 0 1 0 -10.3 0zM821.3 1087.2a4.5 4.5 0 1 0 9 0a4.5 4.5 0 1 0 -9 0zM745.1 1105.6a4.8 4.8 0 1 0 9.7 0a4.8 4.8 0 1 0 -9.7 0zM880.2 1168.4a3.4 3.4 0 1 0 6.8 0a3.4 3.4 0 1 0 -6.8 0zM770.5 1082.1a4.8 4.8 0 1 0 9.6 0a4.8 4.8 0 1 0 -9.6 0zM757.1 1127.7a5.9 5.9 0 1 0 11.8 0a5.9 5.9 0 1 0 -11.8 0zM934.4 1158.1a3.8 3.8 0 1 0 7.6 0a3.8 3.8 0 1 0 -7.6 0zM737.1 1074.9a5.1 5.1 0 1 0 10.2 0a5.1 5.1 0 1 0 -10.2 0zM811.6 1161.2a2.9 2.9 0 1 0 5.7 0a2.9 2.9 0 1 0 -5.7 0zM816.1 1108.9a4.6 4.6 0 1 0 9.2 0a4.6 4.6 0 1 0 -9.2 0zM769.6 1153.3a3.4 3.4 0 1 0 6.9 0a3.4 3.4 0 1 0 -6.9 0zM887.8 1145.2a3.6 3.6 0 1 0 7.1 0a3.6 3.6 0 1 0 -7.1 0zM737.5 1118.9a4.2 4.2 0 1 0 8.5 0a4.2 4.2 0 1 0 -8.5 0zM826 1118.2a5.5 5.5 0 1 0 11.1 0a5.5 5.5 0 1 0 -11.1 0zM866.1 1160.6a4.4 4.4 0 1 0 8.9 0a4.4 4.4 0 1 0 -8.9 0z"/>
<path fill="#314636" d="M777.8 1135.7a4.2 4.2 0 1 0 8.3 0a4.2 4.2 0 1 0 -8.3 0zM829.3 1144.1a4.3 4.3 0 1 0 8.7 0a4.3 4.3 0 1 0 -8.7 0zM807.7 1086.7a3.6 3.6 0 1 0 7.2 0a3.6 3.6 0 1 0 -7.2 0zM869.2 1142.1a4.5 4.5 0 1 0 9.1 0a4.5 4.5 0 1 0 -9.1 0zM840.6 1147.5a4.4 4.4 0 1 0 8.9 0a4.4 4.4 0 1 0 -8.9 0zM771.9 1106a4.9 4.9 0 1 0 9.8 0a4.9 4.9 0 1 0 -9.8 0zM891.3 1107.2a4.5 4.5 0 1 0 8.9 0a4.5 4.5 0 1 0 -8.9 0zM753.8 1152.8a5.3 5.3 0 1 0 10.6 0a5.3 5.3 0 1 0 -10.6 0zM939.5 1166.3a4.1 4.1 0 1 0 8.2 0a4.1 4.1 0 1 0 -8.2 0zM871.6 1150a3.9 3.9 0 1 0 7.7 0a3.9 3.9 0 1 0 -7.7 0zM833.1 1124.1a3.4 3.4 0 1 0 6.7 0a3.4 3.4 0 1 0 -6.7 0zM933.6 1164.1a5.7 5.7 0 1 0 11.4 0a5.7 5.7 0 1 0 -11.4 0zM928.8 1141.7a2.9 2.9 0 1 0 5.7 0a2.9 2.9 0 1 0 -5.7 0zM761.4 1125.4a3.8 3.8 0 1 0 7.6 0a3.8 3.8 0 1 0 -7.6 0zM774 1090a4 4 0 1 0 8 0a4 4 0 1 0 -8 0zM890.7 1172.4a5.3 5.3 0 1 0 10.6 0a5.3 5.3 0 1 0 -10.6 0zM793.4 1094.8a4.4 4.4 0 1 0 8.8 0a4.4 4.4 0 1 0 -8.8 0zM928.9 1167.6a5.3 5.3 0 1 0 10.7 0a5.3 5.3 0 1 0 -10.7 0zM879.6 1125.9a3.7 3.7 0 1 0 7.3 0a3.7 3.7 0 1 0 -7.3 0zM893.3 1124.7a4.9 4.9 0 1 0 9.8 0a4.9 4.9 0 1 0 -9.8 0zM758 1122.6a2.8 2.8 0 1 0 5.5 0a2.8 2.8 0 1 0 -5.5 0zM830 1152.5a3 3 0 1 0 6.1 0a3 3 0 1 0 -6.1 0zM934.3 1153.2a3.8 3.8 0 1 0 7.6 0a3.8 3.8 0 1 0 -7.6 0zM822.3 1114.8a3.2 3.2 0 1 0 6.4 0a3.2 3.2 0 1 0 -6.4 0zM797.7 1089.4a4.4 4.4 0 1 0 8.8 0a4.4 4.4 0 1 0 -8.8 0zM903.3 1120.4a3 3 0 1 0 6 0a3 3 0 1 0 -6 0zM849.8 1097.9a5.2 5.2 0 1 0 10.4 0a5.2 5.2 0 1 0 -10.4 0zM950.3 1175.5a4.4 4.4 0 1 0 8.9 0a4.4 4.4 0 1 0 -8.9 0zM804.3 1102a4.3 4.3 0 1 0 8.6 0a4.3 4.3 0 1 0 -8.6 0zM774.4 1083.5a4.5 4.5 0 1 0 8.9 0a4.5 4.5 0 1 0 -8.9 0zM873.5 1148.6a3.1 3.1 0 1 0 6.2 0a3.1 3.1 0 1 0 -6.2 0zM823.9 1106.1a5.5 5.5 0 1 0 11 0a5.5 5.5 0 1 0 -11 0zM865.3 1096.7a5.4 5.4 0 1 0 10.8 0a5.4 5.4 0 1 0 -10.8 0zM897.3 1165.3a3.1 3.1 0 1 0 6.3 0a3.1 3.1 0 1 0 -6.3 0zM814.4 1106.9a3.2 3.2 0 1 0 6.5 0a3.2 3.2 0 1 0 -6.5 0zM873.6 1110a5.5 5.5 0 1 0 11 0a5.5 5.5 0 1 0 -11 0zM899.6 1140.8a4.5 4.5 0 1 0 8.9 0a4.5 4.5 0 1 0 -8.9 0zM929.7 1189.5a3.6 3.6 0 1 0 7.3 0a3.6 3.6 0 1 0 -7.3 0zM822.4 1085.9a5.1 5.1 0 1 0 10.1 0a5.1 5.1 0 1 0 -10.1 0zM778.5 1083a2.6 2.6 0 1 0 5.3 0a2.6 2.6 0 1 0 -5.3 0zM750.9 1122.3a4 4 0 1 0 7.9 0a4 4 0 1 0 -7.9 0zM779.9 1151.9a3.1 3.1 0 1 0 6.1 0a3.1 3.1 0 1 0 -6.1 0zM920 1134.2a3.8 3.8 0 1 0 7.7 0a3.8 3.8 0 1 0 -7.7 0zM792.1 1102.1a2.7 2.7 0 1 0 5.4 0a2.7 2.7 0 1 0 -5.4 0z"/>
<path fill="#35493a" d="M881.8 1141.9a5.1 5.1 0 1 0 10.1 0a5.1 5.1 0 1 0 -10.1 0zM801.2 1149.9a5.8 5.8 0 1 0 11.6 0a5.8 5.8 0 1 0 -11.6 0zM811.1 1117.2a3.9 3.9 0 1 0 7.8 0a3.9 3.9 0 1 0 -7.8 0zM905.1 1138.4a5.4 5.4 0 1 0 10.8 0a5.4 5.4 0 1 0 -10.8 0zM817.2 1093a2.9 2.9 0 1 0 5.9 0a2.9 2.9 0 1 0 -5.9 0zM884.3 1103.3a4.7 4.7 0 1 0 9.4 0a4.7 4.7 0 1 0 -9.4 0zM731.6 1090.4a5.6 5.6 0 1 0 11.2 0a5.6 5.6 0 1 0 -11.2 0zM725.5 1094.1a3.3 3.3 0 1 0 6.6 0a3.3 3.3 0 1 0 -6.6 0zM841.8 1150.5a2.6 2.6 0 1 0 5.2 0a2.6 2.6 0 1 0 -5.2 0zM859.6 1166.4a4.3 4.3 0 1 0 8.7 0a4.3 4.3 0 1 0 -8.7 0zM861.2 1108.8a5.7 5.7 0 1 0 11.3 0a5.7 5.7 0 1 0 -11.3 0zM826.3 1100.2a3.8 3.8 0 1 0 7.6 0a3.8 3.8 0 1 0 -7.6 0zM911.6 1131.9a3.8 3.8 0 1 0 7.6 0a3.8 3.8 0 1 0 -7.6 0zM964.5 1187.5a4.5 4.5 0 1 0 9 0a4.5 4.5 0 1 0 -9 0zM852.7 1088.5a3.1 3.1 0 1 0 6.2 0a3.1 3.1 0 1 0 -6.2 0zM939.4 1167.3a2.9 2.9 0 1 0 5.7 0a2.9 2.9 0 1 0 -5.7 0zM841.2 1140.7a5.5 5.5 0 1 0 11 0a5.5 5.5 0 1 0 -11 0zM832.8 1102.9a4.7 4.7 0 1 0 9.3 0a4.7 4.7 0 1 0 -9.3 0zM741.7 1086a3.9 3.9 0 1 0 7.9 0a3.9 3.9 0 1 0 -7.9 0zM816.1 1123.2a2.7 2.7 0 1 0 5.4 0a2.7 2.7 0 1 0 -5.4 0zM820.1 1142.4a3.3 3.3 0 1 0 6.7 0a3.3 3.3 0 1 0 -6.7 0zM753.6 1071.9a3.6 3.6 0 1 0 7.2 0a3.6 3.6 0 1 0 -7.2 0zM836.6 1122.4a4.8 4.8 0 1 0 9.6 0a4.8 4.8 0 1 0 -9.6 0zM862.1 1098.7a3.8 3.8 0 1 0 7.7 0a3.8 3.8 0 1 0 -7.7 0zM887 1170.2a4.8 4.8 0 1 0 9.7 0a4.8 4.8 0 1 0 -9.7 0zM818.6 1110.9a4.3 4.3 0 1 0 8.5 0a4.3 4.3 0 1 0 -8.5 0zM831.6 1123.9a2.6 2.6 0 1 0 5.2 0a2.6 2.6 0 1 0 -5.2 0zM811.6 1160.1a4.5 4.5 0 1 0 9.1 0a4.5 4.5 0 1 0 -9.1 0zM802.8 1151.8a3.2 3.2 0 1 0 6.3 0a3.2 3.2 0 1 0 -6.3 0zM890.3 1103.2a3.8 3.8 0 1 0 7.6 0a3.8 3.8 0 1 0 -7.6 0zM853.6 1093.1a3.2 3.2 0 1 0 6.4 0a3.2 3.2 0 1 0 -6.4 0zM840.1 1162.4a3.3 3.3 0 1 0 6.6 0a3.3 3.3 0 1 0 -6.6 0zM819.7 1123.7a5.2 5.2 0 1 0 10.3 0a5.2 5.2 0 1 0 -10.3 0zM860.6 1107.9a5.4 5.4 0 1 0 10.8 0a5.4 5.4 0 1 0 -10.8 0zM879.8 1155.6a5.8 5.8 0 1 0 11.7 0a5.8 5.8 0 1 0 -11.7 0zM743.3 1073.7a3.3 3.3 0 1 0 6.6 0a3.3 3.3 0 1 0 -6.6 0zM897.7 1143.1a3.1 3.1 0 1 0 6.2 0a3.1 3.1 0 1 0 -6.2 0zM840.5 1113.1a3.7 3.7 0 1 0 7.4 0a3.7 3.7 0 1 0 -7.4 0zM728.5 1073.8a3.8 3.8 0 1 0 7.5 0a3.8 3.8 0 1 0 -7.5 0zM891.1 1130.5a3.6 3.6 0 1 0 7.1 0a3.6 3.6 0 1 0 -7.1 0zM761 1140.7a5.1 5.1 0 1 0 10.1 0a5.1 5.1 0 1 0 -10.1 0zM858.7 1134.7a2.7 2.7 0 1 0 5.5 0a2.7 2.7 0 1 0 -5.5 0zM827.2 1082.2a2.7 2.7 0 1 0 5.5 0a2.7 2.7 0 1 0 -5.5 0z"/>
<path fill="#1d2c24" d="M861.6 1092.4a3 3 0 1 0 5.9 0a3 3 0 1 0 -5.9 0zM853.5 1157.5a4.5 4.5 0 1 0 9.1 0a4.5 4.5 0 1 0 -9.1 0zM746.5 1094.1a4 4 0 1 0 7.9 0a4 4 0 1 0 -7.9 0zM758.5 1095.2a3.9 3.9 0 1 0 7.8 0a3.9 3.9 0 1 0 -7.8 0zM878.6 1153.4a5.8 5.8 0 1 0 11.6 0a5.8 5.8 0 1 0 -11.6 0zM905.7 1136.1a4.3 4.3 0 1 0 8.6 0a4.3 4.3 0 1 0 -8.6 0zM845.1 1133.5a4.5 4.5 0 1 0 8.9 0a4.5 4.5 0 1 0 -8.9 0zM897.8 1162.4a2.6 2.6 0 1 0 5.2 0a2.6 2.6 0 1 0 -5.2 0zM959.5 1177.6a4.8 4.8 0 1 0 9.6 0a4.8 4.8 0 1 0 -9.6 0zM932.3 1163.6a5.2 5.2 0 1 0 10.3 0a5.2 5.2 0 1 0 -10.3 0zM914.4 1155.4a3.5 3.5 0 1 0 7.1 0a3.5 3.5 0 1 0 -7.1 0zM783.5 1089.8a3.9 3.9 0 1 0 7.8 0a3.9 3.9 0 1 0 -7.8 0zM818.9 1152.5a2.7 2.7 0 1 0 5.3 0a2.7 2.7 0 1 0 -5.3 0zM943.1 1179a3 3 0 1 0 6 0a3 3 0 1 0 -6 0zM760.4 1145a5.5 5.5 0 1 0 11 0a5.5 5.5 0 1 0 -11 0zM740.5 1089.9a3.9 3.9 0 1 0 7.8 0a3.9 3.9 0 1 0 -7.8 0zM968.3 1188.2a3.3 3.3 0 1 0 6.6 0a3.3 3.3 0 1 0 -6.6 0zM919.2 1171.3a5.4 5.4 0 1 0 10.8 0a5.4 5.4 0 1 0 -10.8 0zM798.8 1113.5a4.6 4.6 0 1 0 9.2 0a4.6 4.6 0 1 0 -9.2 0zM902.4 1120.6a5.1 5.1 0 1 0 10.2 0a5.1 5.1 0 1 0 -10.2 0zM745.4 1076.8a2.9 2.9 0 1 0 5.8 0a2.9 2.9 0 1 0 -5.8 0zM764.4 1091.8a3.6 3.6 0 1 0 7.3 0a3.6 3.6 0 1 0 -7.3 0zM836.5 1164.5a4.1 4.1 0 1 0 8.2 0a4.1 4.1 0 1 0 -8.2 0zM868.5 1099.6a3.9 3.9 0 1 0 7.8 0a3.9 3.9 0 1 0 -7.8 0zM951.6 1186.8a4 4 0 1 0 8 0a4 4 0 1 0 -8 0zM886.2 1109a3.5 3.5 0 1 0 7 0a3.5 3.5 0 1 0 -7 0zM830.5 1166.9a4.5 4.5 0 1 0 9 0a4.5 4.5 0 1 0 -9 0zM855.2 1121.7a4.1 4.1 0 1 0 8.2 0a4.1 4.1 0 1 0 -8.2 0zM803.3 1128.6a4.4 4.4 0 1 0 8.8 0a4.4 4.4 0 1 0 -8.8 0zM830.6 1134.2a3.2 3.2 0 1 0 6.4 0a3.2 3.2 0 1 0 -6.4 0zM953.9 1190.1a4.1 4.1 0 1 0 8.2 0a4.1 4.1 0 1 0 -8.2 0zM931.3 1158.1a5.3 5.3 0 1 0 10.6 0a5.3 5.3 0 1 0 -10.6 0zM800.2 1143.5a3.7 3.7 0 1 0 7.4 0a3.7 3.7 0 1 0 -7.4 0zM784 1111.3a4.6 4.6 0 1 0 9.1 0a4.6 4.6 0 1 0 -9.1 0zM845.1 1163.7a5.2 5.2 0 1 0 10.3 0a5.2 5.2 0 1 0 -10.3 0zM795.6 1089.6a4 4 0 1 0 8 0a4 4 0 1 0 -8 0zM818.6 1114a2.7 2.7 0 1 0 5.3 0a2.7 2.7 0 1 0 -5.3 0zM744.9 1071.4a4.2 4.2 0 1 0 8.3 0a4.2 4.2 0 1 0 -8.3 0zM752 1075.7a3.7 3.7 0 1 0 7.3 0a3.7 3.7 0 1 0 -7.3 0zM778.8 1072.6a3.2 3.2 0 1 0 6.5 0a3.2 3.2 0 1 0 -6.5 0z"/>
<path fill="#2e4234" d="M781.6 1125.5a3.9 3.9 0 1 0 7.9 0a3.9 3.9 0 1 0 -7.9 0zM902.5 1158.5a4.4 4.4 0 1 0 8.8 0a4.4 4.4 0 1 0 -8.8 0zM882.6 1111.9a3 3 0 1 0 6.1 0a3 3 0 1 0 -6.1 0zM822.1 1087.2a4.8 4.8 0 1 0 9.6 0a4.8 4.8 0 1 0 -9.6 0zM786.4 1100.4a5.4 5.4 0 1 0 10.8 0a5.4 5.4 0 1 0 -10.8 0zM812.2 1156.3a4.6 4.6 0 1 0 9.1 0a4.6 4.6 0 1 0 -9.1 0zM873.3 1097.9a4 4 0 1 0 8.1 0a4 4 0 1 0 -8.1 0zM891.2 1129.6a5.1 5.1 0 1 0 10.2 0a5.1 5.1 0 1 0 -10.2 0zM803.4 1161.6a5.5 5.5 0 1 0 11 0a5.5 5.5 0 1 0 -11 0zM833.2 1145a5.1 5.1 0 1 0 10.3 0a5.1 5.1 0 1 0 -10.3 0zM839.3 1120.9a5.1 5.1 0 1 0 10.2 0a5.1 5.1 0 1 0 -10.2 0zM801.9 1156.9a2.9 2.9 0 1 0 5.8 0a2.9 2.9 0 1 0 -5.8 0zM820.6 1139.2a4.6 4.6 0 1 0 9.1 0a4.6 4.6 0 1 0 -9.1 0zM772.4 1099.2a3.1 3.1 0 1 0 6.1 0a3.1 3.1 0 1 0 -6.1 0zM824.1 1163.3a5.6 5.6 0 1 0 11.1 0a5.6 5.6 0 1 0 -11.1 0zM833.2 1143.8a3.3 3.3 0 1 0 6.5 0a3.3 3.3 0 1 0 -6.5 0zM889.3 1138.2a3 3 0 1 0 6 0a3 3 0 1 0 -6 0zM808.2 1160a5.4 5.4 0 1 0 10.7 0a5.4 5.4 0 1 0 -10.7 0zM903.6 1140.1a3.5 3.5 0 1 0 6.9 0a3.5 3.5 0 1 0 -6.9 0zM810.5 1079.5a5.4 5.4 0 1 0 10.7 0a5.4 5.4 0 1 0 -10.7 0zM891.8 1167.9a3.6 3.6 0 1 0 7.1 0a3.6 3.6 0 1 0 -7.1 0zM887.8 1113.9a5.2 5.2 0 1 0 10.4 0a5.2 5.2 0 1 0 -10.4 0zM837 1115.5a4.7 4.7 0 1 0 9.3 0a4.7 4.7 0 1 0 -9.3 0zM787.6 1102.6a4 4 0 1 0 8 0a4 4 0 1 0 -8 0zM833.2 1099.1a5.6 5.6 0 1 0 11.3 0a5.6 5.6 0 1 0 -11.3 0zM734.8 1088.4a3.6 3.6 0 1 0 7.1 0a3.6 3.6 0 1 0 -7.1 0zM862.7 1131.8a5.3 5.3 0 1 0 10.6 0a5.3 5.3 0 1 0 -10.6 0zM932.8 1167.3a3.1 3.1 0 1 0 6.2 0a3.1 3.1 0 1 0 -6.2 0zM762.7 1086.3a4.9 4.9 0 1 0 9.8 0a4.9 4.9 0 1 0 -9.8 0zM859.8 1127.6a2.8 2.8 0 1 0 5.5 0a2.8 2.8 0 1 0 -5.5 0zM729.3 1099a4.4 4.4 0 1 0 8.8 0a4.4 4.4 0 1 0 -8.8 0zM928 1164.8a2.8 2.8 0 1 0 5.6 0a2.8 2.8 0 1 0 -5.6 0zM794.8 1142.2a3.4 3.4 0 1 0 6.8 0a3.4 3.4 0 1 0 -6.8 0zM888.4 1160.3a2.7 2.7 0 1 0 5.4 0a2.7 2.7 0 1 0 -5.4 0zM782.4 1159.1a3 3 0 1 0 6.1 0a3 3 0 1 0 -6.1 0zM963 1174.8a5.8 5.8 0 1 0 11.7 0a5.8 5.8 0 1 0 -11.7 0zM916 1127.2a4.7 4.7 0 1 0 9.3 0a4.7 4.7 0 1 0 -9.3 0zM888.2 1144.6a5.4 5.4 0 1 0 10.7 0a5.4 5.4 0 1 0 -10.7 0zM813.3 1113.2a4.5 4.5 0 1 0 8.9 0a4.5 4.5 0 1 0 -8.9 0z"/>
<path fill="#22332a" d="M952.2 1174.6a5.2 5.2 0 1 0 10.5 0a5.2 5.2 0 1 0 -10.5 0zM804.7 1155.5a3.5 3.5 0 1 0 7 0a3.5 3.5 0 1 0 -7 0zM836.4 1158.8a5.9 5.9 0 1 0 11.9 0a5.9 5.9 0 1 0 -11.9 0zM746.4 1085.6a2.7 2.7 0 1 0 5.4 0a2.7 2.7 0 1 0 -5.4 0zM774.5 1142.5a3.7 3.7 0 1 0 7.5 0a3.7 3.7 0 1 0 -7.5 0zM749.7 1098.3a2.6 2.6 0 1 0 5.1 0a2.6 2.6 0 1 0 -5.1 0zM846.3 1089.1a4.4 4.4 0 1 0 8.8 0a4.4 4.4 0 1 0 -8.8 0zM885.3 1162.4a5.1 5.1 0 1 0 10.1 0a5.1 5.1 0 1 0 -10.1 0zM845.6 1144.1a5.6 5.6 0 1 0 11.3 0a5.6 5.6 0 1 0 -11.3 0zM781.4 1152.5a3.3 3.3 0 1 0 6.7 0a3.3 3.3 0 1 0 -6.7 0zM887.1 1154.7a3.9 3.9 0 1 0 7.8 0a3.9 3.9 0 1 0 -7.8 0zM825.1 1165.2a4.4 4.4 0 1 0 8.8 0a4.4 4.4 0 1 0 -8.8 0zM788.9 1145.7a4.3 4.3 0 1 0 8.6 0a4.3 4.3 0 1 0 -8.6 0zM755.1 1129.7a4.3 4.3 0 1 0 8.6 0a4.3 4.3 0 1 0 -8.6 0zM860.3 1149.3a3.6 3.6 0 1 0 7.3 0a3.6 3.6 0 1 0 -7.3 0zM896.6 1149.5a5.4 5.4 0 1 0 10.8 0a5.4 5.4 0 1 0 -10.8 0zM962.1 1176.1a3.4 3.4 0 1 0 6.9 0a3.4 3.4 0 1 0 -6.9 0zM734.9 1084.2a6 6 0 1 0 12 0a6 6 0 1 0 -12 0zM857.3 1160.1a5.4 5.4 0 1 0 10.8 0a5.4 5.4 0 1 0 -10.8 0zM774.9 1153.2a5.7 5.7 0 1 0 11.5 0a5.7 5.7 0 1 0 -11.5 0zM775.6 1072.6a3.2 3.2 0 1 0 6.4 0a3.2 3.2 0 1 0 -6.4 0zM852.1 1105.3a5.9 5.9 0 1 0 11.9 0a5.9 5.9 0 1 0 -11.9 0zM873.6 1144.8a3.4 3.4 0 1 0 6.8 0a3.4 3.4 0 1 0 -6.8 0zM779.9 1083.5a5.7 5.7 0 1 0 11.5 0a5.7 5.7 0 1 0 -11.5 0zM896.1 1151.3a2.7 2.7 0 1 0 5.3 0a2.7 2.7 0 1 0 -5.3 0zM773.2 1110.1a2.6 2.6 0 1 0 5.1 0a2.6 2.6 0 1 0 -5.1 0zM866.9 1106.4a3.9 3.9 0 1 0 7.8 0a3.9 3.9 0 1 0 -7.8 0zM750.6 1115.3a3.9 3.9 0 1 0 7.8 0a3.9 3.9 0 1 0 -7.8 0zM855.4 1151.1a4 4 0 1 0 8 0a4 4 0 1 0 -8 0zM932.8 1163.7a5.3 5.3 0 1 0 10.6 0a5.3 5.3 0 1 0 -10.6 0zM875.1 1106.1a5.8 5.8 0 1 0 11.6 0a5.8 5.8 0 1 0 -11.6 0zM796.6 1077.5a4.2 4.2 0 1 0 8.4 0a4.2 4.2 0 1 0 -8.4 0zM940.4 1173.1a5.5 5.5 0 1 0 10.9 0a5.5 5.5 0 1 0 -10.9 0zM913.4 1158.6a6 6 0 1 0 12 0a6 6 0 1 0 -12 0zM759.1 1107.8a3.8 3.8 0 1 0 7.7 0a3.8 3.8 0 1 0 -7.7 0zM768.3 1141.7a5.6 5.6 0 1 0 11.3 0a5.6 5.6 0 1 0 -11.3 0zM801.6 1139.5a4.4 4.4 0 1 0 8.9 0a4.4 4.4 0 1 0 -8.9 0zM821.3 1173.1a3 3 0 1 0 6 0a3 3 0 1 0 -6 0zM811.3 1152a5.5 5.5 0 1 0 11.1 0a5.5 5.5 0 1 0 -11.1 0zM862.6 1165.2a3.6 3.6 0 1 0 7.2 0a3.6 3.6 0 1 0 -7.2 0zM900.9 1159.8a4.4 4.4 0 1 0 8.7 0a4.4 4.4 0 1 0 -8.7 0zM887.8 1115.2a4 4 0 1 0 7.9 0a4 4 0 1 0 -7.9 0zM804.5 1114.8a4.8 4.8 0 1 0 9.7 0a4.8 4.8 0 1 0 -9.7 0z"/>
<path fill="#26382c" d="M742.5 1098.6a5.2 5.2 0 1 0 10.5 0a5.2 5.2 0 1 0 -10.5 0zM837.3 1155.3a4.9 4.9 0 1 0 9.9 0a4.9 4.9 0 1 0 -9.9 0zM857.3 1147.8a5.3 5.3 0 1 0 10.5 0a5.3 5.3 0 1 0 -10.5 0zM822 1124.2a3.4 3.4 0 1 0 6.8 0a3.4 3.4 0 1 0 -6.8 0zM742.5 1101.2a4.4 4.4 0 1 0 8.9 0a4.4 4.4 0 1 0 -8.9 0zM811.6 1120.5a5.2 5.2 0 1 0 10.4 0a5.2 5.2 0 1 0 -10.4 0zM828.5 1098.3a3.5 3.5 0 1 0 7 0a3.5 3.5 0 1 0 -7 0zM870 1114.6a5.6 5.6 0 1 0 11.3 0a5.6 5.6 0 1 0 -11.3 0zM913.6 1170.3a5.8 5.8 0 1 0 11.7 0a5.8 5.8 0 1 0 -11.7 0zM886.1 1099.2a5.3 5.3 0 1 0 10.5 0a5.3 5.3 0 1 0 -10.5 0zM779.3 1156.1a5.8 5.8 0 1 0 11.6 0a5.8 5.8 0 1 0 -11.6 0zM818.5 1138.4a3.4 3.4 0 1 0 6.8 0a3.4 3.4 0 1 0 -6.8 0zM774.2 1091.4a5.6 5.6 0 1 0 11.1 0a5.6 5.6 0 1 0 -11.1 0zM798.5 1159.4a4.4 4.4 0 1 0 8.7 0a4.4 4.4 0 1 0 -8.7 0zM890.4 1154a3.4 3.4 0 1 0 6.8 0a3.4 3.4 0 1 0 -6.8 0zM910.8 1129.4a3.8 3.8 0 1 0 7.7 0a3.8 3.8 0 1 0 -7.7 0zM774.8 1081.7a5.2 5.2 0 1 0 10.4 0a5.2 5.2 0 1 0 -10.4 0zM727.3 1074.4a3.5 3.5 0 1 0 7.1 0a3.5 3.5 0 1 0 -7.1 0zM802.8 1170.2a4.2 4.2 0 1 0 8.5 0a4.2 4.2 0 1 0 -8.5 0zM930.5 1148.3a3 3 0 1 0 5.9 0a3 3 0 1 0 -5.9 0zM907.1 1170a4.4 4.4 0 1 0 8.9 0a4.4 4.4 0 1 0 -8.9 0zM878.1 1134.3a4.3 4.3 0 1 0 8.5 0a4.3 4.3 0 1 0 -8.5 0zM735.8 1085.6a5.2 5.2 0 1 0 10.4 0a5.2 5.2 0 1 0 -10.4 0zM783 1139.4a5.9 5.9 0 1 0 11.8 0a5.9 5.9 0 1 0 -11.8 0zM855.1 1123.9a5.1 5.1 0 1 0 10.2 0a5.1 5.1 0 1 0 -10.2 0zM868.3 1091.5a4.7 4.7 0 1 0 9.4 0a4.7 4.7 0 1 0 -9.4 0zM787.3 1147.6a2.5 2.5 0 1 0 5.1 0a2.5 2.5 0 1 0 -5.1 0zM763.6 1109.9a4.4 4.4 0 1 0 8.9 0a4.4 4.4 0 1 0 -8.9 0zM739.7 1076.4a5 5 0 1 0 10 0a5 5 0 1 0 -10 0zM847.1 1152.7a5.8 5.8 0 1 0 11.5 0a5.8 5.8 0 1 0 -11.5 0zM944.5 1188.7a4.2 4.2 0 1 0 8.5 0a4.2 4.2 0 1 0 -8.5 0zM837.9 1154a4.4 4.4 0 1 0 8.9 0a4.4 4.4 0 1 0 -8.9 0zM769.5 1104.4a2.6 2.6 0 1 0 5.1 0a2.6 2.6 0 1 0 -5.1 0zM870.9 1126.1a5.6 5.6 0 1 0 11.2 0a5.6 5.6 0 1 0 -11.2 0zM765.9 1120.5a5.5 5.5 0 1 0 11 0a5.5 5.5 0 1 0 -11 0zM837.2 1158.8a3.4 3.4 0 1 0 6.8 0a3.4 3.4 0 1 0 -6.8 0zM933.1 1186.9a4.7 4.7 0 1 0 9.4 0a4.7 4.7 0 1 0 -9.4 0zM850.5 1158.3a5.2 5.2 0 1 0 10.5 0a5.2 5.2 0 1 0 -10.5 0zM787.4 1129.8a5.1 5.1 0 1 0 10.2 0a5.1 5.1 0 1 0 -10.2 0zM753.7 1088.9a3.3 3.3 0 1 0 6.5 0a3.3 3.3 0 1 0 -6.5 0zM745.1 1076.7a5.6 5.6 0 1 0 11.2 0a5.6 5.6 0 1 0 -11.2 0zM804.5 1120.5a3.5 3.5 0 1 0 6.9 0a3.5 3.5 0 1 0 -6.9 0zM772.7 1140.1a2.8 2.8 0 1 0 5.6 0a2.8 2.8 0 1 0 -5.6 0zM894.5 1111.8a3.4 3.4 0 1 0 6.8 0a3.4 3.4 0 1 0 -6.8 0zM723.6 1096.8a6 6 0 1 0 11.9 0a6 6 0 1 0 -11.9 0zM727.3 1099.2a3.4 3.4 0 1 0 6.7 0a3.4 3.4 0 1 0 -6.7 0zM856.9 1086.6a2.9 2.9 0 1 0 5.7 0a2.9 2.9 0 1 0 -5.7 0zM906.4 1143.5a5.3 5.3 0 1 0 10.6 0a5.3 5.3 0 1 0 -10.6 0zM845.7 1112.2a4.8 4.8 0 1 0 9.7 0a4.8 4.8 0 1 0 -9.7 0zM844.9 1100.6a2.9 2.9 0 1 0 5.9 0a2.9 2.9 0 1 0 -5.9 0zM777.4 1076.3a3 3 0 1 0 6.1 0a3 3 0 1 0 -6.1 0zM731.4 1083.2a3.9 3.9 0 1 0 7.7 0a3.9 3.9 0 1 0 -7.7 0z"/>
<polygon points="832.6,1111.6 858.5,1104.5 877.8,1117.4 906.8,1127.1 923.6,1140.6 910.1,1150.3 877.8,1143.9 845.5,1137.4 829.4,1127.7" fill="#6c8390"/>
<path fill="#5d7482" d="M895.9 1137.9a3.2 3.2 0 1 0 6.3 0a3.2 3.2 0 1 0 -6.3 0zM889.4 1134.2a3.7 3.7 0 1 0 7.4 0a3.7 3.7 0 1 0 -7.4 0zM840.4 1135.4a4.1 4.1 0 1 0 8.1 0a4.1 4.1 0 1 0 -8.1 0zM854.8 1125.8a4.4 4.4 0 1 0 8.8 0a4.4 4.4 0 1 0 -8.8 0zM842.1 1136.3a3.8 3.8 0 1 0 7.6 0a3.8 3.8 0 1 0 -7.6 0zM851.9 1131.7a3.6 3.6 0 1 0 7.1 0a3.6 3.6 0 1 0 -7.1 0zM835.3 1130.4a4.3 4.3 0 1 0 8.7 0a4.3 4.3 0 1 0 -8.7 0zM835.9 1119.3a4.2 4.2 0 1 0 8.3 0a4.2 4.2 0 1 0 -8.3 0zM847.5 1115.3a4 4 0 1 0 8 0a4 4 0 1 0 -8 0zM895.5 1133.5a2.3 2.3 0 1 0 4.7 0a2.3 2.3 0 1 0 -4.7 0zM880.2 1128.7a3.7 3.7 0 1 0 7.5 0a3.7 3.7 0 1 0 -7.5 0zM853.3 1128.7a4.1 4.1 0 1 0 8.1 0a4.1 4.1 0 1 0 -8.1 0zM891.2 1128a2.6 2.6 0 1 0 5.1 0a2.6 2.6 0 1 0 -5.1 0z"/>
<path fill="#8aa0aa" d="M868.6 1125.1a2.9 2.9 0 1 0 5.8 0a2.9 2.9 0 1 0 -5.8 0zM854.8 1125.1a3.8 3.8 0 1 0 7.7 0a3.8 3.8 0 1 0 -7.7 0zM885.4 1144.1a3.1 3.1 0 1 0 6.2 0a3.1 3.1 0 1 0 -6.2 0zM860.7 1128.9a4.5 4.5 0 1 0 8.9 0a4.5 4.5 0 1 0 -8.9 0zM842.1 1132a3.5 3.5 0 1 0 7 0a3.5 3.5 0 1 0 -7 0zM857.9 1124.1a3.8 3.8 0 1 0 7.6 0a3.8 3.8 0 1 0 -7.6 0zM873.5 1131a2.4 2.4 0 1 0 4.9 0a2.4 2.4 0 1 0 -4.9 0zM910.8 1138.9a2.1 2.1 0 1 0 4.1 0a2.1 2.1 0 1 0 -4.1 0zM885.5 1124.6a3.9 3.9 0 1 0 7.9 0a3.9 3.9 0 1 0 -7.9 0zM853.7 1132.5a4.3 4.3 0 1 0 8.5 0a4.3 4.3 0 1 0 -8.5 0zM896.9 1138.7a2.6 2.6 0 1 0 5.3 0a2.6 2.6 0 1 0 -5.3 0zM856.9 1109.8a3.2 3.2 0 1 0 6.4 0a3.2 3.2 0 1 0 -6.4 0z"/>
<path fill="#7c93a0" d="M903.7 1133.6a3.2 3.2 0 1 0 6.5 0a3.2 3.2 0 1 0 -6.5 0zM861.1 1116.4a4.2 4.2 0 1 0 8.4 0a4.2 4.2 0 1 0 -8.4 0zM836.3 1113.4a3.7 3.7 0 1 0 7.4 0a3.7 3.7 0 1 0 -7.4 0zM872.3 1129.6a2.4 2.4 0 1 0 4.7 0a2.4 2.4 0 1 0 -4.7 0zM855.2 1133.5a4 4 0 1 0 8 0a4 4 0 1 0 -8 0zM860.3 1130.1a3.3 3.3 0 1 0 6.5 0a3.3 3.3 0 1 0 -6.5 0zM899.9 1142.4a3.3 3.3 0 1 0 6.6 0a3.3 3.3 0 1 0 -6.6 0zM905.1 1149.6a3.2 3.2 0 1 0 6.5 0a3.2 3.2 0 1 0 -6.5 0z"/>
<path fill="#4d6470" d="M876.9 1122.6a3.1 3.1 0 1 0 6.2 0a3.1 3.1 0 1 0 -6.2 0zM846.2 1133.5a3.8 3.8 0 1 0 7.6 0a3.8 3.8 0 1 0 -7.6 0zM849.8 1122.6a4 4 0 1 0 8.1 0a4 4 0 1 0 -8.1 0zM860.4 1123.8a2.9 2.9 0 1 0 5.8 0a2.9 2.9 0 1 0 -5.8 0zM854.1 1106.4a4.3 4.3 0 1 0 8.6 0a4.3 4.3 0 1 0 -8.6 0zM894.4 1137.6a4.1 4.1 0 1 0 8.1 0a4.1 4.1 0 1 0 -8.1 0zM890.9 1124.8a3.4 3.4 0 1 0 6.7 0a3.4 3.4 0 1 0 -6.7 0zM854 1113.9a2.6 2.6 0 1 0 5.1 0a2.6 2.6 0 1 0 -5.1 0zM852.7 1110.7a4.5 4.5 0 1 0 8.9 0a4.5 4.5 0 1 0 -8.9 0zM858.8 1111.7a2.5 2.5 0 1 0 5.1 0a2.5 2.5 0 1 0 -5.1 0zM837.7 1109.4a4.4 4.4 0 1 0 8.8 0a4.4 4.4 0 1 0 -8.8 0zM853.4 1110.8a3.9 3.9 0 1 0 7.9 0a3.9 3.9 0 1 0 -7.9 0z"/>
<polygon points="764.9,1114.2 797.2,1112.6 803.6,1133.5 774.6,1138.4" fill="#575a40"/>
<path fill="#6a6648" d="M797.6 1129.1a3.5 3.5 0 1 0 6.9 0a3.5 3.5 0 1 0 -6.9 0zM793.4 1115.4a2 2 0 1 0 4 0a2 2 0 1 0 -4 0zM783.4 1135.3a3.4 3.4 0 1 0 6.8 0a3.4 3.4 0 1 0 -6.8 0zM779.2 1126.7a3.4 3.4 0 1 0 6.8 0a3.4 3.4 0 1 0 -6.8 0zM791.8 1134.2a3.3 3.3 0 1 0 6.6 0a3.3 3.3 0 1 0 -6.6 0zM791.7 1130.8a2.3 2.3 0 1 0 4.7 0a2.3 2.3 0 1 0 -4.7 0zM767.9 1116a2.9 2.9 0 1 0 5.7 0a2.9 2.9 0 1 0 -5.7 0zM770.8 1118.5a2.5 2.5 0 1 0 5 0a2.5 2.5 0 1 0 -5 0zM783.1 1118.4a2.8 2.8 0 1 0 5.5 0a2.8 2.8 0 1 0 -5.5 0zM783.8 1136.2a3.9 3.9 0 1 0 7.7 0a3.9 3.9 0 1 0 -7.7 0z"/>
<path fill="#4a4f38" d="M765.7 1122.9a2.9 2.9 0 1 0 5.9 0a2.9 2.9 0 1 0 -5.9 0zM789.5 1120.3a3.5 3.5 0 1 0 7 0a3.5 3.5 0 1 0 -7 0zM766.8 1118.5a2.1 2.1 0 1 0 4.2 0a2.1 2.1 0 1 0 -4.2 0zM775.7 1135.7a2.1 2.1 0 1 0 4.2 0a2.1 2.1 0 1 0 -4.2 0z"/>
<polygon points="813.3,1179.4 839.1,1175.5 858.5,1165.8 884.3,1169.0 916.5,1181.9 935.9,1191.6 972.0,1195.5 972.0,1207.7 929.4,1195.5 897.2,1189.0 864.9,1187.1 832.6,1192.3" fill="#35502f"/>
<polygon points="930.1,1163.2 972.0,1169.0 972.0,1195.5 942.3,1191.6" fill="#454852"/>
<polygon points="743.9,1046.5 810.1,1051.3 813.3,1062.6 823.0,1064.5 823.0,1072.3 761.7,1062.6 745.5,1057.7" fill="#dddcd8"/>
<polygon points="834.3,1069.0 861.7,1067.4 866.5,1088.4 852.0,1091.6 834.3,1078.7" fill="#d9d5cc"/>
<polygon points="714.9,1070.6 740.7,1065.8 743.0,1072.3 739.1,1088.4 716.5,1090.3" fill="#d5d0c7"/>
<polygon points="664.9,1091.6 711.7,1081.9 715.2,1091.6 713.3,1106.5 668.1,1111.6" fill="#d6d2ca"/>
<polygon points="652.0,1109.4 706.8,1114.2 706.8,1134.2 652.0,1132.3" fill="#d9d5cc"/>
<polygon points="708.5,1102.9 724.9,1098.1 744.3,1122.6 742.3,1140.6 721.7,1135.5 710.1,1117.4" fill="#d2cec6"/>
<polygon points="710.1,1117.4 721.7,1135.5 742.3,1140.6 742.3,1133.5 723.0,1127.7 711.4,1111.6" fill="#b9b5ae"/>
<polygon points="652.0,1120.6 706.8,1124.5 706.8,1134.2 652.0,1132.3" fill="#c4c0b8"/>
<polygon points="652.0,1133.5 716.5,1136.8 745.5,1146.5 760.1,1153.5 746.2,1163.2 716.5,1153.5 668.1,1143.9 652.0,1143.9" fill="#4f9444"/>
<polygon points="652.0,1072.3 690.7,1062.6 713.3,1065.8 710.1,1078.7 671.4,1088.4 652.0,1088.4" fill="#6a8f4c"/>
<path fill="#2f5a2c" d="M703.6 1134.1a2.8 2.8 0 1 0 5.5 0a2.8 2.8 0 1 0 -5.5 0zM659.7 1136.3a2.9 2.9 0 1 0 5.7 0a2.9 2.9 0 1 0 -5.7 0zM703.6 1136.2a2.3 2.3 0 1 0 4.6 0a2.3 2.3 0 1 0 -4.6 0zM676 1135.9a2.4 2.4 0 1 0 4.8 0a2.4 2.4 0 1 0 -4.8 0zM650.6 1137.9a2.3 2.3 0 1 0 4.5 0a2.3 2.3 0 1 0 -4.5 0zM740.8 1141.9a3.3 3.3 0 1 0 6.5 0a3.3 3.3 0 1 0 -6.5 0zM704.1 1138.5a2.9 2.9 0 1 0 5.7 0a2.9 2.9 0 1 0 -5.7 0z"/>
<path fill="#3d6a34" d="M672.1 1133.4a3.5 3.5 0 1 0 6.9 0a3.5 3.5 0 1 0 -6.9 0zM650.9 1134.1a2.3 2.3 0 1 0 4.6 0a2.3 2.3 0 1 0 -4.6 0zM731.5 1136.6a2.5 2.5 0 1 0 4.9 0a2.5 2.5 0 1 0 -4.9 0zM698.1 1141.3a2.2 2.2 0 1 0 4.4 0a2.2 2.2 0 1 0 -4.4 0zM651.9 1134a2.4 2.4 0 1 0 4.7 0a2.4 2.4 0 1 0 -4.7 0zM688.9 1141a3.1 3.1 0 1 0 6.2 0a3.1 3.1 0 1 0 -6.2 0zM710.3 1134.8a2.9 2.9 0 1 0 5.8 0a2.9 2.9 0 1 0 -5.8 0zM741.4 1142.4a2.8 2.8 0 1 0 5.7 0a2.8 2.8 0 1 0 -5.7 0zM683.4 1138.1a2.9 2.9 0 1 0 5.8 0a2.9 2.9 0 1 0 -5.8 0z"/>
<polygon points="666.5,1156.1 729.4,1162.6 733.3,1172.9 666.5,1167.7" fill="#cf623e"/>
<polygon points="668.1,1145.8 728.1,1152.9 730.1,1163.2 668.1,1156.8" fill="#5eb48c"/>
<polygon points="743.9,1168.4 793.9,1178.7 814.9,1183.5 813.3,1189.0 787.5,1185.8 743.9,1175.5" fill="#c9623e"/>
<polygon points="745.5,1159.4 764.9,1156.1 790.7,1162.6 813.3,1175.5 815.2,1183.9 793.9,1178.7 761.7,1171.0 744.3,1169.0" fill="#63b58f"/>
<polygon points="803.6,1169.0 814.9,1178.1 815.2,1183.9 806.2,1180.6" fill="#e4e2de"/>
<polygon points="844.3,1145.2 858.5,1141.9 886.2,1149.7 884.3,1159.4 871.4,1161.3 845.5,1152.9" fill="#cd303d"/>
<polygon points="949.4,1151.3 972.0,1148.1 972.0,1175.5 950.4,1167.4" fill="#b9533d"/>
<polygon points="953.6,1151.3 972.0,1148.1 972.0,1156.8 955.2,1158.7" fill="#63b58f"/>
<polygon points="758.5,1214.2 806.8,1220.6 845.5,1223.9 868.1,1233.5 906.8,1246.5 758.5,1246.5" fill="#7c8e4b"/>
<polygon points="871.4,1191.6 897.2,1188.4 930.1,1194.8 955.9,1218.1 933.3,1216.1 903.6,1214.2 877.8,1231.0 868.1,1214.2" fill="#5c9848"/>
<polygon points="935.9,1201.3 972.0,1207.7 972.0,1220.6 956.8,1218.1" fill="#6aa048"/>
<polygon points="716.5,1207.7 729.4,1194.8 758.5,1191.6 797.2,1181.9 833.3,1194.8 833.3,1214.2 806.8,1220.6 761.7,1211.6 755.9,1246.5 713.3,1246.5" fill="#2f5230"/>
<path fill="#2a3a34" d="M825.9 1200.1a4.3 4.3 0 1 0 8.6 0a4.3 4.3 0 1 0 -8.6 0zM785.6 1201.2a3.7 3.7 0 1 0 7.4 0a3.7 3.7 0 1 0 -7.4 0zM795.1 1215.9a5.3 5.3 0 1 0 10.5 0a5.3 5.3 0 1 0 -10.5 0zM763.2 1196.1a5.5 5.5 0 1 0 11 0a5.5 5.5 0 1 0 -11 0zM803.6 1217.5a3.7 3.7 0 1 0 7.5 0a3.7 3.7 0 1 0 -7.5 0z"/>
<path fill="#4a8a3e" d="M790.4 1202a4.8 4.8 0 1 0 9.6 0a4.8 4.8 0 1 0 -9.6 0zM746.1 1232.9a3.9 3.9 0 1 0 7.8 0a3.9 3.9 0 1 0 -7.8 0zM727.7 1224.9a4.1 4.1 0 1 0 8.1 0a4.1 4.1 0 1 0 -8.1 0zM789 1191.1a2.6 2.6 0 1 0 5.2 0a2.6 2.6 0 1 0 -5.2 0zM777.7 1195.9a3.7 3.7 0 1 0 7.5 0a3.7 3.7 0 1 0 -7.5 0z"/>
<path fill="#243626" d="M802.4 1211.4a2.6 2.6 0 1 0 5.2 0a2.6 2.6 0 1 0 -5.2 0zM744.1 1217.7a3 3 0 1 0 5.9 0a3 3 0 1 0 -5.9 0zM724.6 1209.9a4.6 4.6 0 1 0 9.3 0a4.6 4.6 0 1 0 -9.3 0zM771.5 1191.8a4.4 4.4 0 1 0 8.8 0a4.4 4.4 0 1 0 -8.8 0z"/>
<path fill="#22302a" d="M737.6 1242.3a4.3 4.3 0 1 0 8.5 0a4.3 4.3 0 1 0 -8.5 0zM753.5 1193.5a3.7 3.7 0 1 0 7.4 0a3.7 3.7 0 1 0 -7.4 0zM770.8 1209.7a5.4 5.4 0 1 0 10.7 0a5.4 5.4 0 1 0 -10.7 0zM826.4 1197.6a3.6 3.6 0 1 0 7.3 0a3.6 3.6 0 1 0 -7.3 0zM787.9 1213a4.4 4.4 0 1 0 8.7 0a4.4 4.4 0 1 0 -8.7 0z"/>
<path fill="#2c422c" d="M807.7 1203.1a4.7 4.7 0 1 0 9.5 0a4.7 4.7 0 1 0 -9.5 0zM721.3 1225.5a5 5 0 1 0 10.1 0a5 5 0 1 0 -10.1 0zM761 1208a3.3 3.3 0 1 0 6.6 0a3.3 3.3 0 1 0 -6.6 0zM740.1 1233.2a4.3 4.3 0 1 0 8.5 0a4.3 4.3 0 1 0 -8.5 0zM821 1215.6a2.8 2.8 0 1 0 5.7 0a2.8 2.8 0 1 0 -5.7 0zM758.9 1206a5.4 5.4 0 1 0 10.8 0a5.4 5.4 0 1 0 -10.8 0zM810.7 1195.5a3.5 3.5 0 1 0 7 0a3.5 3.5 0 1 0 -7 0zM792.4 1215.4a3.4 3.4 0 1 0 6.9 0a3.4 3.4 0 1 0 -6.9 0zM811.7 1216.2a3.3 3.3 0 1 0 6.5 0a3.3 3.3 0 1 0 -6.5 0z"/>
<path fill="#34502f" d="M727.7 1212.9a5.2 5.2 0 1 0 10.3 0a5.2 5.2 0 1 0 -10.3 0zM795.9 1205.5a4.6 4.6 0 1 0 9.1 0a4.6 4.6 0 1 0 -9.1 0zM744 1204.8a4.3 4.3 0 1 0 8.6 0a4.3 4.3 0 1 0 -8.6 0zM769.1 1196.3a4.2 4.2 0 1 0 8.5 0a4.2 4.2 0 1 0 -8.5 0zM818.9 1193.9a3.7 3.7 0 1 0 7.5 0a3.7 3.7 0 1 0 -7.5 0zM744.3 1241.5a5.1 5.1 0 1 0 10.2 0a5.1 5.1 0 1 0 -10.2 0zM754.7 1202.3a3.1 3.1 0 1 0 6.2 0a3.1 3.1 0 1 0 -6.2 0zM754.9 1217.2a2.7 2.7 0 1 0 5.5 0a2.7 2.7 0 1 0 -5.5 0zM733.1 1208.7a3.9 3.9 0 1 0 7.8 0a3.9 3.9 0 1 0 -7.8 0z"/>
<path fill="#1c2b1e" d="M783.2 1208.6a4.4 4.4 0 1 0 8.8 0a4.4 4.4 0 1 0 -8.8 0zM813.1 1211.4a4.2 4.2 0 1 0 8.3 0a4.2 4.2 0 1 0 -8.3 0zM758.3 1207.7a3.3 3.3 0 1 0 6.5 0a3.3 3.3 0 1 0 -6.5 0zM741.5 1203.9a4.4 4.4 0 1 0 8.8 0a4.4 4.4 0 1 0 -8.8 0zM738.5 1246a4.6 4.6 0 1 0 9.2 0a4.6 4.6 0 1 0 -9.2 0zM752.3 1192.7a4.1 4.1 0 1 0 8.2 0a4.1 4.1 0 1 0 -8.2 0z"/>
<path fill="#3f7a36" d="M720 1238.4a3.9 3.9 0 1 0 7.9 0a3.9 3.9 0 1 0 -7.9 0zM720.1 1215.4a5.4 5.4 0 1 0 10.8 0a5.4 5.4 0 1 0 -10.8 0zM808.1 1213a4.1 4.1 0 1 0 8.3 0a4.1 4.1 0 1 0 -8.3 0zM817.6 1212.3a2.8 2.8 0 1 0 5.6 0a2.8 2.8 0 1 0 -5.6 0zM790.9 1214.3a3.5 3.5 0 1 0 7 0a3.5 3.5 0 1 0 -7 0zM805.4 1204.1a4.4 4.4 0 1 0 8.7 0a4.4 4.4 0 1 0 -8.7 0zM814.8 1195.3a3.5 3.5 0 1 0 6.9 0a3.5 3.5 0 1 0 -6.9 0z"/>
<path fill="#182419" d="M769.1 1192.4a3.7 3.7 0 1 0 7.4 0a3.7 3.7 0 1 0 -7.4 0zM716 1226.2a5.3 5.3 0 1 0 10.6 0a5.3 5.3 0 1 0 -10.6 0zM736.3 1205a5.3 5.3 0 1 0 10.7 0a5.3 5.3 0 1 0 -10.7 0zM789.6 1184.2a2.6 2.6 0 1 0 5.1 0a2.6 2.6 0 1 0 -5.1 0zM762.6 1191.6a3.5 3.5 0 1 0 6.9 0a3.5 3.5 0 1 0 -6.9 0zM755.9 1203.9a5.3 5.3 0 1 0 10.6 0a5.3 5.3 0 1 0 -10.6 0zM722 1226.9a4.2 4.2 0 1 0 8.4 0a4.2 4.2 0 1 0 -8.4 0zM750.9 1227.9a4 4 0 1 0 8.1 0a4 4 0 1 0 -8.1 0zM719.4 1230.9a2.8 2.8 0 1 0 5.5 0a2.8 2.8 0 1 0 -5.5 0zM805.5 1217.8a5.2 5.2 0 1 0 10.4 0a5.2 5.2 0 1 0 -10.4 0z"/>
<polygon points="835.9,1191.6 871.4,1191.6 875.2,1207.7 868.8,1233.5 845.5,1221.3 835.9,1207.7" fill="#294827"/>
<path fill="#2a3a34" d="M837 1214.5a3.9 3.9 0 1 0 7.9 0a3.9 3.9 0 1 0 -7.9 0zM867.1 1223.2a3.2 3.2 0 1 0 6.5 0a3.2 3.2 0 1 0 -6.5 0zM855.5 1195.5a3 3 0 1 0 6 0a3 3 0 1 0 -6 0zM845.4 1198.3a3.4 3.4 0 1 0 6.8 0a3.4 3.4 0 1 0 -6.8 0zM868.1 1197.9a3.6 3.6 0 1 0 7.1 0a3.6 3.6 0 1 0 -7.1 0zM848.2 1192.5a2.6 2.6 0 1 0 5.2 0a2.6 2.6 0 1 0 -5.2 0zM859.6 1200.9a4.5 4.5 0 1 0 9 0a4.5 4.5 0 1 0 -9 0z"/>
<path fill="#1c2b1e" d="M860.5 1223.3a2.8 2.8 0 1 0 5.7 0a2.8 2.8 0 1 0 -5.7 0z"/>
<path fill="#34502f" d="M864.2 1197.8a3.6 3.6 0 1 0 7.3 0a3.6 3.6 0 1 0 -7.3 0z"/>
<path fill="#182419" d="M838.2 1210.1a2.7 2.7 0 1 0 5.5 0a2.7 2.7 0 1 0 -5.5 0zM859.2 1220.1a2.5 2.5 0 1 0 5 0a2.5 2.5 0 1 0 -5 0zM838.7 1210.5a3.8 3.8 0 1 0 7.5 0a3.8 3.8 0 1 0 -7.5 0z"/>
<path fill="#22302a" d="M858.6 1222.5a4.9 4.9 0 1 0 9.9 0a4.9 4.9 0 1 0 -9.9 0zM859.7 1205.6a2.5 2.5 0 1 0 5.1 0a2.5 2.5 0 1 0 -5.1 0z"/>
<path fill="#2c422c" d="M842.1 1204.6a4.7 4.7 0 1 0 9.4 0a4.7 4.7 0 1 0 -9.4 0zM860.7 1226.5a3.8 3.8 0 1 0 7.6 0a3.8 3.8 0 1 0 -7.6 0zM842.1 1219.9a3 3 0 1 0 6 0a3 3 0 1 0 -6 0z"/>
<path fill="#243626" d="M838.1 1199.3a3.5 3.5 0 1 0 7 0a3.5 3.5 0 1 0 -7 0zM844.9 1218.6a4.4 4.4 0 1 0 8.8 0a4.4 4.4 0 1 0 -8.8 0zM860.4 1214.9a4.6 4.6 0 1 0 9.2 0a4.6 4.6 0 1 0 -9.2 0zM857.6 1207.1a3.5 3.5 0 1 0 6.9 0a3.5 3.5 0 1 0 -6.9 0zM854.7 1207.7a4.7 4.7 0 1 0 9.4 0a4.7 4.7 0 1 0 -9.4 0z"/>
<circle cx="910.1" cy="1191.6" r="11.0" fill="#33552f"/>
<circle cx="855.2" cy="1181.9" r="7.0" fill="#2f4f2c"/>
<circle cx="884.3" cy="1178.7" r="9.0" fill="#3a5a34"/>
<polyline points="832.6,1192.3 864.9,1187.1 897.2,1189.0 930.1,1196.1 955.2,1207.7 972.0,1220.6" fill="none" stroke="#cfc7b6" stroke-width="2.6" stroke-linecap="round" stroke-linejoin="round"/>
<polygon points="887.5,1212.6 929.4,1211.0 972.0,1220.6 972.0,1246.5 877.8,1246.5" fill="#8f9488"/>
<path fill="#4aa3c8" d="M969 1220.8l3.9 -1.6 1.1 2.6 -3.9 1.6zM931.2 1235.2l5.2 -1.8 1.2 3.3 -5.2 1.8zM879.4 1243l3.6 -1.2 0.9 2.7 -3.6 1.2zM889.7 1213.7l7.3 -2.8 0.8 2.2 -7.3 2.8zM951.5 1240.6l6.7 -1.8 0.8 3 -6.7 1.8zM882 1234.3l3.6 -1.6 1 2.3 -3.6 1.6z"/>
<path fill="#6f6f6f" d="M916.3 1234l6.8 -2.8 1.5 3.6 -6.8 2.8zM917.4 1214.2l7.1 -2.6 1.3 3.5 -7.1 2.6zM906.1 1233.2l5.6 -1.9 0.7 2.1 -5.6 1.9zM967.2 1243.2l3.1 -1.4 1 2.1 -3.1 1.4zM933.6 1237.8l3.6 2.2 -1.6 2.7 -3.6 -2.2zM919.1 1241.5l3.8 -1.5 1.4 3.4 -3.8 1.5zM879.3 1230.2l6.8 -2.4 0.8 2.3 -6.8 2.4zM882.1 1239.3l6.5 -2.4 1.3 3.5 -6.5 2.4zM919.5 1220.3l5.8 -1.8 1.1 3.5 -5.8 1.8zM893.9 1234.7l3.1 -0.9 0.9 3 -3.1 0.9zM888 1243.6l7 -2.4 0.7 2 -7 2.4z"/>
<path fill="#a5623e" d="M947.1 1221.5l4.5 3.5 -1.4 1.8 -4.5 -3.5zM910 1222.5l3.5 -1.7 1.3 2.7 -3.5 1.7zM912 1225.6l7 -2.3 1.1 3.4 -7 2.3zM902 1211.6l3.9 -1.1 1 3.6 -3.9 1.1zM904.4 1221.1l2.6 1.6 -2 3.4 -2.6 -1.6zM927.8 1238.8l5.6 3.6 -2.1 3.2 -5.6 -3.6zM943.6 1242.9l4.6 3.8 -1.8 2.1 -4.6 -3.8z"/>
<path fill="#b8b8b8" d="M961.8 1239.8l5.1 -1.4 0.7 2.6 -5.1 1.4zM916.5 1230.4l3.5 2 -1.2 2.2 -3.5 -2zM922.4 1220.9l4.6 4 -2.1 2.5 -4.6 -4zM893.8 1245.4l5.6 -2.1 0.9 2.4 -5.6 2.1zM925.8 1235.9l3.9 -1.7 1 2.2 -3.9 1.7zM896.6 1210.7l6.4 4 -1.7 2.8 -6.4 -4zM931.1 1214.8l4.9 -1.9 1.3 3.5 -4.9 1.9zM903.8 1225.3l5 4.1 -2.5 3 -5 -4.1zM882.3 1240.7l4.2 -1.6 1 2.7 -4.2 1.6zM885.6 1223.1l6.4 -2.9 1.6 3.6 -6.4 2.9zM907.4 1245.8l3 -1 0.7 2.1 -3 1z"/>
<path fill="#d9d9d9" d="M892 1219.3l4.3 -2 1.6 3.3 -4.3 2zM951.1 1242.5l3.9 -1.9 1.5 3.2 -3.9 1.9zM970.9 1236.2l3.7 2.9 -1.8 2.3 -3.7 -2.9z"/>
<path fill="#eeeeee" d="M885.2 1234.8l3.5 -1 0.8 2.6 -3.5 1zM936.6 1212.6l4.1 -1 0.6 2.4 -4.1 1zM889.1 1234.6l3.7 -1.2 0.9 2.8 -3.7 1.2zM953.3 1238.5l7.2 -2.3 1.1 3.3 -7.2 2.3zM887.8 1229.7l6.6 -2.3 0.7 2 -6.6 2.3zM912.1 1222.4l4.6 2.6 -1.5 2.7 -4.6 -2.6z"/>
<path fill="#3f6f3a" d="M883.7 1229l4.1 -1.3 1.1 3.6 -4.1 1.3zM930.6 1214.3l3.1 -1 0.8 2.5 -3.1 1zM889.4 1245.7l3.7 -1.8 1.2 2.4 -3.7 1.8zM934.9 1233l3.9 -1.7 1.2 2.8 -3.9 1.7zM929.7 1215.4l4.5 -1.5 1.2 3.5 -4.5 1.5zM888.1 1209.7l4.1 2.9 -2.3 3.2 -4.1 -2.9z"/>
<polygon points="929.4,1233.5 972.0,1231.9 972.0,1246.5 929.4,1246.5" fill="#58a03e"/>
<polygon points="893.9,1227.1 914.9,1226.5 915.9,1236.8 894.6,1237.4" fill="#7d6a5e"/>
<polygon points="790.7,1227.7 806.2,1228.4 805.5,1236.8 791.4,1236.1" fill="#7f8a8c"/>
<polygon points="693.9,1194.8 716.5,1198.1 715.2,1207.7 693.3,1204.5" fill="#d96a4a"/>
<polygon points="664.9,1177.1 685.9,1178.7 684.3,1186.8 664.3,1185.2" fill="#4fae9a"/>
<polygon points="706.8,1186.8 727.8,1188.4 726.8,1194.8 706.2,1193.5" fill="#a9d3e0"/>
<polygon points="731.0,1172.3 742.3,1172.9 755.2,1185.2 748.8,1191.6 732.6,1186.8" fill="#9fc8b8"/>
<polygon points="652.0,1152.9 664.9,1153.5 664.9,1167.4 652.0,1166.5" fill="#d9d4cc"/>
</g></svg>
</div>
<div class="abs" style="left:342.6px;top:1178.2px;width:322.2px;height:70px;background:#fff;border-radius:13px 13px 0 0;"></div>
<svg width="992" height="1283" viewBox="0 0 992 1283">
  <circle cx="386.9" cy="1215.2" r="25.2" fill="#fff" stroke="#151515" stroke-width="1.5"/>
  <circle cx="386.9" cy="1215.2" r="23.5" fill="none" stroke="#333" stroke-width="0.5"/>
  <path d="M386.9,1203 L384.5,1199.9 C379.5,1200.8 374.5,1204 372.2,1211 C370.3,1217.5 372.5,1225 379.5,1229.3 L386.9,1226 L394.3,1229.3 C401.3,1225 403.5,1217.5 401.6,1211 C399.3,1204 394.3,1200.8 389.3,1199.9 Z" fill="#1c9a42"/>
  <path d="M378.8,1204.6 H394.1 V1216 C394.1,1221 390.8,1224 386.5,1225.6 C382.2,1224 378.8,1221 378.8,1216 Z" fill="#6aa53b" stroke="#b99a2e" stroke-width="0.7"/>
  <path d="M378.8,1204.6 H394.1 V1215.3 H378.8 Z" fill="#2b7fc7"/>
  <circle cx="383.3" cy="1211.2" r="2.7" fill="#e8f2fb"/>
  <path d="M387.2,1223.6 l1,2.3 2.5,0.3 -1.9,1.7 0.6,2.5 -2.2,-1.3 -2.2,1.3 0.6,-2.5 -1.9,-1.7 2.5,-0.3 z" fill="#f3c41c"/>
  <circle cx="374.8" cy="1218.2" r="1.5" fill="#f3d024"/><circle cx="376.9" cy="1216.4" r="1.2" fill="#f3d024"/>
  <circle cx="397.3" cy="1212" r="1.5" fill="#f3d024"/><circle cx="399.4" cy="1213" r="1.2" fill="#f3d024"/>
  <path id="arcTop" d="M369.6,1218.3 A17.6,17.6 0 1 1 404.2,1218.3" fill="none"/>
  <path id="arcBot" d="M367.6,1224.6 A21.4,21.4 0 0 0 406.2,1224.6" fill="none"/>
  <text font-family="'Liberation Serif',serif" font-weight="700" font-size="6.2" fill="#111" stroke="#111" stroke-width="0.25"><textPath href="#arcTop" startOffset="0" textLength="60.5" lengthAdjust="spacingAndGlyphs">MUNICIPIO DE TOCANCIPÁ</textPath></text>
  <text font-family="'Liberation Serif',serif" font-weight="700" font-size="4.2" fill="#111" stroke="#111" stroke-width="0.2"><textPath href="#arcBot" startOffset="0" textLength="46.5" lengthAdjust="spacingAndGlyphs">TRADICIÓN Y PROGRESO</textPath></text>
  <path d="M417.7,1189.2 V1240.6 M511.1,1189.2 V1240.6" stroke="#4a4a4a" stroke-width="1.4" fill="none"/>
</svg>
<span class="t" style="left:422.74px;top:1202.06px;font-size:14.39px;color:#222;transform:scaleX(0.7341)">SECRETARÍA DE</span>
<span class="t" style="left:437.08px;top:1217.07px;font-size:13.23px;color:#111;-webkit-text-stroke:0.50px #111;transform:scaleX(0.8058)"><b>HACIENDA</b></span>
<span class="t" style="left:515.81px;top:1199.91px;font-size:13.52px;color:#111;-webkit-text-stroke:0.30px #111;transform:scaleX(1.0250)"><b>ALCALDÍA DE</b></span>
<span class="t" style="left:516.31px;top:1215.34px;font-size:18.60px;color:#111;-webkit-text-stroke:0.90px #111;transform:scaleX(1.1781)"><b>TOCANCIPÁ</b></span>
</footer>

</body>
</html>
